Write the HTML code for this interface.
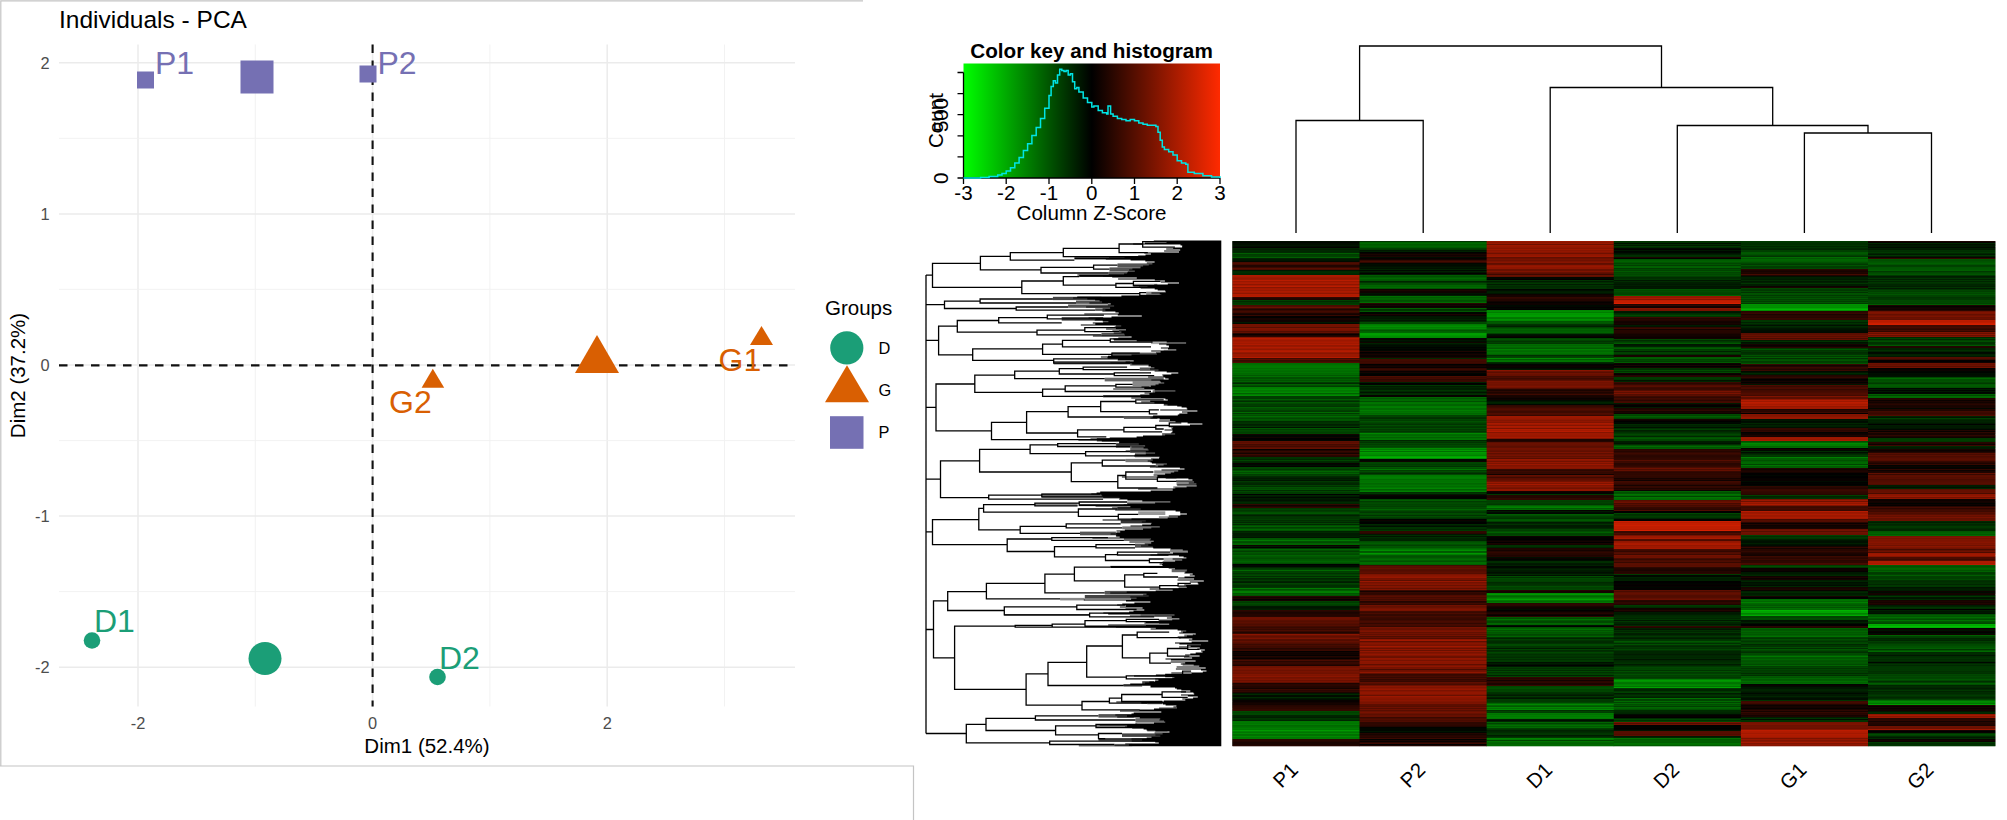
<!DOCTYPE html>
<html lang="en"><head><meta charset="utf-8"><title>PCA and heatmap</title>
<style>
html,body{margin:0;padding:0;background:#fff;}
body{width:2007px;height:820px;overflow:hidden;}
svg{display:block;font-family:"Liberation Sans", sans-serif;}
</style></head><body>
<svg width="2007" height="820" viewBox="0 0 2007 820">
<rect width="2007" height="820" fill="#fff"/>
<g id="pca">
<g stroke="#c4c4c4" stroke-width="1.2" fill="none"><path d="M0.8 766 V0.8 H863"/><path d="M0 766 H913.5 V820"/></g>
<text x="59" y="28" font-size="24.5" fill="#000">Individuals - PCA</text>
<path d="M138.0 44.5 V706.5" stroke="#ebebeb" stroke-width="1.5"/><path d="M372.6 44.5 V706.5" stroke="#ebebeb" stroke-width="1.5"/><path d="M607.2 44.5 V706.5" stroke="#ebebeb" stroke-width="1.5"/><path d="M255.3 44.5 V706.5" stroke="#f0f0f0" stroke-width="0.9"/><path d="M489.9 44.5 V706.5" stroke="#f0f0f0" stroke-width="0.9"/><path d="M724.5 44.5 V706.5" stroke="#f0f0f0" stroke-width="0.9"/><path d="M59 667.2 H795" stroke="#ebebeb" stroke-width="1.5"/><path d="M59 516.1 H795" stroke="#ebebeb" stroke-width="1.5"/><path d="M59 365.0 H795" stroke="#ebebeb" stroke-width="1.5"/><path d="M59 213.9 H795" stroke="#ebebeb" stroke-width="1.5"/><path d="M59 62.8 H795" stroke="#ebebeb" stroke-width="1.5"/><path d="M59 591.6 H795" stroke="#f0f0f0" stroke-width="0.9"/><path d="M59 440.6 H795" stroke="#f0f0f0" stroke-width="0.9"/><path d="M59 289.4 H795" stroke="#f0f0f0" stroke-width="0.9"/><path d="M59 138.4 H795" stroke="#f0f0f0" stroke-width="0.9"/>
<path d="M59 365.4 H795" stroke="#111" stroke-width="2.1" stroke-dasharray="8.5 7.5"/>
<path d="M372.6 706.5 V44.5" stroke="#111" stroke-width="2.1" stroke-dasharray="8.5 7.5" stroke-dashoffset="2.5"/>
<text x="49.5" y="673.1" font-size="16.4" fill="#4d4d4d" text-anchor="end">-2</text>
<text x="49.5" y="522.0" font-size="16.4" fill="#4d4d4d" text-anchor="end">-1</text>
<text x="49.5" y="370.9" font-size="16.4" fill="#4d4d4d" text-anchor="end">0</text>
<text x="49.5" y="219.8" font-size="16.4" fill="#4d4d4d" text-anchor="end">1</text>
<text x="49.5" y="68.7" font-size="16.4" fill="#4d4d4d" text-anchor="end">2</text>
<text x="138.0" y="728.6" font-size="16.4" fill="#4d4d4d" text-anchor="middle">-2</text>
<text x="372.6" y="728.6" font-size="16.4" fill="#4d4d4d" text-anchor="middle">0</text>
<text x="607.2" y="728.6" font-size="16.4" fill="#4d4d4d" text-anchor="middle">2</text>
<text x="427" y="752.8" font-size="20.5" fill="#000" text-anchor="middle">Dim1 (52.4%)</text>
<text transform="translate(24.7 375.5) rotate(-90)" font-size="20.5" fill="#000" text-anchor="middle">Dim2 (37.2%)</text>
<rect x="137" y="71.5" width="17" height="17" fill="#7570b3"/>
<rect x="240.5" y="60.5" width="33" height="33" fill="#7570b3"/>
<rect x="359.5" y="65.5" width="17" height="17" fill="#7570b3"/>
<text x="155" y="73.5" font-size="32" fill="#7570b3">P1</text>
<text x="377.5" y="73.5" font-size="32" fill="#7570b3">P2</text>
<circle cx="92" cy="640.5" r="8.3" fill="#1b9e77"/>
<circle cx="265" cy="658.5" r="16.5" fill="#1b9e77"/>
<circle cx="437.5" cy="677" r="8.3" fill="#1b9e77"/>
<text x="94" y="632" font-size="32" fill="#1b9e77">D1</text>
<text x="439" y="668.5" font-size="32" fill="#1b9e77">D2</text>
<path d="M597 335 L619 373 H575 Z" fill="#d95f02"/>
<path d="M432.8 368.8 L444.2 387.8 H421.6 Z" fill="#d95f02"/>
<path d="M761.5 326 L773 345 H750 Z" fill="#d95f02"/>
<text x="389" y="412.5" font-size="32" fill="#d95f02">G2</text>
<text x="718.5" y="370.8" font-size="32" fill="#d95f02">G1</text>
<text x="825" y="315" font-size="20.5" fill="#000">Groups</text>
<circle cx="846.8" cy="347.9" r="16.6" fill="#1b9e77"/>
<path d="M847 365.2 L869 402.3 H825 Z" fill="#d95f02"/>
<rect x="830" y="416.2" width="33.5" height="32.6" fill="#7570b3"/>
<text x="878.5" y="353.7" font-size="16.4" fill="#000">D</text>
<text x="878.5" y="395.8" font-size="16.4" fill="#000">G</text>
<text x="878.5" y="437.5" font-size="16.4" fill="#000">P</text>
</g>
<g id="key">
<defs><linearGradient id="kg" x1="0" x2="1" y1="0" y2="0"><stop offset="0" stop-color="#00ff00"/><stop offset="0.5" stop-color="#000"/><stop offset="1" stop-color="#ff2a00"/></linearGradient></defs>
<rect x="963.5" y="63.5" width="256.5" height="114.5" fill="url(#kg)"/>
<text x="1091.5" y="58" font-size="20.7" font-weight="bold" text-anchor="middle" fill="#000">Color key and histogram</text>
<text x="963.5" y="200" font-size="20.6" text-anchor="middle" fill="#000">-3</text>
<text x="1006.2" y="200" font-size="20.6" text-anchor="middle" fill="#000">-2</text>
<text x="1049.0" y="200" font-size="20.6" text-anchor="middle" fill="#000">-1</text>
<text x="1091.8" y="200" font-size="20.6" text-anchor="middle" fill="#000">0</text>
<text x="1134.5" y="200" font-size="20.6" text-anchor="middle" fill="#000">1</text>
<text x="1177.2" y="200" font-size="20.6" text-anchor="middle" fill="#000">2</text>
<text x="1220.0" y="200" font-size="20.6" text-anchor="middle" fill="#000">3</text>
<path d="M963.5 178 H1220 M963.5 178 V184 M1006.2 178 V184 M1049.0 178 V184 M1091.8 178 V184 M1134.5 178 V184 M1177.2 178 V184 M1220.0 178 V184 M963.5 178 V72.5 M963.5 72.5 H957.5 M963.5 93.6 H957.5 M963.5 114.7 H957.5 M963.5 135.8 H957.5 M963.5 156.9 H957.5 M963.5 178 H957.5" stroke="#000" stroke-width="1.3" fill="none"/>
<text x="1091.5" y="220" font-size="20.6" text-anchor="middle" fill="#000">Column Z-Score</text>
<text transform="translate(948.3 178.3) rotate(-90)" font-size="20.6" text-anchor="middle" fill="#000">0</text>
<text transform="translate(948.3 114.9) rotate(-90)" font-size="20.6" text-anchor="middle" fill="#000">500</text>
<text transform="translate(943.2 120.6) rotate(-90)" font-size="20.6" text-anchor="middle" fill="#000">Count</text>
<path d="M963.5 178.0 H980.6 V177.4 H989.1 V176.6 H997.7 V175.1 H1002.0 V173.4 H1006.2 V171.1 H1010.5 V167.7 H1014.8 V163.1 H1019.1 V157.4 H1023.4 V150.5 H1027.6 V143.7 H1031.9 V135.6 H1036.2 V127.6 H1040.5 V118.5 H1044.7 V108.2 H1049.0 V95.6 H1051.1 V86.4 H1053.3 V80.7 H1055.4 V83.0 H1057.5 V75.0 H1059.7 V69.2 H1061.8 V70.4 H1064.0 V71.5 H1066.1 V70.4 H1068.2 V75.0 H1070.4 V73.8 H1072.5 V81.8 H1074.7 V88.7 H1076.8 V87.5 H1078.9 V92.1 H1083.2 V97.9 H1087.5 V102.4 H1091.8 V107.0 H1093.9 V105.9 H1098.2 V110.4 H1102.4 V112.7 H1106.7 V113.9 H1108.0 V105.9 H1110.6 V113.9 H1113.1 V116.2 H1117.4 V118.5 H1121.7 V119.6 H1126.0 V120.8 H1130.2 V119.6 H1134.5 V120.8 H1138.8 V123.0 H1143.0 V124.2 H1147.3 V125.3 H1151.6 V125.3 H1155.9 V126.5 H1158.0 V132.2 H1160.2 V140.2 H1162.3 V147.1 H1164.4 V149.4 H1168.7 V151.7 H1173.0 V155.1 H1177.2 V160.8 H1181.5 V163.1 H1185.8 V164.3 H1187.9 V172.3 H1194.3 V173.4 H1202.9 V175.7 H1211.5 V176.9 H1220.0 V178.0" stroke="#00e5e5" stroke-width="1.5" fill="none"/>
</g>
<g id="coldend">
<path d="M1296.0 233 V120.5 H1423.2 V233 M1804.4 233 V133 H1931.5 V233 M1677.3 233 V125.5 H1868.0 V133 M1550.2 233 V87.5 H1772.7 V125.5 M1359.6 120.5 V46 H1661.5 V87.5" stroke="#000" stroke-width="1.3" fill="none"/>
</g>
<g id="rowdend">
<rect x="1074.4" y="257.3" width="73.3" height="2.1" fill="#000"/><rect x="1117.5" y="263.4" width="36.7" height="4.1" fill="#555"/><rect x="1109.5" y="267.4" width="31.9" height="4.1" fill="#555"/><rect x="1108.7" y="271.8" width="27.9" height="3.3" fill="#555"/><rect x="1079.2" y="274.8" width="59.0" height="2.1" fill="#000"/><rect x="1133.4" y="283.8" width="23.9" height="3.3" fill="#888"/><rect x="1146.2" y="291.7" width="23.9" height="3.3" fill="#888"/><rect x="1052.9" y="296.8" width="48.6" height="3.3" fill="#444"/><rect x="1076.0" y="300.5" width="31.9" height="3.3" fill="#555"/><rect x="1068.1" y="304.5" width="52.6" height="3.3" fill="#555"/><rect x="1095.2" y="308.4" width="19.1" height="2.5" fill="#555"/><rect x="1061.7" y="317.0" width="41.5" height="3.7" fill="#555"/><rect x="1103.1" y="321.7" width="12.8" height="3.3" fill="#333"/><rect x="1115.9" y="325.1" width="22.3" height="4.1" fill="#555"/><rect x="1119.1" y="330.1" width="19.1" height="2.5" fill="#666"/><rect x="1101.5" y="332.9" width="27.1" height="3.3" fill="#555"/><rect x="1151.0" y="340.8" width="47.8" height="3.3" fill="#aaa"/><rect x="1163.7" y="349.7" width="22.3" height="2.9" fill="#aaa"/><rect x="1111.9" y="352.6" width="50.2" height="3.3" fill="#555"/><rect x="1107.9" y="356.5" width="30.3" height="2.1" fill="#222"/><rect x="1130.2" y="361.5" width="30.3" height="4.1" fill="#555"/><rect x="1053.7" y="361.1" width="76.5" height="3.3" fill="#555"/><rect x="1139.8" y="367.5" width="22.3" height="3.3" fill="#555"/><rect x="1104.7" y="377.7" width="59.0" height="3.7" fill="#666"/><rect x="1132.6" y="381.0" width="35.9" height="5.0" fill="#888"/><rect x="1152.6" y="390.2" width="31.9" height="3.3" fill="#777"/><rect x="1103.1" y="395.2" width="41.5" height="2.1" fill="#000"/><rect x="1163.7" y="401.7" width="28.7" height="4.1" fill="#666"/><rect x="1123.9" y="416.0" width="33.5" height="2.9" fill="#555"/><rect x="1162.1" y="433.1" width="23.9" height="2.9" fill="#666"/><rect x="1096.8" y="438.1" width="44.6" height="3.3" fill="#333"/><rect x="1115.9" y="442.9" width="27.1" height="2.5" fill="#555"/><rect x="1115.9" y="445.3" width="38.3" height="2.5" fill="#666"/><rect x="1130.2" y="448.0" width="46.2" height="5.0" fill="#666"/><rect x="1135.0" y="453.2" width="28.7" height="4.1" fill="#666"/><rect x="1125.5" y="458.9" width="28.7" height="3.3" fill="#777"/><rect x="1155.8" y="462.4" width="27.1" height="5.0" fill="#777"/><rect x="1154.2" y="470.4" width="35.1" height="3.3" fill="#888"/><rect x="1176.5" y="481.1" width="23.9" height="4.1" fill="#888"/><rect x="1173.3" y="486.3" width="25.5" height="3.3" fill="#888"/><rect x="1178.1" y="488.9" width="20.7" height="2.1" fill="#777"/><rect x="1041.8" y="493.6" width="61.4" height="4.1" fill="#666"/><rect x="1103.1" y="495.1" width="27.1" height="3.3" fill="#222"/><rect x="1127.1" y="501.4" width="46.2" height="2.5" fill="#888"/><rect x="1034.9" y="503.2" width="42.7" height="2.5" fill="#888"/><rect x="1079.2" y="504.4" width="47.8" height="1.7" fill="#000"/><rect x="1117.5" y="507.0" width="27.1" height="2.9" fill="#444"/><rect x="1138.2" y="511.3" width="27.1" height="3.7" fill="#999"/><rect x="1158.9" y="516.2" width="22.3" height="4.1" fill="#999"/><rect x="1120.7" y="520.1" width="33.5" height="3.3" fill="#333"/><rect x="1122.3" y="526.4" width="47.8" height="2.9" fill="#777"/><rect x="1080.0" y="531.6" width="35.9" height="3.7" fill="#555"/><rect x="1115.9" y="532.7" width="15.9" height="3.7" fill="#222"/><rect x="1123.9" y="537.7" width="30.3" height="3.3" fill="#666"/><rect x="1135.0" y="543.6" width="19.1" height="4.1" fill="#555"/><rect x="1170.1" y="549.3" width="23.9" height="3.3" fill="#888"/><rect x="1163.7" y="557.8" width="25.5" height="3.3" fill="#aaa"/><rect x="1110.3" y="565.9" width="59.8" height="2.1" fill="#000"/><rect x="1171.7" y="568.9" width="20.7" height="3.3" fill="#666"/><rect x="1104.7" y="590.9" width="52.6" height="3.7" fill="#555"/><rect x="1084.8" y="595.0" width="69.4" height="3.7" fill="#444"/><rect x="1060.1" y="597.9" width="24.7" height="2.5" fill="#888"/><rect x="1154.2" y="607.2" width="31.9" height="2.9" fill="#888"/><rect x="1154.2" y="614.0" width="22.3" height="2.5" fill="#888"/><rect x="1004.2" y="614.0" width="85.8" height="1.8" fill="#666"/><rect x="1140.6" y="614.0" width="13.5" height="2.6" fill="#aaa"/><rect x="1159.1" y="619.4" width="28.6" height="4.4" fill="#666"/><rect x="1085.0" y="625.5" width="107.7" height="2.2" fill="#000"/><rect x="1181.0" y="629.1" width="13.5" height="3.5" fill="#777"/><rect x="1184.3" y="634.5" width="10.1" height="3.5" fill="#777"/><rect x="1182.6" y="663.2" width="16.8" height="2.6" fill="#888"/><rect x="1142.2" y="681.2" width="11.8" height="4.4" fill="#444"/><rect x="1123.7" y="684.4" width="18.5" height="2.2" fill="#555"/><rect x="1147.3" y="701.6" width="15.1" height="2.6" fill="#555"/><rect x="1159.1" y="707.4" width="21.9" height="3.5" fill="#666"/><rect x="1098.5" y="714.1" width="35.3" height="3.5" fill="#555"/><rect x="1135.5" y="718.2" width="37.0" height="4.4" fill="#666"/><rect x="1096.0" y="724.0" width="41.2" height="3.9" fill="#777"/><rect x="1147.3" y="728.8" width="20.2" height="2.6" fill="#555"/><rect x="1122.0" y="733.4" width="47.1" height="3.5" fill="#444"/><rect x="1098.5" y="738.1" width="52.2" height="2.6" fill="#333"/><rect x="1114.5" y="743.9" width="17.7" height="2.2" fill="#555"/>
<path d="M1221.3 240.5H1153.8V241.5H1166.5V242.5H1144.8V243.5H1133.1V244.5H1180.5V245.5H1182.2V246.5H1182.1V247.5H1173.2V248.5H1166.2V249.5H1180.2V250.5H1164.1V251.5H1179.0V252.5H1144.3V253.5H1150.9V254.5H1145.5V255.5H1138.2V256.5H1124.5V257.5H1109.0V258.5H1105.8V259.5H1130.6V260.5H1145.3V261.5H1154.6V262.5H1146.8V263.5H1152.4V264.5H1148.8V265.5H1143.1V266.5H1140.6V267.5H1140.4V268.5H1132.4V269.5H1129.1V270.5H1134.8V271.5H1127.8V272.5H1127.1V273.5H1124.1V274.5H1077.4V275.5H1103.0V276.5H1112.2V277.5H1136.8V278.5H1118.1V279.5H1154.8V280.5H1164.9V281.5H1160.8V282.5H1179.0V283.5H1167.8V284.5H1154.2V285.5H1138.9V286.5H1147.5V287.5H1140.6V288.5H1154.7V289.5H1157.7V290.5H1165.2V291.5H1165.8V292.5H1151.4V293.5H1159.7V294.5H1161.3V295.5H1121.4V296.5H1077.2V297.5H1073.1V298.5H1087.3V299.5H1095.1V300.5H1099.6V301.5H1102.1V302.5H1089.4V303.5H1110.7V304.5H1107.9V305.5H1114.1V306.5H1086.1V307.5H1110.1V308.5H1102.6V309.5H1105.4V310.5H1102.4V311.5H1115.4V312.5H1118.7V313.5H1084.3V314.5H1117.8V315.5H1141.8V316.5H1111.5V317.5H1088.6V318.5H1095.5V319.5H1094.7V320.5H1102.7V321.5H1108.4V322.5H1092.8V323.5H1095.3V324.5H1080.8V325.5H1121.2V326.5H1114.7V327.5H1115.9V328.5H1106.1V329.5H1126.0V330.5H1112.4V331.5H1121.4V332.5H1113.7V333.5H1124.2V334.5H1124.9V335.5H1092.9V336.5H1131.6V337.5H1118.3V338.5H1113.3V339.5H1113.9V340.5H1136.7V341.5H1166.7V342.5H1186.1V343.5H1159.0V344.5H1166.4V345.5H1168.9V346.5H1168.9V347.5H1160.9V348.5H1168.0V349.5H1176.3V350.5H1151.2V351.5H1160.6V352.5H1156.0V353.5H1157.0V354.5H1131.5V355.5H1111.4V356.5H1100.9V357.5H1107.5V358.5H1118.0V359.5H1117.7V360.5H1133.7V361.5H1125.6V362.5H1110.4V363.5H1132.2V364.5H1148.6V365.5H1148.5V366.5H1150.9V367.5H1154.4V368.5H1150.0V369.5H1158.5V370.5H1154.6V371.5H1166.7V372.5H1178.3V373.5H1171.3V374.5H1162.3V375.5H1163.3V376.5H1148.1V377.5H1165.2V378.5H1168.6V379.5H1151.3V380.5H1159.9V381.5H1160.9V382.5H1164.2V383.5H1158.6V384.5H1155.5V385.5H1150.8V386.5H1141.5V387.5H1144.3V388.5H1113.2V389.5H1154.6V390.5H1175.4V391.5H1155.1V392.5H1144.5V393.5H1149.4V394.5H1140.2V395.5H1140.2V396.5H1140.9V397.5H1131.3V398.5H1165.4V399.5H1167.8V400.5H1150.2V401.5H1141.2V402.5H1154.4V403.5H1164.0V404.5H1167.5V405.5H1177.2V406.5H1181.6V407.5H1186.6V408.5H1187.3V409.5H1160.2V410.5H1197.4V411.5H1182.0V412.5H1187.4V413.5H1179.3V414.5H1177.8V415.5H1153.1V416.5H1152.6V417.5H1150.4V418.5H1159.6V419.5H1170.0V420.5H1159.1V421.5H1175.5V422.5H1187.6V423.5H1202.4V424.5H1190.0V425.5H1169.6V426.5H1173.1V427.5H1171.3V428.5H1172.3V429.5H1164.5V430.5H1172.6V431.5H1172.2V432.5H1170.9V433.5H1175.1V434.5H1165.1V435.5H1143.0V436.5H1136.6V437.5H1109.7V438.5H1090.5V439.5H1078.4V440.5H1101.8V441.5H1119.2V442.5H1119.0V443.5H1138.8V444.5H1116.5V445.5H1145.1V446.5H1131.4V447.5H1143.6V448.5H1147.7V449.5H1148.6V450.5H1125.7V451.5H1145.8V452.5H1155.1V453.5H1145.8V454.5H1134.7V455.5H1134.3V456.5H1159.6V457.5H1159.0V458.5H1151.1V459.5H1152.7V460.5H1147.7V461.5H1150.5V462.5H1151.9V463.5H1166.9V464.5H1163.6V465.5H1158.1V466.5H1149.9V467.5H1179.9V468.5H1184.5V469.5H1161.5V470.5H1178.2V471.5H1174.2V472.5H1170.8V473.5H1165.1V474.5H1153.6V475.5H1157.4V476.5H1121.9V477.5H1165.7V478.5H1188.4V479.5H1192.5V480.5H1176.1V481.5H1194.1V482.5H1188.8V483.5H1196.4V484.5H1177.2V485.5H1196.7V486.5H1186.6V487.5H1175.3V488.5H1138.1V489.5H1172.7V490.5H1150.7V491.5H1100.2V492.5H1096.6V493.5H1091.3V494.5H1101.4V495.5H1102.2V496.5H1119.2V497.5H1120.2V498.5H1119.1V499.5H1127.4V500.5H1142.3V501.5H1170.4V502.5H1155.1V503.5H1127.2V504.5H1123.7V505.5H1095.6V506.5H1130.4V507.5H1112.1V508.5H1140.7V509.5H1115.2V510.5H1175.6V511.5H1180.2V512.5H1180.2V513.5H1186.9V514.5H1180.3V515.5H1168.8V516.5H1177.9V517.5H1167.7V518.5H1131.5V519.5H1102.6V520.5H1145.8V521.5H1141.9V522.5H1151.7V523.5H1150.9V524.5H1142.2V525.5H1130.5V526.5H1159.8V527.5H1151.3V528.5H1143.0V529.5H1124.8V530.5H1116.5V531.5H1120.2V532.5H1116.6V533.5H1110.6V534.5H1117.3V535.5H1116.3V536.5H1119.7V537.5H1092.4V538.5H1151.0V539.5H1149.8V540.5H1153.7V541.5H1129.4V542.5H1151.2V543.5H1144.7V544.5H1148.3V545.5H1141.0V546.5H1152.8V547.5H1153.3V548.5H1170.6V549.5H1182.8V550.5H1187.8V551.5H1188.0V552.5H1173.0V553.5H1157.3V554.5H1150.4V555.5H1179.0V556.5H1183.6V557.5H1186.4V558.5H1172.6V559.5H1182.2V560.5H1175.1V561.5H1162.6V562.5H1162.9V563.5H1159.6V564.5H1162.1V565.5H1162.9V566.5H1163.6V567.5H1168.7V568.5H1175.0V569.5H1187.1V570.5H1186.7V571.5H1185.3V572.5H1184.4V573.5H1192.7V574.5H1189.8V575.5H1194.7V576.5H1184.5V577.5H1178.2V578.5H1194.1V579.5H1177.5V580.5H1203.8V581.5H1189.8V582.5H1197.7V583.5H1198.4V584.5H1184.3V585.5H1186.1V586.5H1186.8V587.5H1178.6V588.5H1149.7V589.5H1172.7V590.5H1155.7V591.5H1126.7V592.5H1110.2V593.5H1146.5V594.5H1143.2V595.5H1148.7V596.5H1130.3V597.5H1136.6V598.5H1131.1V599.5H1083.8V600.5H1126.0V601.5H1150.4V602.5H1134.4V603.5H1122.3V604.5H1117.1V605.5H1126.0V606.5H1119.9V607.5H1142.6V608.5H1125.5V609.5H1144.3V610.5H1133.5V611.5H1129.1V612.5H1103.3V613.5H1108.2V614.5H1174.5V615.5H1129.9V616.5H1171.8V617.5H1166.9V618.5H1179.4V619.5H1172.2V620.5H1158.4V621.5H1145.7V622.5H1144.4V623.5H1169.2V624.5H1108.2V625.5H1145.9V626.5H1115.9V627.5H1155.8V628.5H1150.6V629.5H1177.6V630.5H1186.2V631.5H1182.9V632.5H1179.2V633.5H1195.7V634.5H1192.8V635.5H1187.0V636.5H1177.7V637.5H1178.8V638.5H1192.3V639.5H1188.9V640.5H1208.2V641.5H1191.6V642.5H1175.0V643.5H1179.4V644.5H1201.0V645.5H1190.6V646.5H1179.1V647.5H1199.8V648.5H1197.3V649.5H1204.8V650.5H1201.0V651.5H1202.5V652.5H1195.7V653.5H1190.3V654.5H1185.1V655.5H1199.6V656.5H1184.0V657.5H1192.1V658.5H1165.5V659.5H1170.9V660.5H1195.6V661.5H1170.7V662.5H1185.2V663.5H1180.8V664.5H1193.7V665.5H1199.2V666.5H1176.6V667.5H1205.7V668.5H1175.9V669.5H1201.0V670.5H1206.5V671.5H1202.8V672.5H1171.3V673.5H1191.6V674.5H1155.9V675.5H1134.0V676.5H1174.4V677.5H1172.3V678.5H1155.2V679.5H1158.4V680.5H1155.1V681.5H1149.3V682.5H1145.1V683.5H1130.2V684.5H1123.4V685.5H1150.5V686.5H1150.5V687.5H1175.0V688.5H1176.8V689.5H1181.3V690.5H1190.3V691.5H1180.9V692.5H1193.4V693.5H1194.2V694.5H1181.0V695.5H1187.9V696.5H1197.8V697.5H1193.1V698.5H1182.3V699.5H1185.3V700.5H1163.8V701.5H1116.3V702.5H1141.3V703.5H1162.9V704.5H1165.6V705.5H1176.4V706.5H1173.4V707.5H1177.0V708.5H1154.0V709.5H1139.3V710.5H1120.0V711.5H1161.3V712.5H1133.7V713.5H1131.5V714.5H1115.3V715.5H1127.0V716.5H1117.2V717.5H1139.8V718.5H1160.2V719.5H1159.4V720.5H1164.0V721.5H1165.2V722.5H1154.0V723.5H1135.3V724.5H1099.7V725.5H1127.1V726.5H1125.1V727.5H1132.2V728.5H1143.6V729.5H1146.6V730.5H1155.3V731.5H1169.5V732.5H1154.6V733.5H1162.6V734.5H1155.4V735.5H1160.3V736.5H1151.5V737.5H1146.7V738.5H1131.5V739.5H1142.1V740.5H1131.7V741.5H1155.2V742.5H1158.8V743.5H1125.2V744.5H1128.9V745.5H1078.8V746.2H1221.3Z" fill="#000"/>
<path d="M980.4 263.4H932.5V287.3H1021.8M1010.3 256.4H980.4V269.8H1041.0M1063.3 252.7H1010.3V260.2H1074.4M1119.1 248.4H1063.3V256.7H1147.8M1142.7 244.0H1119.1V252.7H1147.8M1166.9 241.6H1142.7V247.2H1174.9M1093.6 267.4H1041.0V273.0H1108.7M1117.5 265.2H1093.6V269.2H1109.5M1063.3 281.0H1021.8V293.7H1139.8M1079.2 276.7H1063.3V285.1H1115.9M1133.4 283.5H1115.9V287.3H1157.4M1160.5 281.4H1133.4V285.7H1157.4M1146.2 292.6H1139.8V295.3H1170.1M980.1 301.1H944.5V308.5H1016.2M1052.9 299.0H980.1V303.0H1076.0M1068.1 307.0H1016.2V310.1H1095.2M957.3 326.1H938.6V354.8H972.7M998.7 320.5H957.3V332.1H1037.0M1047.3 317.6H998.7V322.9H1061.7M1103.9 315.2H1047.3V318.9H1103.1M1084.8 330.1H1037.0V334.9H1101.5M1115.9 327.7H1084.8V331.7H1119.1M1042.6 348.9H972.7V360.4H1053.7M1062.5 344.1H1042.6V354.3H1111.9M1110.3 340.4H1062.5V346.8H1151.0M1151.0 338.8H1110.3V342.0H1152.6M1160.5 358.8H1053.7V363.1H1130.2M1139.8 353.2H1111.9V356.4H1107.9M974.8 384.0H936.0V430.9H991.5M1014.7 375.1H974.8V392.3H1042.6M1059.3 371.2H1014.7V378.7H1104.7M1083.2 368.7H1059.3V374.0H1114.3M1127.1 367.1H1083.2V369.7H1139.8M1151.0 372.8H1114.3V375.6H1154.2M1065.2 389.1H1042.6V396.3H1103.1M1115.9 385.9H1065.2V391.5H1151.0M1132.6 384.3H1115.9V387.2H1149.4M1026.6 422.3H991.5V439.6H1096.8M1068.1 411.7H1026.6V433.0H1077.6M1100.7 406.6H1068.1V417.0H1123.9M1135.8 401.5H1100.7V411.7H1149.4M1163.7 399.9H1135.8V403.1H1165.3M1158.9 409.8H1149.4V413.8H1157.4M1123.9 429.8H1077.6V436.9H1106.3M1155.8 427.4H1123.9V431.8H1162.1M1169.3 425.5H1155.8V429.0H1163.7M1181.3 422.9H1169.3V426.6H1184.5M1030.1 449.4H979.6V472.0H1071.3M1057.7 444.9H1030.1V453.7H1085.6M1115.9 443.6H1057.7V446.5H1130.2M1130.2 451.6H1085.6V455.8H1135.0M1102.3 462.8H1071.3V481.6H1117.8M1125.5 460.1H1102.3V466.0H1155.8M1125.8 475.5H1117.8V488.0H1157.4M1153.4 472.0H1125.8V479.2H1157.4M1176.5 477.6H1157.4V481.3H1176.5M1041.8 495.2H988.7V499.2H1103.1M1100.0 494.1H1041.8V496.8H1130.2M978.8 519.6H932.5V544.6H1007.2M983.6 508.4H978.8V529.8H1020.2M1034.9 504.7H983.6V512.2H1078.4M1079.2 503.1H1034.9V505.9H1077.6M1127.1 502.0H1079.2V505.2H1154.2M1117.5 509.0H1078.4V516.4H1118.3M1138.2 514.3H1118.3V519.1H1158.9M1066.2 526.3H1020.2V533.4H1080.0M1120.7 523.9H1066.2V527.9H1122.3M1051.8 539.0H1007.2V551.5H1054.5M1107.9 537.7H1051.8V540.3H1123.9M1096.0 546.7H1054.5V556.9H1105.5M1135.0 544.6H1096.0V547.8H1135.0M1117.5 554.6H1105.5V560.5H1149.4M1170.1 552.1H1117.5V555.0H1168.5M1163.7 559.0H1149.4V562.6H1166.9M986.4 591.6H947.7V610.5H1004.3M1044.9 583.3H986.4V598.8H1060.1M1074.4 574.1H1044.9V592.8H1104.7M1110.3 567.2H1074.4V580.8H1124.7M1143.8 574.9H1124.7V587.2H1159.7M1157.4 573.3H1143.8V577.0H1178.1M1178.1 585.6H1159.7V588.8H1194.0M1190.8 583.3H1178.1V586.1H1190.8M1076.8 606.8H1004.3V614.8H1089.6M1125.5 605.2H1076.8V609.5H1136.6M1176.5 613.2H1089.6V616.8H1154.2M1015.2 626.1H954.6V689.4H1026.1M1052.2 625.4H1015.2V627.1H1085.0M1085.0 624.1H1052.2V627.1H1085.0M1126.3 620.7H1085.0V626.6H1191.1M1159.1 619.4H1126.3V621.6H1159.1M1048.0 673.8H1026.1V705.2H1082.0M1086.7 662.3H1048.0V685.5H1123.7M1122.4 646.0H1086.7V677.1H1126.3M1137.2 635.0H1122.4V657.8H1149.8M1169.2 632.2H1137.2V637.6H1181.0M1167.5 653.1H1149.8V663.2H1170.9M1187.7 648.5H1167.5V656.1H1189.4M1201.2 645.1H1187.7V649.3H1199.5M1165.8 675.9H1126.3V678.8H1179.3M1182.6 674.3H1165.8V676.6H1179.3M1191.1 671.2H1182.6V674.6H1201.2M1109.4 701.5H1082.0V709.9H1139.7M1121.7 698.2H1109.4V703.2H1147.3M1162.1 694.5H1121.7V701.5H1162.4M1186.0 691.8H1162.1V697.3H1187.7M986.0 724.3H966.3V742.8H1049.7M1035.4 718.4H986.0V730.5H1055.6M1098.5 715.8H1035.4V720.0H1135.5M1096.0 725.9H1055.6V734.9H1098.5M1137.2 724.3H1096.0V727.6H1147.3M1122.0 733.5H1098.5V738.6H1105.2M1167.5 741.1H1049.7V744.5H1114.5M926.0 275.1 V733.5M926.0 275.1 H932.5M926.0 304.6 H944.5M926.0 340.4 H938.6M926.0 407.4 H936.0M926.0 479.2 H940.5M926.0 531.8 H932.5M926.0 629.5 H933.5M926.0 733.5 H966.3M979.6 460.9 H940.5 V497.6 H988.7M947.7 600.9 H933.5 V657.8 H954.6" stroke="#000" stroke-width="1.3" fill="none"/>
</g>
<g id="heat">
<rect x="1232.5" y="241" width="762.6" height="505" fill="#0a1a00"/>
<rect x="1232.5" y="241" width="127.4" height="1.3" fill="#000e00"/><rect x="1232.5" y="242" width="127.4" height="1.3" fill="#000500"/><rect x="1232.5" y="243" width="127.4" height="1.3" fill="#000d00"/><rect x="1232.5" y="244" width="127.4" height="1.3" fill="#000e00"/><rect x="1232.5" y="245" width="127.4" height="1.3" fill="#001500"/><rect x="1232.5" y="246" width="127.4" height="1.3" fill="#000d00"/><rect x="1232.5" y="247" width="127.4" height="1.3" fill="#020000"/><rect x="1232.5" y="248" width="127.4" height="1.3" fill="#002600"/><rect x="1232.5" y="249" width="127.4" height="1.3" fill="#001f00"/><rect x="1232.5" y="250" width="127.4" height="1.3" fill="#002800"/><rect x="1232.5" y="251" width="127.4" height="1.3" fill="#002600"/><rect x="1232.5" y="252" width="127.4" height="1.3" fill="#002900"/><rect x="1232.5" y="253" width="127.4" height="1.3" fill="#005e00"/><rect x="1232.5" y="254" width="127.4" height="1.3" fill="#003d00"/><rect x="1232.5" y="255" width="127.4" height="1.3" fill="#004100"/><rect x="1232.5" y="256" width="127.4" height="1.3" fill="#004200"/><rect x="1232.5" y="257" width="127.4" height="1.3" fill="#005e00"/><rect x="1232.5" y="258" width="127.4" height="1.3" fill="#002200"/><rect x="1232.5" y="259" width="127.4" height="1.3" fill="#001800"/><rect x="1232.5" y="260" width="127.4" height="1.3" fill="#001400"/><rect x="1232.5" y="261" width="127.4" height="1.3" fill="#000b00"/><rect x="1232.5" y="262" width="127.4" height="1.3" fill="#470b00"/><rect x="1232.5" y="263" width="127.4" height="1.3" fill="#4f0c00"/><rect x="1232.5" y="264" width="127.4" height="1.3" fill="#400a00"/><rect x="1232.5" y="265" width="127.4" height="1.3" fill="#200500"/><rect x="1232.5" y="266" width="127.4" height="1.3" fill="#210500"/><rect x="1232.5" y="267" width="127.4" height="1.3" fill="#380800"/><rect x="1232.5" y="268" width="127.4" height="1.3" fill="#570d00"/><rect x="1232.5" y="269" width="127.4" height="1.3" fill="#480b00"/><rect x="1232.5" y="270" width="127.4" height="1.3" fill="#001600"/><rect x="1232.5" y="271" width="127.4" height="1.3" fill="#002b00"/><rect x="1232.5" y="272" width="127.4" height="1.3" fill="#002d00"/><rect x="1232.5" y="273" width="127.4" height="1.3" fill="#002800"/><rect x="1232.5" y="274" width="127.4" height="1.3" fill="#002500"/><rect x="1232.5" y="275" width="127.4" height="1.3" fill="#b01a00"/><rect x="1232.5" y="276" width="127.4" height="1.3" fill="#aa1a00"/><rect x="1232.5" y="277" width="127.4" height="1.3" fill="#9f1800"/><rect x="1232.5" y="278" width="127.4" height="1.3" fill="#971700"/><rect x="1232.5" y="279" width="127.4" height="1.3" fill="#9d1800"/><rect x="1232.5" y="280" width="127.4" height="1.3" fill="#b91c00"/><rect x="1232.5" y="281" width="127.4" height="1.3" fill="#991700"/><rect x="1232.5" y="282" width="127.4" height="1.3" fill="#a91900"/><rect x="1232.5" y="283" width="127.4" height="1.3" fill="#ac1a00"/><rect x="1232.5" y="284" width="127.4" height="1.3" fill="#8e1500"/><rect x="1232.5" y="285" width="127.4" height="1.3" fill="#a61900"/><rect x="1232.5" y="286" width="127.4" height="1.3" fill="#ba1c00"/><rect x="1232.5" y="287" width="127.4" height="1.3" fill="#861400"/><rect x="1232.5" y="288" width="127.4" height="1.3" fill="#a11800"/><rect x="1232.5" y="289" width="127.4" height="1.3" fill="#a41900"/><rect x="1232.5" y="290" width="127.4" height="1.3" fill="#991700"/><rect x="1232.5" y="291" width="127.4" height="1.3" fill="#ad1a00"/><rect x="1232.5" y="292" width="127.4" height="1.3" fill="#a51900"/><rect x="1232.5" y="293" width="127.4" height="1.3" fill="#8f1500"/><rect x="1232.5" y="294" width="127.4" height="1.3" fill="#b31b00"/><rect x="1232.5" y="295" width="127.4" height="1.3" fill="#b01a00"/><rect x="1232.5" y="296" width="127.4" height="1.3" fill="#b51b00"/><rect x="1232.5" y="297" width="127.4" height="1.3" fill="#2e0700"/><rect x="1232.5" y="298" width="127.4" height="1.3" fill="#210500"/><rect x="1232.5" y="299" width="127.4" height="1.3" fill="#1e0400"/><rect x="1232.5" y="300" width="127.4" height="1.3" fill="#004200"/><rect x="1232.5" y="301" width="127.4" height="1.3" fill="#002b00"/><rect x="1232.5" y="302" width="127.4" height="1.3" fill="#003a00"/><rect x="1232.5" y="303" width="127.4" height="1.3" fill="#003800"/><rect x="1232.5" y="304" width="127.4" height="1.3" fill="#004200"/><rect x="1232.5" y="305" width="127.4" height="1.3" fill="#490b00"/><rect x="1232.5" y="306" width="127.4" height="1.3" fill="#4f0c00"/><rect x="1232.5" y="307" width="127.4" height="1.3" fill="#681000"/><rect x="1232.5" y="308" width="127.4" height="1.3" fill="#3b0900"/><rect x="1232.5" y="309" width="127.4" height="1.3" fill="#200500"/><rect x="1232.5" y="310" width="127.4" height="1.3" fill="#350800"/><rect x="1232.5" y="311" width="127.4" height="1.3" fill="#440a00"/><rect x="1232.5" y="312" width="127.4" height="1.3" fill="#3a0900"/><rect x="1232.5" y="313" width="127.4" height="1.3" fill="#1b0400"/><rect x="1232.5" y="314" width="127.4" height="1.3" fill="#130300"/><rect x="1232.5" y="315" width="127.4" height="1.3" fill="#370800"/><rect x="1232.5" y="316" width="127.4" height="1.3" fill="#030000"/><rect x="1232.5" y="317" width="127.4" height="1.3" fill="#000200"/><rect x="1232.5" y="318" width="127.4" height="1.3" fill="#160300"/><rect x="1232.5" y="319" width="127.4" height="1.3" fill="#170300"/><rect x="1232.5" y="320" width="127.4" height="1.3" fill="#0d0200"/><rect x="1232.5" y="321" width="127.4" height="1.3" fill="#0e0200"/><rect x="1232.5" y="322" width="127.4" height="1.3" fill="#001800"/><rect x="1232.5" y="323" width="127.4" height="1.3" fill="#000a00"/><rect x="1232.5" y="324" width="127.4" height="1.3" fill="#751200"/><rect x="1232.5" y="325" width="127.4" height="1.3" fill="#731100"/><rect x="1232.5" y="326" width="127.4" height="1.3" fill="#741100"/><rect x="1232.5" y="327" width="127.4" height="1.3" fill="#560d00"/><rect x="1232.5" y="328" width="127.4" height="1.3" fill="#7e1300"/><rect x="1232.5" y="329" width="127.4" height="1.3" fill="#791200"/><rect x="1232.5" y="330" width="127.4" height="1.3" fill="#731100"/><rect x="1232.5" y="331" width="127.4" height="1.3" fill="#500c00"/><rect x="1232.5" y="332" width="127.4" height="1.3" fill="#630f00"/><rect x="1232.5" y="333" width="127.4" height="1.3" fill="#270600"/><rect x="1232.5" y="334" width="127.4" height="1.3" fill="#080100"/><rect x="1232.5" y="335" width="127.4" height="1.3" fill="#1b0400"/><rect x="1232.5" y="336" width="127.4" height="1.3" fill="#290600"/><rect x="1232.5" y="337" width="127.4" height="1.3" fill="#8a1500"/><rect x="1232.5" y="338" width="127.4" height="1.3" fill="#b71b00"/><rect x="1232.5" y="339" width="127.4" height="1.3" fill="#a71900"/><rect x="1232.5" y="340" width="127.4" height="1.3" fill="#9c1700"/><rect x="1232.5" y="341" width="127.4" height="1.3" fill="#a31800"/><rect x="1232.5" y="342" width="127.4" height="1.3" fill="#a91900"/><rect x="1232.5" y="343" width="127.4" height="1.3" fill="#a01800"/><rect x="1232.5" y="344" width="127.4" height="1.3" fill="#b01a00"/><rect x="1232.5" y="345" width="127.4" height="1.3" fill="#941600"/><rect x="1232.5" y="346" width="127.4" height="1.3" fill="#981700"/><rect x="1232.5" y="347" width="127.4" height="1.3" fill="#af1a00"/><rect x="1232.5" y="348" width="127.4" height="1.3" fill="#9f1800"/><rect x="1232.5" y="349" width="127.4" height="1.3" fill="#911600"/><rect x="1232.5" y="350" width="127.4" height="1.3" fill="#ad1a00"/><rect x="1232.5" y="351" width="127.4" height="1.3" fill="#b51b00"/><rect x="1232.5" y="352" width="127.4" height="1.3" fill="#971700"/><rect x="1232.5" y="353" width="127.4" height="1.3" fill="#891500"/><rect x="1232.5" y="354" width="127.4" height="2.3" fill="#9c1700"/><rect x="1232.5" y="356" width="127.4" height="1.3" fill="#9a1700"/><rect x="1232.5" y="357" width="127.4" height="1.3" fill="#b41b00"/><rect x="1232.5" y="358" width="127.4" height="1.3" fill="#3b0900"/><rect x="1232.5" y="359" width="127.4" height="1.3" fill="#580d00"/><rect x="1232.5" y="360" width="127.4" height="1.3" fill="#380800"/><rect x="1232.5" y="361" width="127.4" height="1.3" fill="#3e0900"/><rect x="1232.5" y="362" width="127.4" height="1.3" fill="#500c00"/><rect x="1232.5" y="363" width="127.4" height="1.3" fill="#006a00"/><rect x="1232.5" y="364" width="127.4" height="1.3" fill="#006e00"/><rect x="1232.5" y="365" width="127.4" height="1.3" fill="#007500"/><rect x="1232.5" y="366" width="127.4" height="2.3" fill="#007800"/><rect x="1232.5" y="368" width="127.4" height="1.3" fill="#006b00"/><rect x="1232.5" y="369" width="127.4" height="1.3" fill="#007600"/><rect x="1232.5" y="370" width="127.4" height="1.3" fill="#006f00"/><rect x="1232.5" y="371" width="127.4" height="1.3" fill="#006b00"/><rect x="1232.5" y="372" width="127.4" height="1.3" fill="#007300"/><rect x="1232.5" y="373" width="127.4" height="1.3" fill="#006800"/><rect x="1232.5" y="374" width="127.4" height="1.3" fill="#006b00"/><rect x="1232.5" y="375" width="127.4" height="1.3" fill="#005700"/><rect x="1232.5" y="376" width="127.4" height="1.3" fill="#006f00"/><rect x="1232.5" y="377" width="127.4" height="1.3" fill="#004e00"/><rect x="1232.5" y="378" width="127.4" height="1.3" fill="#004d00"/><rect x="1232.5" y="379" width="127.4" height="1.3" fill="#005e00"/><rect x="1232.5" y="380" width="127.4" height="1.3" fill="#005100"/><rect x="1232.5" y="381" width="127.4" height="1.3" fill="#006200"/><rect x="1232.5" y="382" width="127.4" height="1.3" fill="#003c00"/><rect x="1232.5" y="383" width="127.4" height="1.3" fill="#002900"/><rect x="1232.5" y="384" width="127.4" height="1.3" fill="#006100"/><rect x="1232.5" y="385" width="127.4" height="1.3" fill="#004f00"/><rect x="1232.5" y="386" width="127.4" height="1.3" fill="#003e00"/><rect x="1232.5" y="387" width="127.4" height="1.3" fill="#007c00"/><rect x="1232.5" y="388" width="127.4" height="1.3" fill="#007e00"/><rect x="1232.5" y="389" width="127.4" height="1.3" fill="#008800"/><rect x="1232.5" y="390" width="127.4" height="1.3" fill="#007800"/><rect x="1232.5" y="391" width="127.4" height="1.3" fill="#007d00"/><rect x="1232.5" y="392" width="127.4" height="1.3" fill="#008900"/><rect x="1232.5" y="393" width="127.4" height="1.3" fill="#005e00"/><rect x="1232.5" y="394" width="127.4" height="1.3" fill="#007c00"/><rect x="1232.5" y="395" width="127.4" height="1.3" fill="#008a00"/><rect x="1232.5" y="396" width="127.4" height="1.3" fill="#003b00"/><rect x="1232.5" y="397" width="127.4" height="1.3" fill="#003c00"/><rect x="1232.5" y="398" width="127.4" height="1.3" fill="#003a00"/><rect x="1232.5" y="399" width="127.4" height="1.3" fill="#005c00"/><rect x="1232.5" y="400" width="127.4" height="1.3" fill="#004000"/><rect x="1232.5" y="401" width="127.4" height="1.3" fill="#002d00"/><rect x="1232.5" y="402" width="127.4" height="1.3" fill="#005700"/><rect x="1232.5" y="403" width="127.4" height="1.3" fill="#004900"/><rect x="1232.5" y="404" width="127.4" height="1.3" fill="#003c00"/><rect x="1232.5" y="405" width="127.4" height="1.3" fill="#003d00"/><rect x="1232.5" y="406" width="127.4" height="1.3" fill="#003500"/><rect x="1232.5" y="407" width="127.4" height="1.3" fill="#005e00"/><rect x="1232.5" y="408" width="127.4" height="1.3" fill="#004d00"/><rect x="1232.5" y="409" width="127.4" height="1.3" fill="#004c00"/><rect x="1232.5" y="410" width="127.4" height="1.3" fill="#004000"/><rect x="1232.5" y="411" width="127.4" height="1.3" fill="#003a00"/><rect x="1232.5" y="412" width="127.4" height="1.3" fill="#006b00"/><rect x="1232.5" y="413" width="127.4" height="1.3" fill="#003a00"/><rect x="1232.5" y="414" width="127.4" height="1.3" fill="#005b00"/><rect x="1232.5" y="415" width="127.4" height="1.3" fill="#004d00"/><rect x="1232.5" y="416" width="127.4" height="1.3" fill="#006a00"/><rect x="1232.5" y="417" width="127.4" height="1.3" fill="#005400"/><rect x="1232.5" y="418" width="127.4" height="1.3" fill="#004600"/><rect x="1232.5" y="419" width="127.4" height="1.3" fill="#005800"/><rect x="1232.5" y="420" width="127.4" height="1.3" fill="#005400"/><rect x="1232.5" y="421" width="127.4" height="1.3" fill="#002900"/><rect x="1232.5" y="422" width="127.4" height="1.3" fill="#003100"/><rect x="1232.5" y="423" width="127.4" height="1.3" fill="#003300"/><rect x="1232.5" y="424" width="127.4" height="1.3" fill="#002000"/><rect x="1232.5" y="425" width="127.4" height="1.3" fill="#002500"/><rect x="1232.5" y="426" width="127.4" height="1.3" fill="#003600"/><rect x="1232.5" y="427" width="127.4" height="1.3" fill="#001100"/><rect x="1232.5" y="428" width="127.4" height="1.3" fill="#005700"/><rect x="1232.5" y="429" width="127.4" height="1.3" fill="#003c00"/><rect x="1232.5" y="430" width="127.4" height="1.3" fill="#004b00"/><rect x="1232.5" y="431" width="127.4" height="1.3" fill="#004600"/><rect x="1232.5" y="432" width="127.4" height="1.3" fill="#003f00"/><rect x="1232.5" y="433" width="127.4" height="1.3" fill="#004500"/><rect x="1232.5" y="434" width="127.4" height="1.3" fill="#120300"/><rect x="1232.5" y="435" width="127.4" height="2.3" fill="#000600"/><rect x="1232.5" y="437" width="127.4" height="1.3" fill="#120300"/><rect x="1232.5" y="438" width="127.4" height="1.3" fill="#000000"/><rect x="1232.5" y="439" width="127.4" height="1.3" fill="#000100"/><rect x="1232.5" y="440" width="127.4" height="1.3" fill="#000600"/><rect x="1232.5" y="441" width="127.4" height="1.3" fill="#600e00"/><rect x="1232.5" y="442" width="127.4" height="1.3" fill="#590d00"/><rect x="1232.5" y="443" width="127.4" height="1.3" fill="#630f00"/><rect x="1232.5" y="444" width="127.4" height="1.3" fill="#430a00"/><rect x="1232.5" y="445" width="127.4" height="1.3" fill="#4f0c00"/><rect x="1232.5" y="446" width="127.4" height="1.3" fill="#400a00"/><rect x="1232.5" y="447" width="127.4" height="1.3" fill="#590d00"/><rect x="1232.5" y="448" width="127.4" height="1.3" fill="#640f00"/><rect x="1232.5" y="449" width="127.4" height="1.3" fill="#040100"/><rect x="1232.5" y="450" width="127.4" height="1.3" fill="#200500"/><rect x="1232.5" y="451" width="127.4" height="1.3" fill="#370800"/><rect x="1232.5" y="452" width="127.4" height="1.3" fill="#290600"/><rect x="1232.5" y="453" width="127.4" height="1.3" fill="#130300"/><rect x="1232.5" y="454" width="127.4" height="1.3" fill="#3c0900"/><rect x="1232.5" y="455" width="127.4" height="1.3" fill="#2a0600"/><rect x="1232.5" y="456" width="127.4" height="1.3" fill="#240500"/><rect x="1232.5" y="457" width="127.4" height="1.3" fill="#003500"/><rect x="1232.5" y="458" width="127.4" height="1.3" fill="#003400"/><rect x="1232.5" y="459" width="127.4" height="1.3" fill="#002700"/><rect x="1232.5" y="460" width="127.4" height="1.3" fill="#004600"/><rect x="1232.5" y="461" width="127.4" height="1.3" fill="#002b00"/><rect x="1232.5" y="462" width="127.4" height="1.3" fill="#002700"/><rect x="1232.5" y="463" width="127.4" height="1.3" fill="#090100"/><rect x="1232.5" y="464" width="127.4" height="1.3" fill="#000900"/><rect x="1232.5" y="465" width="127.4" height="1.3" fill="#000f00"/><rect x="1232.5" y="466" width="127.4" height="1.3" fill="#040100"/><rect x="1232.5" y="467" width="127.4" height="1.3" fill="#004700"/><rect x="1232.5" y="468" width="127.4" height="1.3" fill="#004600"/><rect x="1232.5" y="469" width="127.4" height="1.3" fill="#003600"/><rect x="1232.5" y="470" width="127.4" height="1.3" fill="#004b00"/><rect x="1232.5" y="471" width="127.4" height="1.3" fill="#006600"/><rect x="1232.5" y="472" width="127.4" height="1.3" fill="#004d00"/><rect x="1232.5" y="473" width="127.4" height="1.3" fill="#006000"/><rect x="1232.5" y="474" width="127.4" height="1.3" fill="#003d00"/><rect x="1232.5" y="475" width="127.4" height="1.3" fill="#004400"/><rect x="1232.5" y="476" width="127.4" height="1.3" fill="#002b00"/><rect x="1232.5" y="477" width="127.4" height="1.3" fill="#002400"/><rect x="1232.5" y="478" width="127.4" height="1.3" fill="#001a00"/><rect x="1232.5" y="479" width="127.4" height="1.3" fill="#002300"/><rect x="1232.5" y="480" width="127.4" height="1.3" fill="#001400"/><rect x="1232.5" y="481" width="127.4" height="1.3" fill="#003a00"/><rect x="1232.5" y="482" width="127.4" height="1.3" fill="#002d00"/><rect x="1232.5" y="483" width="127.4" height="1.3" fill="#002700"/><rect x="1232.5" y="484" width="127.4" height="1.3" fill="#002500"/><rect x="1232.5" y="485" width="127.4" height="1.3" fill="#004200"/><rect x="1232.5" y="486" width="127.4" height="1.3" fill="#002f00"/><rect x="1232.5" y="487" width="127.4" height="1.3" fill="#005100"/><rect x="1232.5" y="488" width="127.4" height="1.3" fill="#004700"/><rect x="1232.5" y="489" width="127.4" height="1.3" fill="#005200"/><rect x="1232.5" y="490" width="127.4" height="1.3" fill="#002c00"/><rect x="1232.5" y="491" width="127.4" height="1.3" fill="#004900"/><rect x="1232.5" y="492" width="127.4" height="1.3" fill="#003a00"/><rect x="1232.5" y="493" width="127.4" height="1.3" fill="#003c00"/><rect x="1232.5" y="494" width="127.4" height="1.3" fill="#000000"/><rect x="1232.5" y="495" width="127.4" height="1.3" fill="#002400"/><rect x="1232.5" y="496" width="127.4" height="1.3" fill="#001a00"/><rect x="1232.5" y="497" width="127.4" height="1.3" fill="#000800"/><rect x="1232.5" y="498" width="127.4" height="1.3" fill="#001c00"/><rect x="1232.5" y="499" width="127.4" height="1.3" fill="#001700"/><rect x="1232.5" y="500" width="127.4" height="1.3" fill="#001100"/><rect x="1232.5" y="501" width="127.4" height="1.3" fill="#001f00"/><rect x="1232.5" y="502" width="127.4" height="1.3" fill="#002b00"/><rect x="1232.5" y="503" width="127.4" height="1.3" fill="#002300"/><rect x="1232.5" y="504" width="127.4" height="1.3" fill="#310700"/><rect x="1232.5" y="505" width="127.4" height="1.3" fill="#100200"/><rect x="1232.5" y="506" width="127.4" height="1.3" fill="#1d0400"/><rect x="1232.5" y="507" width="127.4" height="1.3" fill="#300700"/><rect x="1232.5" y="508" width="127.4" height="1.3" fill="#003700"/><rect x="1232.5" y="509" width="127.4" height="1.3" fill="#004100"/><rect x="1232.5" y="510" width="127.4" height="1.3" fill="#003700"/><rect x="1232.5" y="511" width="127.4" height="1.3" fill="#003f00"/><rect x="1232.5" y="512" width="127.4" height="1.3" fill="#005000"/><rect x="1232.5" y="513" width="127.4" height="1.3" fill="#005500"/><rect x="1232.5" y="514" width="127.4" height="1.3" fill="#003300"/><rect x="1232.5" y="515" width="127.4" height="1.3" fill="#002000"/><rect x="1232.5" y="516" width="127.4" height="1.3" fill="#003200"/><rect x="1232.5" y="517" width="127.4" height="1.3" fill="#003600"/><rect x="1232.5" y="518" width="127.4" height="1.3" fill="#003500"/><rect x="1232.5" y="519" width="127.4" height="1.3" fill="#003e00"/><rect x="1232.5" y="520" width="127.4" height="1.3" fill="#002d00"/><rect x="1232.5" y="521" width="127.4" height="1.3" fill="#003900"/><rect x="1232.5" y="522" width="127.4" height="1.3" fill="#002700"/><rect x="1232.5" y="523" width="127.4" height="1.3" fill="#004800"/><rect x="1232.5" y="524" width="127.4" height="1.3" fill="#002700"/><rect x="1232.5" y="525" width="127.4" height="1.3" fill="#005000"/><rect x="1232.5" y="526" width="127.4" height="1.3" fill="#006100"/><rect x="1232.5" y="527" width="127.4" height="1.3" fill="#003f00"/><rect x="1232.5" y="528" width="127.4" height="1.3" fill="#004c00"/><rect x="1232.5" y="529" width="127.4" height="1.3" fill="#006500"/><rect x="1232.5" y="530" width="127.4" height="1.3" fill="#005300"/><rect x="1232.5" y="531" width="127.4" height="1.3" fill="#002100"/><rect x="1232.5" y="532" width="127.4" height="1.3" fill="#002900"/><rect x="1232.5" y="533" width="127.4" height="2.3" fill="#001b00"/><rect x="1232.5" y="535" width="127.4" height="1.3" fill="#001c00"/><rect x="1232.5" y="536" width="127.4" height="1.3" fill="#002000"/><rect x="1232.5" y="537" width="127.4" height="1.3" fill="#001400"/><rect x="1232.5" y="538" width="127.4" height="1.3" fill="#005500"/><rect x="1232.5" y="539" width="127.4" height="1.3" fill="#005700"/><rect x="1232.5" y="540" width="127.4" height="1.3" fill="#007a00"/><rect x="1232.5" y="541" width="127.4" height="1.3" fill="#005100"/><rect x="1232.5" y="542" width="127.4" height="1.3" fill="#004c00"/><rect x="1232.5" y="543" width="127.4" height="1.3" fill="#006200"/><rect x="1232.5" y="544" width="127.4" height="1.3" fill="#006400"/><rect x="1232.5" y="545" width="127.4" height="1.3" fill="#0e0200"/><rect x="1232.5" y="546" width="127.4" height="1.3" fill="#001b00"/><rect x="1232.5" y="547" width="127.4" height="1.3" fill="#000200"/><rect x="1232.5" y="548" width="127.4" height="1.3" fill="#003600"/><rect x="1232.5" y="549" width="127.4" height="1.3" fill="#006300"/><rect x="1232.5" y="550" width="127.4" height="1.3" fill="#004d00"/><rect x="1232.5" y="551" width="127.4" height="1.3" fill="#003d00"/><rect x="1232.5" y="552" width="127.4" height="1.3" fill="#005800"/><rect x="1232.5" y="553" width="127.4" height="1.3" fill="#004f00"/><rect x="1232.5" y="554" width="127.4" height="1.3" fill="#004a00"/><rect x="1232.5" y="555" width="127.4" height="1.3" fill="#006300"/><rect x="1232.5" y="556" width="127.4" height="1.3" fill="#005800"/><rect x="1232.5" y="557" width="127.4" height="1.3" fill="#005200"/><rect x="1232.5" y="558" width="127.4" height="1.3" fill="#004b00"/><rect x="1232.5" y="559" width="127.4" height="1.3" fill="#005700"/><rect x="1232.5" y="560" width="127.4" height="1.3" fill="#005900"/><rect x="1232.5" y="561" width="127.4" height="1.3" fill="#006400"/><rect x="1232.5" y="562" width="127.4" height="1.3" fill="#005b00"/><rect x="1232.5" y="563" width="127.4" height="1.3" fill="#004a00"/><rect x="1232.5" y="564" width="127.4" height="1.3" fill="#010000"/><rect x="1232.5" y="565" width="127.4" height="2.3" fill="#000900"/><rect x="1232.5" y="567" width="127.4" height="1.3" fill="#002500"/><rect x="1232.5" y="568" width="127.4" height="1.3" fill="#003900"/><rect x="1232.5" y="569" width="127.4" height="1.3" fill="#004000"/><rect x="1232.5" y="570" width="127.4" height="1.3" fill="#006a00"/><rect x="1232.5" y="571" width="127.4" height="1.3" fill="#004000"/><rect x="1232.5" y="572" width="127.4" height="1.3" fill="#004200"/><rect x="1232.5" y="573" width="127.4" height="1.3" fill="#003200"/><rect x="1232.5" y="574" width="127.4" height="1.3" fill="#004200"/><rect x="1232.5" y="575" width="127.4" height="1.3" fill="#004900"/><rect x="1232.5" y="576" width="127.4" height="1.3" fill="#002c00"/><rect x="1232.5" y="577" width="127.4" height="1.3" fill="#004a00"/><rect x="1232.5" y="578" width="127.4" height="1.3" fill="#002600"/><rect x="1232.5" y="579" width="127.4" height="1.3" fill="#002e00"/><rect x="1232.5" y="580" width="127.4" height="1.3" fill="#003b00"/><rect x="1232.5" y="581" width="127.4" height="1.3" fill="#002200"/><rect x="1232.5" y="582" width="127.4" height="1.3" fill="#001c00"/><rect x="1232.5" y="583" width="127.4" height="1.3" fill="#004400"/><rect x="1232.5" y="584" width="127.4" height="1.3" fill="#003b00"/><rect x="1232.5" y="585" width="127.4" height="1.3" fill="#002f00"/><rect x="1232.5" y="586" width="127.4" height="1.3" fill="#003000"/><rect x="1232.5" y="587" width="127.4" height="1.3" fill="#003700"/><rect x="1232.5" y="588" width="127.4" height="1.3" fill="#007a00"/><rect x="1232.5" y="589" width="127.4" height="1.3" fill="#004e00"/><rect x="1232.5" y="590" width="127.4" height="1.3" fill="#005d00"/><rect x="1232.5" y="591" width="127.4" height="1.3" fill="#007d00"/><rect x="1232.5" y="592" width="127.4" height="1.3" fill="#007f00"/><rect x="1232.5" y="593" width="127.4" height="1.3" fill="#005400"/><rect x="1232.5" y="594" width="127.4" height="1.3" fill="#005e00"/><rect x="1232.5" y="595" width="127.4" height="1.3" fill="#005200"/><rect x="1232.5" y="596" width="127.4" height="1.3" fill="#260600"/><rect x="1232.5" y="597" width="127.4" height="1.3" fill="#130300"/><rect x="1232.5" y="598" width="127.4" height="1.3" fill="#200500"/><rect x="1232.5" y="599" width="127.4" height="1.3" fill="#040100"/><rect x="1232.5" y="600" width="127.4" height="1.3" fill="#140300"/><rect x="1232.5" y="601" width="127.4" height="1.3" fill="#004200"/><rect x="1232.5" y="602" width="127.4" height="1.3" fill="#003a00"/><rect x="1232.5" y="603" width="127.4" height="1.3" fill="#004a00"/><rect x="1232.5" y="604" width="127.4" height="1.3" fill="#004200"/><rect x="1232.5" y="605" width="127.4" height="1.3" fill="#003b00"/><rect x="1232.5" y="606" width="127.4" height="1.3" fill="#001800"/><rect x="1232.5" y="607" width="127.4" height="1.3" fill="#001500"/><rect x="1232.5" y="608" width="127.4" height="1.3" fill="#001a00"/><rect x="1232.5" y="609" width="127.4" height="1.3" fill="#002100"/><rect x="1232.5" y="610" width="127.4" height="1.3" fill="#2d0700"/><rect x="1232.5" y="611" width="127.4" height="1.3" fill="#250600"/><rect x="1232.5" y="612" width="127.4" height="1.3" fill="#1a0400"/><rect x="1232.5" y="613" width="127.4" height="1.3" fill="#1d0400"/><rect x="1232.5" y="614" width="127.4" height="1.3" fill="#240500"/><rect x="1232.5" y="615" width="127.4" height="1.3" fill="#230500"/><rect x="1232.5" y="616" width="127.4" height="1.3" fill="#260600"/><rect x="1232.5" y="617" width="127.4" height="1.3" fill="#6c1000"/><rect x="1232.5" y="618" width="127.4" height="1.3" fill="#6e1000"/><rect x="1232.5" y="619" width="127.4" height="1.3" fill="#6a1000"/><rect x="1232.5" y="620" width="127.4" height="1.3" fill="#5a0e00"/><rect x="1232.5" y="621" width="127.4" height="1.3" fill="#550d00"/><rect x="1232.5" y="622" width="127.4" height="1.3" fill="#5d0e00"/><rect x="1232.5" y="623" width="127.4" height="1.3" fill="#550d00"/><rect x="1232.5" y="624" width="127.4" height="1.3" fill="#4d0c00"/><rect x="1232.5" y="625" width="127.4" height="1.3" fill="#550d00"/><rect x="1232.5" y="626" width="127.4" height="1.3" fill="#420a00"/><rect x="1232.5" y="627" width="127.4" height="1.3" fill="#360800"/><rect x="1232.5" y="628" width="127.4" height="1.3" fill="#420a00"/><rect x="1232.5" y="629" width="127.4" height="1.3" fill="#350800"/><rect x="1232.5" y="630" width="127.4" height="1.3" fill="#4a0b00"/><rect x="1232.5" y="631" width="127.4" height="1.3" fill="#330800"/><rect x="1232.5" y="632" width="127.4" height="1.3" fill="#1f0500"/><rect x="1232.5" y="633" width="127.4" height="1.3" fill="#340800"/><rect x="1232.5" y="634" width="127.4" height="1.3" fill="#8a1500"/><rect x="1232.5" y="635" width="127.4" height="1.3" fill="#6e1000"/><rect x="1232.5" y="636" width="127.4" height="1.3" fill="#600e00"/><rect x="1232.5" y="637" width="127.4" height="1.3" fill="#681000"/><rect x="1232.5" y="638" width="127.4" height="1.3" fill="#7b1200"/><rect x="1232.5" y="639" width="127.4" height="1.3" fill="#560d00"/><rect x="1232.5" y="640" width="127.4" height="1.3" fill="#520c00"/><rect x="1232.5" y="641" width="127.4" height="1.3" fill="#630f00"/><rect x="1232.5" y="642" width="127.4" height="1.3" fill="#590d00"/><rect x="1232.5" y="643" width="127.4" height="1.3" fill="#4f0c00"/><rect x="1232.5" y="644" width="127.4" height="1.3" fill="#3a0900"/><rect x="1232.5" y="645" width="127.4" height="1.3" fill="#470b00"/><rect x="1232.5" y="646" width="127.4" height="1.3" fill="#3e0900"/><rect x="1232.5" y="647" width="127.4" height="1.3" fill="#3f0900"/><rect x="1232.5" y="648" width="127.4" height="1.3" fill="#250600"/><rect x="1232.5" y="649" width="127.4" height="1.3" fill="#310700"/><rect x="1232.5" y="650" width="127.4" height="1.3" fill="#3b0900"/><rect x="1232.5" y="651" width="127.4" height="1.3" fill="#040100"/><rect x="1232.5" y="652" width="127.4" height="1.3" fill="#130300"/><rect x="1232.5" y="653" width="127.4" height="1.3" fill="#0e0200"/><rect x="1232.5" y="654" width="127.4" height="1.3" fill="#110300"/><rect x="1232.5" y="655" width="127.4" height="1.3" fill="#050100"/><rect x="1232.5" y="656" width="127.4" height="1.3" fill="#230500"/><rect x="1232.5" y="657" width="127.4" height="1.3" fill="#150300"/><rect x="1232.5" y="658" width="127.4" height="1.3" fill="#050100"/><rect x="1232.5" y="659" width="127.4" height="1.3" fill="#2c0700"/><rect x="1232.5" y="660" width="127.4" height="1.3" fill="#4b0b00"/><rect x="1232.5" y="661" width="127.4" height="1.3" fill="#270600"/><rect x="1232.5" y="662" width="127.4" height="1.3" fill="#360800"/><rect x="1232.5" y="663" width="127.4" height="1.3" fill="#370800"/><rect x="1232.5" y="664" width="127.4" height="1.3" fill="#2b0600"/><rect x="1232.5" y="665" width="127.4" height="1.3" fill="#1d0400"/><rect x="1232.5" y="666" width="127.4" height="1.3" fill="#6f1100"/><rect x="1232.5" y="667" width="127.4" height="1.3" fill="#711100"/><rect x="1232.5" y="668" width="127.4" height="1.3" fill="#7c1300"/><rect x="1232.5" y="669" width="127.4" height="1.3" fill="#771200"/><rect x="1232.5" y="670" width="127.4" height="1.3" fill="#6c1000"/><rect x="1232.5" y="671" width="127.4" height="1.3" fill="#781200"/><rect x="1232.5" y="672" width="127.4" height="1.3" fill="#741100"/><rect x="1232.5" y="673" width="127.4" height="1.3" fill="#6f1100"/><rect x="1232.5" y="674" width="127.4" height="1.3" fill="#821400"/><rect x="1232.5" y="675" width="127.4" height="1.3" fill="#7e1300"/><rect x="1232.5" y="676" width="127.4" height="1.3" fill="#8c1500"/><rect x="1232.5" y="677" width="127.4" height="1.3" fill="#721100"/><rect x="1232.5" y="678" width="127.4" height="1.3" fill="#781200"/><rect x="1232.5" y="679" width="127.4" height="1.3" fill="#821400"/><rect x="1232.5" y="680" width="127.4" height="1.3" fill="#6c1000"/><rect x="1232.5" y="681" width="127.4" height="1.3" fill="#7b1200"/><rect x="1232.5" y="682" width="127.4" height="1.3" fill="#640f00"/><rect x="1232.5" y="683" width="127.4" height="1.3" fill="#1c0400"/><rect x="1232.5" y="684" width="127.4" height="2.3" fill="#2b0600"/><rect x="1232.5" y="686" width="127.4" height="1.3" fill="#230500"/><rect x="1232.5" y="687" width="127.4" height="1.3" fill="#210500"/><rect x="1232.5" y="688" width="127.4" height="1.3" fill="#130300"/><rect x="1232.5" y="689" width="127.4" height="1.3" fill="#3a0900"/><rect x="1232.5" y="690" width="127.4" height="1.3" fill="#2a0600"/><rect x="1232.5" y="691" width="127.4" height="1.3" fill="#310700"/><rect x="1232.5" y="692" width="127.4" height="1.3" fill="#1a0400"/><rect x="1232.5" y="693" width="127.4" height="1.3" fill="#001800"/><rect x="1232.5" y="694" width="127.4" height="1.3" fill="#002a00"/><rect x="1232.5" y="695" width="127.4" height="1.3" fill="#000d00"/><rect x="1232.5" y="696" width="127.4" height="1.3" fill="#000b00"/><rect x="1232.5" y="697" width="127.4" height="1.3" fill="#002b00"/><rect x="1232.5" y="698" width="127.4" height="1.3" fill="#001600"/><rect x="1232.5" y="699" width="127.4" height="1.3" fill="#000e00"/><rect x="1232.5" y="700" width="127.4" height="2.3" fill="#080100"/><rect x="1232.5" y="702" width="127.4" height="1.3" fill="#100200"/><rect x="1232.5" y="703" width="127.4" height="1.3" fill="#150300"/><rect x="1232.5" y="704" width="127.4" height="1.3" fill="#130300"/><rect x="1232.5" y="705" width="127.4" height="1.3" fill="#240500"/><rect x="1232.5" y="706" width="127.4" height="1.3" fill="#270600"/><rect x="1232.5" y="707" width="127.4" height="2.3" fill="#2c0700"/><rect x="1232.5" y="709" width="127.4" height="1.3" fill="#360800"/><rect x="1232.5" y="710" width="127.4" height="1.3" fill="#320800"/><rect x="1232.5" y="711" width="127.4" height="1.3" fill="#004a00"/><rect x="1232.5" y="712" width="127.4" height="1.3" fill="#004000"/><rect x="1232.5" y="713" width="127.4" height="2.3" fill="#004700"/><rect x="1232.5" y="715" width="127.4" height="1.3" fill="#002500"/><rect x="1232.5" y="716" width="127.4" height="1.3" fill="#002400"/><rect x="1232.5" y="717" width="127.4" height="1.3" fill="#001e00"/><rect x="1232.5" y="718" width="127.4" height="1.3" fill="#003700"/><rect x="1232.5" y="719" width="127.4" height="1.3" fill="#003300"/><rect x="1232.5" y="720" width="127.4" height="1.3" fill="#002400"/><rect x="1232.5" y="721" width="127.4" height="1.3" fill="#007600"/><rect x="1232.5" y="722" width="127.4" height="1.3" fill="#007800"/><rect x="1232.5" y="723" width="127.4" height="1.3" fill="#007400"/><rect x="1232.5" y="724" width="127.4" height="1.3" fill="#007e00"/><rect x="1232.5" y="725" width="127.4" height="1.3" fill="#006900"/><rect x="1232.5" y="726" width="127.4" height="1.3" fill="#006e00"/><rect x="1232.5" y="727" width="127.4" height="1.3" fill="#007400"/><rect x="1232.5" y="728" width="127.4" height="1.3" fill="#007d00"/><rect x="1232.5" y="729" width="127.4" height="1.3" fill="#007600"/><rect x="1232.5" y="730" width="127.4" height="1.3" fill="#009a00"/><rect x="1232.5" y="731" width="127.4" height="1.3" fill="#008100"/><rect x="1232.5" y="732" width="127.4" height="1.3" fill="#007300"/><rect x="1232.5" y="733" width="127.4" height="1.3" fill="#008900"/><rect x="1232.5" y="734" width="127.4" height="1.3" fill="#007000"/><rect x="1232.5" y="735" width="127.4" height="1.3" fill="#007100"/><rect x="1232.5" y="736" width="127.4" height="1.3" fill="#008700"/><rect x="1232.5" y="737" width="127.4" height="1.3" fill="#007700"/><rect x="1232.5" y="738" width="127.4" height="1.3" fill="#007800"/><rect x="1232.5" y="739" width="127.4" height="1.3" fill="#290600"/><rect x="1232.5" y="740" width="127.4" height="1.3" fill="#2b0600"/><rect x="1232.5" y="741" width="127.4" height="1.3" fill="#240500"/><rect x="1232.5" y="742" width="127.4" height="1.3" fill="#1a0400"/><rect x="1232.5" y="743" width="127.4" height="1.3" fill="#1b0400"/><rect x="1232.5" y="744" width="127.4" height="1.3" fill="#1c0400"/><rect x="1232.5" y="745" width="127.4" height="1.3" fill="#250600"/>
<rect x="1359.6" y="241" width="127.4" height="1.3" fill="#003600"/><rect x="1359.6" y="242" width="127.4" height="1.3" fill="#006000"/><rect x="1359.6" y="243" width="127.4" height="1.3" fill="#006900"/><rect x="1359.6" y="244" width="127.4" height="1.3" fill="#005b00"/><rect x="1359.6" y="245" width="127.4" height="1.3" fill="#006000"/><rect x="1359.6" y="246" width="127.4" height="1.3" fill="#006500"/><rect x="1359.6" y="247" width="127.4" height="1.3" fill="#005800"/><rect x="1359.6" y="248" width="127.4" height="1.3" fill="#004000"/><rect x="1359.6" y="249" width="127.4" height="1.3" fill="#003800"/><rect x="1359.6" y="250" width="127.4" height="1.3" fill="#001700"/><rect x="1359.6" y="251" width="127.4" height="1.3" fill="#002200"/><rect x="1359.6" y="252" width="127.4" height="1.3" fill="#000200"/><rect x="1359.6" y="253" width="127.4" height="1.3" fill="#0b0200"/><rect x="1359.6" y="254" width="127.4" height="1.3" fill="#1b0400"/><rect x="1359.6" y="255" width="127.4" height="1.3" fill="#100200"/><rect x="1359.6" y="256" width="127.4" height="1.3" fill="#1b0400"/><rect x="1359.6" y="257" width="127.4" height="1.3" fill="#000c00"/><rect x="1359.6" y="258" width="127.4" height="1.3" fill="#060100"/><rect x="1359.6" y="259" width="127.4" height="1.3" fill="#110300"/><rect x="1359.6" y="260" width="127.4" height="1.3" fill="#320800"/><rect x="1359.6" y="261" width="127.4" height="1.3" fill="#470b00"/><rect x="1359.6" y="262" width="127.4" height="1.3" fill="#2f0700"/><rect x="1359.6" y="263" width="127.4" height="1.3" fill="#000700"/><rect x="1359.6" y="264" width="127.4" height="1.3" fill="#000d00"/><rect x="1359.6" y="265" width="127.4" height="1.3" fill="#000b00"/><rect x="1359.6" y="266" width="127.4" height="1.3" fill="#001000"/><rect x="1359.6" y="267" width="127.4" height="1.3" fill="#001700"/><rect x="1359.6" y="268" width="127.4" height="1.3" fill="#001000"/><rect x="1359.6" y="269" width="127.4" height="1.3" fill="#002200"/><rect x="1359.6" y="270" width="127.4" height="1.3" fill="#000800"/><rect x="1359.6" y="271" width="127.4" height="1.3" fill="#002100"/><rect x="1359.6" y="272" width="127.4" height="1.3" fill="#001300"/><rect x="1359.6" y="273" width="127.4" height="1.3" fill="#030000"/><rect x="1359.6" y="274" width="127.4" height="1.3" fill="#001800"/><rect x="1359.6" y="275" width="127.4" height="1.3" fill="#005d00"/><rect x="1359.6" y="276" width="127.4" height="1.3" fill="#004e00"/><rect x="1359.6" y="277" width="127.4" height="1.3" fill="#005d00"/><rect x="1359.6" y="278" width="127.4" height="1.3" fill="#006900"/><rect x="1359.6" y="279" width="127.4" height="1.3" fill="#005a00"/><rect x="1359.6" y="280" width="127.4" height="1.3" fill="#005600"/><rect x="1359.6" y="281" width="127.4" height="1.3" fill="#002300"/><rect x="1359.6" y="282" width="127.4" height="1.3" fill="#003500"/><rect x="1359.6" y="283" width="127.4" height="1.3" fill="#004d00"/><rect x="1359.6" y="284" width="127.4" height="1.3" fill="#004e00"/><rect x="1359.6" y="285" width="127.4" height="1.3" fill="#006500"/><rect x="1359.6" y="286" width="127.4" height="1.3" fill="#006100"/><rect x="1359.6" y="287" width="127.4" height="1.3" fill="#006b00"/><rect x="1359.6" y="288" width="127.4" height="1.3" fill="#005100"/><rect x="1359.6" y="289" width="127.4" height="1.3" fill="#0e0200"/><rect x="1359.6" y="290" width="127.4" height="1.3" fill="#1d0400"/><rect x="1359.6" y="291" width="127.4" height="1.3" fill="#100200"/><rect x="1359.6" y="292" width="127.4" height="1.3" fill="#0e0200"/><rect x="1359.6" y="293" width="127.4" height="1.3" fill="#001400"/><rect x="1359.6" y="294" width="127.4" height="1.3" fill="#000d00"/><rect x="1359.6" y="295" width="127.4" height="1.3" fill="#001d00"/><rect x="1359.6" y="296" width="127.4" height="1.3" fill="#006e00"/><rect x="1359.6" y="297" width="127.4" height="1.3" fill="#005a00"/><rect x="1359.6" y="298" width="127.4" height="1.3" fill="#006500"/><rect x="1359.6" y="299" width="127.4" height="1.3" fill="#006100"/><rect x="1359.6" y="300" width="127.4" height="1.3" fill="#005000"/><rect x="1359.6" y="301" width="127.4" height="1.3" fill="#005500"/><rect x="1359.6" y="302" width="127.4" height="1.3" fill="#006c00"/><rect x="1359.6" y="303" width="127.4" height="1.3" fill="#280600"/><rect x="1359.6" y="304" width="127.4" height="1.3" fill="#0e0200"/><rect x="1359.6" y="305" width="127.4" height="1.3" fill="#170300"/><rect x="1359.6" y="306" width="127.4" height="1.3" fill="#070100"/><rect x="1359.6" y="307" width="127.4" height="1.3" fill="#0e0200"/><rect x="1359.6" y="308" width="127.4" height="1.3" fill="#005f00"/><rect x="1359.6" y="309" width="127.4" height="1.3" fill="#003100"/><rect x="1359.6" y="310" width="127.4" height="1.3" fill="#003600"/><rect x="1359.6" y="311" width="127.4" height="1.3" fill="#005800"/><rect x="1359.6" y="312" width="127.4" height="1.3" fill="#000300"/><rect x="1359.6" y="313" width="127.4" height="1.3" fill="#000400"/><rect x="1359.6" y="314" width="127.4" height="1.3" fill="#1c0400"/><rect x="1359.6" y="315" width="127.4" height="1.3" fill="#090100"/><rect x="1359.6" y="316" width="127.4" height="1.3" fill="#001600"/><rect x="1359.6" y="317" width="127.4" height="1.3" fill="#001900"/><rect x="1359.6" y="318" width="127.4" height="1.3" fill="#001700"/><rect x="1359.6" y="319" width="127.4" height="1.3" fill="#002200"/><rect x="1359.6" y="320" width="127.4" height="1.3" fill="#001500"/><rect x="1359.6" y="321" width="127.4" height="1.3" fill="#002600"/><rect x="1359.6" y="322" width="127.4" height="1.3" fill="#004900"/><rect x="1359.6" y="323" width="127.4" height="1.3" fill="#004400"/><rect x="1359.6" y="324" width="127.4" height="1.3" fill="#007b00"/><rect x="1359.6" y="325" width="127.4" height="1.3" fill="#008500"/><rect x="1359.6" y="326" width="127.4" height="1.3" fill="#008f00"/><rect x="1359.6" y="327" width="127.4" height="1.3" fill="#007f00"/><rect x="1359.6" y="328" width="127.4" height="1.3" fill="#008900"/><rect x="1359.6" y="329" width="127.4" height="1.3" fill="#006b00"/><rect x="1359.6" y="330" width="127.4" height="1.3" fill="#005300"/><rect x="1359.6" y="331" width="127.4" height="1.3" fill="#005f00"/><rect x="1359.6" y="332" width="127.4" height="1.3" fill="#006400"/><rect x="1359.6" y="333" width="127.4" height="1.3" fill="#009b00"/><rect x="1359.6" y="334" width="127.4" height="1.3" fill="#009e00"/><rect x="1359.6" y="335" width="127.4" height="1.3" fill="#009500"/><rect x="1359.6" y="336" width="127.4" height="1.3" fill="#008c00"/><rect x="1359.6" y="337" width="127.4" height="1.3" fill="#008800"/><rect x="1359.6" y="338" width="127.4" height="1.3" fill="#000800"/><rect x="1359.6" y="339" width="127.4" height="1.3" fill="#090100"/><rect x="1359.6" y="340" width="127.4" height="1.3" fill="#001600"/><rect x="1359.6" y="341" width="127.4" height="1.3" fill="#000e00"/><rect x="1359.6" y="342" width="127.4" height="1.3" fill="#110300"/><rect x="1359.6" y="343" width="127.4" height="1.3" fill="#002300"/><rect x="1359.6" y="344" width="127.4" height="1.3" fill="#001400"/><rect x="1359.6" y="345" width="127.4" height="1.3" fill="#000c00"/><rect x="1359.6" y="346" width="127.4" height="1.3" fill="#000d00"/><rect x="1359.6" y="347" width="127.4" height="1.3" fill="#000300"/><rect x="1359.6" y="348" width="127.4" height="1.3" fill="#000a00"/><rect x="1359.6" y="349" width="127.4" height="1.3" fill="#000300"/><rect x="1359.6" y="350" width="127.4" height="1.3" fill="#000700"/><rect x="1359.6" y="351" width="127.4" height="1.3" fill="#1e0400"/><rect x="1359.6" y="352" width="127.4" height="1.3" fill="#000000"/><rect x="1359.6" y="353" width="127.4" height="1.3" fill="#0b0200"/><rect x="1359.6" y="354" width="127.4" height="1.3" fill="#160300"/><rect x="1359.6" y="355" width="127.4" height="2.3" fill="#0a0200"/><rect x="1359.6" y="357" width="127.4" height="1.3" fill="#1d0400"/><rect x="1359.6" y="358" width="127.4" height="1.3" fill="#002c00"/><rect x="1359.6" y="359" width="127.4" height="1.3" fill="#420a00"/><rect x="1359.6" y="360" width="127.4" height="1.3" fill="#430a00"/><rect x="1359.6" y="361" width="127.4" height="1.3" fill="#3d0900"/><rect x="1359.6" y="362" width="127.4" height="1.3" fill="#400a00"/><rect x="1359.6" y="363" width="127.4" height="1.3" fill="#380800"/><rect x="1359.6" y="364" width="127.4" height="1.3" fill="#000100"/><rect x="1359.6" y="365" width="127.4" height="1.3" fill="#0e0200"/><rect x="1359.6" y="366" width="127.4" height="1.3" fill="#140300"/><rect x="1359.6" y="367" width="127.4" height="1.3" fill="#080100"/><rect x="1359.6" y="368" width="127.4" height="1.3" fill="#310700"/><rect x="1359.6" y="369" width="127.4" height="1.3" fill="#3c0900"/><rect x="1359.6" y="370" width="127.4" height="1.3" fill="#280600"/><rect x="1359.6" y="371" width="127.4" height="1.3" fill="#070100"/><rect x="1359.6" y="372" width="127.4" height="1.3" fill="#140300"/><rect x="1359.6" y="373" width="127.4" height="1.3" fill="#000600"/><rect x="1359.6" y="374" width="127.4" height="1.3" fill="#020000"/><rect x="1359.6" y="375" width="127.4" height="1.3" fill="#000200"/><rect x="1359.6" y="376" width="127.4" height="1.3" fill="#4d0c00"/><rect x="1359.6" y="377" width="127.4" height="1.3" fill="#3e0900"/><rect x="1359.6" y="378" width="127.4" height="1.3" fill="#450a00"/><rect x="1359.6" y="379" width="127.4" height="1.3" fill="#310700"/><rect x="1359.6" y="380" width="127.4" height="2.3" fill="#390900"/><rect x="1359.6" y="382" width="127.4" height="1.3" fill="#002200"/><rect x="1359.6" y="383" width="127.4" height="1.3" fill="#020000"/><rect x="1359.6" y="384" width="127.4" height="1.3" fill="#000400"/><rect x="1359.6" y="385" width="127.4" height="1.3" fill="#003900"/><rect x="1359.6" y="386" width="127.4" height="1.3" fill="#001b00"/><rect x="1359.6" y="387" width="127.4" height="1.3" fill="#002600"/><rect x="1359.6" y="388" width="127.4" height="1.3" fill="#001f00"/><rect x="1359.6" y="389" width="127.4" height="1.3" fill="#002000"/><rect x="1359.6" y="390" width="127.4" height="1.3" fill="#003600"/><rect x="1359.6" y="391" width="127.4" height="1.3" fill="#002700"/><rect x="1359.6" y="392" width="127.4" height="1.3" fill="#001200"/><rect x="1359.6" y="393" width="127.4" height="1.3" fill="#002b00"/><rect x="1359.6" y="394" width="127.4" height="1.3" fill="#003000"/><rect x="1359.6" y="395" width="127.4" height="1.3" fill="#060100"/><rect x="1359.6" y="396" width="127.4" height="1.3" fill="#080100"/><rect x="1359.6" y="397" width="127.4" height="1.3" fill="#006700"/><rect x="1359.6" y="398" width="127.4" height="1.3" fill="#005400"/><rect x="1359.6" y="399" width="127.4" height="1.3" fill="#006600"/><rect x="1359.6" y="400" width="127.4" height="1.3" fill="#006900"/><rect x="1359.6" y="401" width="127.4" height="1.3" fill="#004d00"/><rect x="1359.6" y="402" width="127.4" height="1.3" fill="#007300"/><rect x="1359.6" y="403" width="127.4" height="1.3" fill="#007500"/><rect x="1359.6" y="404" width="127.4" height="1.3" fill="#006500"/><rect x="1359.6" y="405" width="127.4" height="1.3" fill="#006400"/><rect x="1359.6" y="406" width="127.4" height="1.3" fill="#007a00"/><rect x="1359.6" y="407" width="127.4" height="1.3" fill="#007c00"/><rect x="1359.6" y="408" width="127.4" height="1.3" fill="#006800"/><rect x="1359.6" y="409" width="127.4" height="1.3" fill="#006900"/><rect x="1359.6" y="410" width="127.4" height="1.3" fill="#007e00"/><rect x="1359.6" y="411" width="127.4" height="1.3" fill="#006f00"/><rect x="1359.6" y="412" width="127.4" height="1.3" fill="#007400"/><rect x="1359.6" y="413" width="127.4" height="1.3" fill="#006600"/><rect x="1359.6" y="414" width="127.4" height="1.3" fill="#006e00"/><rect x="1359.6" y="415" width="127.4" height="1.3" fill="#004200"/><rect x="1359.6" y="416" width="127.4" height="1.3" fill="#004500"/><rect x="1359.6" y="417" width="127.4" height="1.3" fill="#003300"/><rect x="1359.6" y="418" width="127.4" height="1.3" fill="#002f00"/><rect x="1359.6" y="419" width="127.4" height="1.3" fill="#004500"/><rect x="1359.6" y="420" width="127.4" height="1.3" fill="#003d00"/><rect x="1359.6" y="421" width="127.4" height="1.3" fill="#005200"/><rect x="1359.6" y="422" width="127.4" height="1.3" fill="#004700"/><rect x="1359.6" y="423" width="127.4" height="1.3" fill="#003e00"/><rect x="1359.6" y="424" width="127.4" height="1.3" fill="#003400"/><rect x="1359.6" y="425" width="127.4" height="1.3" fill="#004d00"/><rect x="1359.6" y="426" width="127.4" height="1.3" fill="#003b00"/><rect x="1359.6" y="427" width="127.4" height="1.3" fill="#003700"/><rect x="1359.6" y="428" width="127.4" height="1.3" fill="#004c00"/><rect x="1359.6" y="429" width="127.4" height="1.3" fill="#003900"/><rect x="1359.6" y="430" width="127.4" height="1.3" fill="#004200"/><rect x="1359.6" y="431" width="127.4" height="1.3" fill="#003500"/><rect x="1359.6" y="432" width="127.4" height="1.3" fill="#004800"/><rect x="1359.6" y="433" width="127.4" height="1.3" fill="#008800"/><rect x="1359.6" y="434" width="127.4" height="1.3" fill="#006b00"/><rect x="1359.6" y="435" width="127.4" height="1.3" fill="#006800"/><rect x="1359.6" y="436" width="127.4" height="1.3" fill="#007400"/><rect x="1359.6" y="437" width="127.4" height="1.3" fill="#006000"/><rect x="1359.6" y="438" width="127.4" height="1.3" fill="#007000"/><rect x="1359.6" y="439" width="127.4" height="1.3" fill="#007500"/><rect x="1359.6" y="440" width="127.4" height="1.3" fill="#002500"/><rect x="1359.6" y="441" width="127.4" height="1.3" fill="#003e00"/><rect x="1359.6" y="442" width="127.4" height="1.3" fill="#003300"/><rect x="1359.6" y="443" width="127.4" height="1.3" fill="#004800"/><rect x="1359.6" y="444" width="127.4" height="1.3" fill="#003d00"/><rect x="1359.6" y="445" width="127.4" height="1.3" fill="#004a00"/><rect x="1359.6" y="446" width="127.4" height="1.3" fill="#004400"/><rect x="1359.6" y="447" width="127.4" height="1.3" fill="#005000"/><rect x="1359.6" y="448" width="127.4" height="1.3" fill="#008b00"/><rect x="1359.6" y="449" width="127.4" height="1.3" fill="#007700"/><rect x="1359.6" y="450" width="127.4" height="1.3" fill="#009a00"/><rect x="1359.6" y="451" width="127.4" height="1.3" fill="#006c00"/><rect x="1359.6" y="452" width="127.4" height="1.3" fill="#009a00"/><rect x="1359.6" y="453" width="127.4" height="1.3" fill="#009000"/><rect x="1359.6" y="454" width="127.4" height="1.3" fill="#008d00"/><rect x="1359.6" y="455" width="127.4" height="1.3" fill="#008100"/><rect x="1359.6" y="456" width="127.4" height="1.3" fill="#00a300"/><rect x="1359.6" y="457" width="127.4" height="1.3" fill="#00b000"/><rect x="1359.6" y="458" width="127.4" height="1.3" fill="#008700"/><rect x="1359.6" y="459" width="127.4" height="1.3" fill="#000500"/><rect x="1359.6" y="460" width="127.4" height="1.3" fill="#000700"/><rect x="1359.6" y="461" width="127.4" height="1.3" fill="#0f0200"/><rect x="1359.6" y="462" width="127.4" height="2.3" fill="#004500"/><rect x="1359.6" y="464" width="127.4" height="1.3" fill="#003c00"/><rect x="1359.6" y="465" width="127.4" height="1.3" fill="#004300"/><rect x="1359.6" y="466" width="127.4" height="1.3" fill="#003200"/><rect x="1359.6" y="467" width="127.4" height="1.3" fill="#005800"/><rect x="1359.6" y="468" width="127.4" height="1.3" fill="#004d00"/><rect x="1359.6" y="469" width="127.4" height="1.3" fill="#007500"/><rect x="1359.6" y="470" width="127.4" height="1.3" fill="#003d00"/><rect x="1359.6" y="471" width="127.4" height="1.3" fill="#004d00"/><rect x="1359.6" y="472" width="127.4" height="1.3" fill="#003c00"/><rect x="1359.6" y="473" width="127.4" height="1.3" fill="#002c00"/><rect x="1359.6" y="474" width="127.4" height="1.3" fill="#004800"/><rect x="1359.6" y="475" width="127.4" height="1.3" fill="#007700"/><rect x="1359.6" y="476" width="127.4" height="1.3" fill="#007a00"/><rect x="1359.6" y="477" width="127.4" height="1.3" fill="#007f00"/><rect x="1359.6" y="478" width="127.4" height="1.3" fill="#007c00"/><rect x="1359.6" y="479" width="127.4" height="1.3" fill="#006a00"/><rect x="1359.6" y="480" width="127.4" height="1.3" fill="#007300"/><rect x="1359.6" y="481" width="127.4" height="1.3" fill="#007200"/><rect x="1359.6" y="482" width="127.4" height="1.3" fill="#007600"/><rect x="1359.6" y="483" width="127.4" height="1.3" fill="#006600"/><rect x="1359.6" y="484" width="127.4" height="1.3" fill="#006c00"/><rect x="1359.6" y="485" width="127.4" height="1.3" fill="#007500"/><rect x="1359.6" y="486" width="127.4" height="1.3" fill="#006a00"/><rect x="1359.6" y="487" width="127.4" height="1.3" fill="#007500"/><rect x="1359.6" y="488" width="127.4" height="1.3" fill="#008400"/><rect x="1359.6" y="489" width="127.4" height="1.3" fill="#005e00"/><rect x="1359.6" y="490" width="127.4" height="1.3" fill="#006d00"/><rect x="1359.6" y="491" width="127.4" height="1.3" fill="#008100"/><rect x="1359.6" y="492" width="127.4" height="1.3" fill="#002c00"/><rect x="1359.6" y="493" width="127.4" height="1.3" fill="#003500"/><rect x="1359.6" y="494" width="127.4" height="1.3" fill="#001800"/><rect x="1359.6" y="495" width="127.4" height="1.3" fill="#0b0200"/><rect x="1359.6" y="496" width="127.4" height="1.3" fill="#000400"/><rect x="1359.6" y="497" width="127.4" height="1.3" fill="#030000"/><rect x="1359.6" y="498" width="127.4" height="1.3" fill="#000500"/><rect x="1359.6" y="499" width="127.4" height="1.3" fill="#004a00"/><rect x="1359.6" y="500" width="127.4" height="1.3" fill="#005c00"/><rect x="1359.6" y="501" width="127.4" height="1.3" fill="#003b00"/><rect x="1359.6" y="502" width="127.4" height="1.3" fill="#004800"/><rect x="1359.6" y="503" width="127.4" height="1.3" fill="#004c00"/><rect x="1359.6" y="504" width="127.4" height="1.3" fill="#004300"/><rect x="1359.6" y="505" width="127.4" height="1.3" fill="#004700"/><rect x="1359.6" y="506" width="127.4" height="1.3" fill="#003f00"/><rect x="1359.6" y="507" width="127.4" height="1.3" fill="#004d00"/><rect x="1359.6" y="508" width="127.4" height="1.3" fill="#004800"/><rect x="1359.6" y="509" width="127.4" height="1.3" fill="#006400"/><rect x="1359.6" y="510" width="127.4" height="1.3" fill="#004d00"/><rect x="1359.6" y="511" width="127.4" height="1.3" fill="#003f00"/><rect x="1359.6" y="512" width="127.4" height="1.3" fill="#003700"/><rect x="1359.6" y="513" width="127.4" height="1.3" fill="#004d00"/><rect x="1359.6" y="514" width="127.4" height="1.3" fill="#004a00"/><rect x="1359.6" y="515" width="127.4" height="1.3" fill="#003300"/><rect x="1359.6" y="516" width="127.4" height="1.3" fill="#004c00"/><rect x="1359.6" y="517" width="127.4" height="1.3" fill="#003e00"/><rect x="1359.6" y="518" width="127.4" height="1.3" fill="#003200"/><rect x="1359.6" y="519" width="127.4" height="1.3" fill="#000000"/><rect x="1359.6" y="520" width="127.4" height="1.3" fill="#0d0200"/><rect x="1359.6" y="521" width="127.4" height="1.3" fill="#000800"/><rect x="1359.6" y="522" width="127.4" height="1.3" fill="#020000"/><rect x="1359.6" y="523" width="127.4" height="1.3" fill="#000100"/><rect x="1359.6" y="524" width="127.4" height="1.3" fill="#002a00"/><rect x="1359.6" y="525" width="127.4" height="1.3" fill="#001e00"/><rect x="1359.6" y="526" width="127.4" height="1.3" fill="#000e00"/><rect x="1359.6" y="527" width="127.4" height="1.3" fill="#003300"/><rect x="1359.6" y="528" width="127.4" height="1.3" fill="#003200"/><rect x="1359.6" y="529" width="127.4" height="1.3" fill="#002500"/><rect x="1359.6" y="530" width="127.4" height="1.3" fill="#003800"/><rect x="1359.6" y="531" width="127.4" height="1.3" fill="#310700"/><rect x="1359.6" y="532" width="127.4" height="1.3" fill="#320800"/><rect x="1359.6" y="533" width="127.4" height="1.3" fill="#280600"/><rect x="1359.6" y="534" width="127.4" height="1.3" fill="#001700"/><rect x="1359.6" y="535" width="127.4" height="1.3" fill="#002f00"/><rect x="1359.6" y="536" width="127.4" height="1.3" fill="#001400"/><rect x="1359.6" y="537" width="127.4" height="1.3" fill="#002f00"/><rect x="1359.6" y="538" width="127.4" height="1.3" fill="#002500"/><rect x="1359.6" y="539" width="127.4" height="1.3" fill="#002300"/><rect x="1359.6" y="540" width="127.4" height="1.3" fill="#002100"/><rect x="1359.6" y="541" width="127.4" height="1.3" fill="#004b00"/><rect x="1359.6" y="542" width="127.4" height="1.3" fill="#005500"/><rect x="1359.6" y="543" width="127.4" height="1.3" fill="#005c00"/><rect x="1359.6" y="544" width="127.4" height="1.3" fill="#004f00"/><rect x="1359.6" y="545" width="127.4" height="1.3" fill="#004100"/><rect x="1359.6" y="546" width="127.4" height="1.3" fill="#005600"/><rect x="1359.6" y="547" width="127.4" height="1.3" fill="#005200"/><rect x="1359.6" y="548" width="127.4" height="1.3" fill="#006800"/><rect x="1359.6" y="549" width="127.4" height="1.3" fill="#007700"/><rect x="1359.6" y="550" width="127.4" height="1.3" fill="#008d00"/><rect x="1359.6" y="551" width="127.4" height="1.3" fill="#005600"/><rect x="1359.6" y="552" width="127.4" height="1.3" fill="#005a00"/><rect x="1359.6" y="553" width="127.4" height="1.3" fill="#009700"/><rect x="1359.6" y="554" width="127.4" height="1.3" fill="#007b00"/><rect x="1359.6" y="555" width="127.4" height="1.3" fill="#005800"/><rect x="1359.6" y="556" width="127.4" height="1.3" fill="#005000"/><rect x="1359.6" y="557" width="127.4" height="1.3" fill="#005400"/><rect x="1359.6" y="558" width="127.4" height="1.3" fill="#006100"/><rect x="1359.6" y="559" width="127.4" height="1.3" fill="#006c00"/><rect x="1359.6" y="560" width="127.4" height="1.3" fill="#005c00"/><rect x="1359.6" y="561" width="127.4" height="1.3" fill="#005000"/><rect x="1359.6" y="562" width="127.4" height="2.3" fill="#006c00"/><rect x="1359.6" y="564" width="127.4" height="1.3" fill="#005e00"/><rect x="1359.6" y="565" width="127.4" height="1.3" fill="#430a00"/><rect x="1359.6" y="566" width="127.4" height="1.3" fill="#5a0e00"/><rect x="1359.6" y="567" width="127.4" height="1.3" fill="#580d00"/><rect x="1359.6" y="568" width="127.4" height="1.3" fill="#640f00"/><rect x="1359.6" y="569" width="127.4" height="1.3" fill="#540d00"/><rect x="1359.6" y="570" width="127.4" height="1.3" fill="#520c00"/><rect x="1359.6" y="571" width="127.4" height="1.3" fill="#580d00"/><rect x="1359.6" y="572" width="127.4" height="1.3" fill="#5d0e00"/><rect x="1359.6" y="573" width="127.4" height="1.3" fill="#550d00"/><rect x="1359.6" y="574" width="127.4" height="1.3" fill="#7e1300"/><rect x="1359.6" y="575" width="127.4" height="1.3" fill="#891500"/><rect x="1359.6" y="576" width="127.4" height="1.3" fill="#8f1500"/><rect x="1359.6" y="577" width="127.4" height="1.3" fill="#971700"/><rect x="1359.6" y="578" width="127.4" height="1.3" fill="#731100"/><rect x="1359.6" y="579" width="127.4" height="1.3" fill="#781200"/><rect x="1359.6" y="580" width="127.4" height="1.3" fill="#5a0e00"/><rect x="1359.6" y="581" width="127.4" height="1.3" fill="#9a1700"/><rect x="1359.6" y="582" width="127.4" height="1.3" fill="#731100"/><rect x="1359.6" y="583" width="127.4" height="1.3" fill="#7e1300"/><rect x="1359.6" y="584" width="127.4" height="1.3" fill="#861400"/><rect x="1359.6" y="585" width="127.4" height="1.3" fill="#6a1000"/><rect x="1359.6" y="586" width="127.4" height="1.3" fill="#851400"/><rect x="1359.6" y="587" width="127.4" height="1.3" fill="#7e1300"/><rect x="1359.6" y="588" width="127.4" height="1.3" fill="#630f00"/><rect x="1359.6" y="589" width="127.4" height="1.3" fill="#821400"/><rect x="1359.6" y="590" width="127.4" height="1.3" fill="#3a0900"/><rect x="1359.6" y="591" width="127.4" height="1.3" fill="#150300"/><rect x="1359.6" y="592" width="127.4" height="1.3" fill="#350800"/><rect x="1359.6" y="593" width="127.4" height="1.3" fill="#2e0700"/><rect x="1359.6" y="594" width="127.4" height="1.3" fill="#310700"/><rect x="1359.6" y="595" width="127.4" height="1.3" fill="#4e0c00"/><rect x="1359.6" y="596" width="127.4" height="1.3" fill="#590d00"/><rect x="1359.6" y="597" width="127.4" height="1.3" fill="#450a00"/><rect x="1359.6" y="598" width="127.4" height="1.3" fill="#530c00"/><rect x="1359.6" y="599" width="127.4" height="1.3" fill="#430a00"/><rect x="1359.6" y="600" width="127.4" height="1.3" fill="#510c00"/><rect x="1359.6" y="601" width="127.4" height="1.3" fill="#210500"/><rect x="1359.6" y="602" width="127.4" height="1.3" fill="#2a0600"/><rect x="1359.6" y="603" width="127.4" height="1.3" fill="#400a00"/><rect x="1359.6" y="604" width="127.4" height="1.3" fill="#310700"/><rect x="1359.6" y="605" width="127.4" height="1.3" fill="#711100"/><rect x="1359.6" y="606" width="127.4" height="1.3" fill="#630f00"/><rect x="1359.6" y="607" width="127.4" height="1.3" fill="#681000"/><rect x="1359.6" y="608" width="127.4" height="1.3" fill="#761200"/><rect x="1359.6" y="609" width="127.4" height="1.3" fill="#811300"/><rect x="1359.6" y="610" width="127.4" height="1.3" fill="#791200"/><rect x="1359.6" y="611" width="127.4" height="1.3" fill="#400a00"/><rect x="1359.6" y="612" width="127.4" height="1.3" fill="#390900"/><rect x="1359.6" y="613" width="127.4" height="1.3" fill="#4b0b00"/><rect x="1359.6" y="614" width="127.4" height="1.3" fill="#350800"/><rect x="1359.6" y="615" width="127.4" height="1.3" fill="#330800"/><rect x="1359.6" y="616" width="127.4" height="1.3" fill="#450a00"/><rect x="1359.6" y="617" width="127.4" height="1.3" fill="#3a0900"/><rect x="1359.6" y="618" width="127.4" height="1.3" fill="#360800"/><rect x="1359.6" y="619" width="127.4" height="1.3" fill="#320800"/><rect x="1359.6" y="620" width="127.4" height="1.3" fill="#3e0900"/><rect x="1359.6" y="621" width="127.4" height="1.3" fill="#490b00"/><rect x="1359.6" y="622" width="127.4" height="1.3" fill="#450a00"/><rect x="1359.6" y="623" width="127.4" height="1.3" fill="#310700"/><rect x="1359.6" y="624" width="127.4" height="1.3" fill="#460a00"/><rect x="1359.6" y="625" width="127.4" height="1.3" fill="#430a00"/><rect x="1359.6" y="626" width="127.4" height="1.3" fill="#340800"/><rect x="1359.6" y="627" width="127.4" height="1.3" fill="#771200"/><rect x="1359.6" y="628" width="127.4" height="1.3" fill="#681000"/><rect x="1359.6" y="629" width="127.4" height="1.3" fill="#670f00"/><rect x="1359.6" y="630" width="127.4" height="1.3" fill="#771200"/><rect x="1359.6" y="631" width="127.4" height="1.3" fill="#7f1300"/><rect x="1359.6" y="632" width="127.4" height="1.3" fill="#620f00"/><rect x="1359.6" y="633" width="127.4" height="1.3" fill="#721100"/><rect x="1359.6" y="634" width="127.4" height="1.3" fill="#600e00"/><rect x="1359.6" y="635" width="127.4" height="1.3" fill="#751200"/><rect x="1359.6" y="636" width="127.4" height="1.3" fill="#500c00"/><rect x="1359.6" y="637" width="127.4" height="1.3" fill="#660f00"/><rect x="1359.6" y="638" width="127.4" height="1.3" fill="#4e0c00"/><rect x="1359.6" y="639" width="127.4" height="1.3" fill="#8e1500"/><rect x="1359.6" y="640" width="127.4" height="1.3" fill="#a21800"/><rect x="1359.6" y="641" width="127.4" height="1.3" fill="#5c0e00"/><rect x="1359.6" y="642" width="127.4" height="1.3" fill="#7b1200"/><rect x="1359.6" y="643" width="127.4" height="1.3" fill="#891500"/><rect x="1359.6" y="644" width="127.4" height="1.3" fill="#801300"/><rect x="1359.6" y="645" width="127.4" height="1.3" fill="#781200"/><rect x="1359.6" y="646" width="127.4" height="1.3" fill="#a11800"/><rect x="1359.6" y="647" width="127.4" height="1.3" fill="#831400"/><rect x="1359.6" y="648" width="127.4" height="1.3" fill="#691000"/><rect x="1359.6" y="649" width="127.4" height="1.3" fill="#8e1500"/><rect x="1359.6" y="650" width="127.4" height="1.3" fill="#681000"/><rect x="1359.6" y="651" width="127.4" height="1.3" fill="#931600"/><rect x="1359.6" y="652" width="127.4" height="1.3" fill="#791200"/><rect x="1359.6" y="653" width="127.4" height="1.3" fill="#841400"/><rect x="1359.6" y="654" width="127.4" height="1.3" fill="#941600"/><rect x="1359.6" y="655" width="127.4" height="1.3" fill="#831400"/><rect x="1359.6" y="656" width="127.4" height="1.3" fill="#6d1000"/><rect x="1359.6" y="657" width="127.4" height="1.3" fill="#691000"/><rect x="1359.6" y="658" width="127.4" height="1.3" fill="#931600"/><rect x="1359.6" y="659" width="127.4" height="1.3" fill="#8c1500"/><rect x="1359.6" y="660" width="127.4" height="1.3" fill="#761200"/><rect x="1359.6" y="661" width="127.4" height="1.3" fill="#8e1500"/><rect x="1359.6" y="662" width="127.4" height="1.3" fill="#891500"/><rect x="1359.6" y="663" width="127.4" height="1.3" fill="#8b1500"/><rect x="1359.6" y="664" width="127.4" height="1.3" fill="#600e00"/><rect x="1359.6" y="665" width="127.4" height="1.3" fill="#7d1300"/><rect x="1359.6" y="666" width="127.4" height="1.3" fill="#8f1500"/><rect x="1359.6" y="667" width="127.4" height="1.3" fill="#761200"/><rect x="1359.6" y="668" width="127.4" height="1.3" fill="#781200"/><rect x="1359.6" y="669" width="127.4" height="1.3" fill="#4a0b00"/><rect x="1359.6" y="670" width="127.4" height="1.3" fill="#6e1000"/><rect x="1359.6" y="671" width="127.4" height="1.3" fill="#731100"/><rect x="1359.6" y="672" width="127.4" height="1.3" fill="#901600"/><rect x="1359.6" y="673" width="127.4" height="1.3" fill="#5f0e00"/><rect x="1359.6" y="674" width="127.4" height="1.3" fill="#350800"/><rect x="1359.6" y="675" width="127.4" height="1.3" fill="#3a0900"/><rect x="1359.6" y="676" width="127.4" height="1.3" fill="#450a00"/><rect x="1359.6" y="677" width="127.4" height="1.3" fill="#340800"/><rect x="1359.6" y="678" width="127.4" height="1.3" fill="#480b00"/><rect x="1359.6" y="679" width="127.4" height="1.3" fill="#300700"/><rect x="1359.6" y="680" width="127.4" height="1.3" fill="#3d0900"/><rect x="1359.6" y="681" width="127.4" height="1.3" fill="#330800"/><rect x="1359.6" y="682" width="127.4" height="1.3" fill="#600e00"/><rect x="1359.6" y="683" width="127.4" height="1.3" fill="#540d00"/><rect x="1359.6" y="684" width="127.4" height="1.3" fill="#480b00"/><rect x="1359.6" y="685" width="127.4" height="1.3" fill="#6c1000"/><rect x="1359.6" y="686" width="127.4" height="1.3" fill="#8d1500"/><rect x="1359.6" y="687" width="127.4" height="1.3" fill="#801300"/><rect x="1359.6" y="688" width="127.4" height="1.3" fill="#8c1500"/><rect x="1359.6" y="689" width="127.4" height="1.3" fill="#981700"/><rect x="1359.6" y="690" width="127.4" height="1.3" fill="#7a1200"/><rect x="1359.6" y="691" width="127.4" height="1.3" fill="#871400"/><rect x="1359.6" y="692" width="127.4" height="2.3" fill="#911600"/><rect x="1359.6" y="694" width="127.4" height="1.3" fill="#841400"/><rect x="1359.6" y="695" width="127.4" height="1.3" fill="#691000"/><rect x="1359.6" y="696" width="127.4" height="1.3" fill="#9b1700"/><rect x="1359.6" y="697" width="127.4" height="1.3" fill="#8e1500"/><rect x="1359.6" y="698" width="127.4" height="1.3" fill="#891500"/><rect x="1359.6" y="699" width="127.4" height="1.3" fill="#851400"/><rect x="1359.6" y="700" width="127.4" height="1.3" fill="#8d1500"/><rect x="1359.6" y="701" width="127.4" height="1.3" fill="#821400"/><rect x="1359.6" y="702" width="127.4" height="1.3" fill="#7a1200"/><rect x="1359.6" y="703" width="127.4" height="1.3" fill="#7e1300"/><rect x="1359.6" y="704" width="127.4" height="1.3" fill="#5d0e00"/><rect x="1359.6" y="705" width="127.4" height="1.3" fill="#5c0e00"/><rect x="1359.6" y="706" width="127.4" height="1.3" fill="#550d00"/><rect x="1359.6" y="707" width="127.4" height="1.3" fill="#6e1000"/><rect x="1359.6" y="708" width="127.4" height="1.3" fill="#530c00"/><rect x="1359.6" y="709" width="127.4" height="1.3" fill="#6e1000"/><rect x="1359.6" y="710" width="127.4" height="1.3" fill="#570d00"/><rect x="1359.6" y="711" width="127.4" height="1.3" fill="#6a1000"/><rect x="1359.6" y="712" width="127.4" height="1.3" fill="#781200"/><rect x="1359.6" y="713" width="127.4" height="1.3" fill="#681000"/><rect x="1359.6" y="714" width="127.4" height="1.3" fill="#5b0e00"/><rect x="1359.6" y="715" width="127.4" height="1.3" fill="#650f00"/><rect x="1359.6" y="716" width="127.4" height="1.3" fill="#670f00"/><rect x="1359.6" y="717" width="127.4" height="1.3" fill="#380800"/><rect x="1359.6" y="718" width="127.4" height="1.3" fill="#470b00"/><rect x="1359.6" y="719" width="127.4" height="1.3" fill="#510c00"/><rect x="1359.6" y="720" width="127.4" height="1.3" fill="#490b00"/><rect x="1359.6" y="721" width="127.4" height="1.3" fill="#500c00"/><rect x="1359.6" y="722" width="127.4" height="2.3" fill="#2d0700"/><rect x="1359.6" y="724" width="127.4" height="1.3" fill="#2f0700"/><rect x="1359.6" y="725" width="127.4" height="1.3" fill="#2b0600"/><rect x="1359.6" y="726" width="127.4" height="1.3" fill="#210500"/><rect x="1359.6" y="727" width="127.4" height="1.3" fill="#000400"/><rect x="1359.6" y="728" width="127.4" height="2.3" fill="#000700"/><rect x="1359.6" y="730" width="127.4" height="1.3" fill="#000600"/><rect x="1359.6" y="731" width="127.4" height="1.3" fill="#001600"/><rect x="1359.6" y="732" width="127.4" height="1.3" fill="#000700"/><rect x="1359.6" y="733" width="127.4" height="1.3" fill="#240500"/><rect x="1359.6" y="734" width="127.4" height="1.3" fill="#180400"/><rect x="1359.6" y="735" width="127.4" height="1.3" fill="#240500"/><rect x="1359.6" y="736" width="127.4" height="1.3" fill="#2a0600"/><rect x="1359.6" y="737" width="127.4" height="1.3" fill="#220500"/><rect x="1359.6" y="738" width="127.4" height="1.3" fill="#3d0900"/><rect x="1359.6" y="739" width="127.4" height="1.3" fill="#000200"/><rect x="1359.6" y="740" width="127.4" height="1.3" fill="#1a0400"/><rect x="1359.6" y="741" width="127.4" height="1.3" fill="#080100"/><rect x="1359.6" y="742" width="127.4" height="1.3" fill="#280600"/><rect x="1359.6" y="743" width="127.4" height="1.3" fill="#3c0900"/><rect x="1359.6" y="744" width="127.4" height="1.3" fill="#000000"/><rect x="1359.6" y="745" width="127.4" height="1.3" fill="#1e0400"/>
<rect x="1486.7" y="241" width="127.4" height="1.3" fill="#981700"/><rect x="1486.7" y="242" width="127.4" height="1.3" fill="#8b1500"/><rect x="1486.7" y="243" width="127.4" height="1.3" fill="#981700"/><rect x="1486.7" y="244" width="127.4" height="1.3" fill="#6e1000"/><rect x="1486.7" y="245" width="127.4" height="1.3" fill="#9d1800"/><rect x="1486.7" y="246" width="127.4" height="1.3" fill="#961600"/><rect x="1486.7" y="247" width="127.4" height="1.3" fill="#901600"/><rect x="1486.7" y="248" width="127.4" height="1.3" fill="#871400"/><rect x="1486.7" y="249" width="127.4" height="1.3" fill="#9a1700"/><rect x="1486.7" y="250" width="127.4" height="1.3" fill="#891500"/><rect x="1486.7" y="251" width="127.4" height="1.3" fill="#931600"/><rect x="1486.7" y="252" width="127.4" height="1.3" fill="#881400"/><rect x="1486.7" y="253" width="127.4" height="1.3" fill="#6e1000"/><rect x="1486.7" y="254" width="127.4" height="1.3" fill="#901600"/><rect x="1486.7" y="255" width="127.4" height="1.3" fill="#931600"/><rect x="1486.7" y="256" width="127.4" height="1.3" fill="#9b1700"/><rect x="1486.7" y="257" width="127.4" height="1.3" fill="#600e00"/><rect x="1486.7" y="258" width="127.4" height="1.3" fill="#6c1000"/><rect x="1486.7" y="259" width="127.4" height="1.3" fill="#751200"/><rect x="1486.7" y="260" width="127.4" height="1.3" fill="#6e1000"/><rect x="1486.7" y="261" width="127.4" height="1.3" fill="#7d1300"/><rect x="1486.7" y="262" width="127.4" height="1.3" fill="#881400"/><rect x="1486.7" y="263" width="127.4" height="1.3" fill="#5f0e00"/><rect x="1486.7" y="264" width="127.4" height="1.3" fill="#650f00"/><rect x="1486.7" y="265" width="127.4" height="1.3" fill="#8e1500"/><rect x="1486.7" y="266" width="127.4" height="1.3" fill="#981700"/><rect x="1486.7" y="267" width="127.4" height="1.3" fill="#8f1500"/><rect x="1486.7" y="268" width="127.4" height="1.3" fill="#8e1500"/><rect x="1486.7" y="269" width="127.4" height="1.3" fill="#6a1000"/><rect x="1486.7" y="270" width="127.4" height="1.3" fill="#691000"/><rect x="1486.7" y="271" width="127.4" height="1.3" fill="#801300"/><rect x="1486.7" y="272" width="127.4" height="1.3" fill="#660f00"/><rect x="1486.7" y="273" width="127.4" height="1.3" fill="#590d00"/><rect x="1486.7" y="274" width="127.4" height="1.3" fill="#3b0900"/><rect x="1486.7" y="275" width="127.4" height="1.3" fill="#681000"/><rect x="1486.7" y="276" width="127.4" height="1.3" fill="#610f00"/><rect x="1486.7" y="277" width="127.4" height="1.3" fill="#000700"/><rect x="1486.7" y="278" width="127.4" height="1.3" fill="#000800"/><rect x="1486.7" y="279" width="127.4" height="1.3" fill="#020000"/><rect x="1486.7" y="280" width="127.4" height="1.3" fill="#003400"/><rect x="1486.7" y="281" width="127.4" height="1.3" fill="#001b00"/><rect x="1486.7" y="282" width="127.4" height="1.3" fill="#002c00"/><rect x="1486.7" y="283" width="127.4" height="1.3" fill="#003800"/><rect x="1486.7" y="284" width="127.4" height="1.3" fill="#001b00"/><rect x="1486.7" y="285" width="127.4" height="1.3" fill="#003200"/><rect x="1486.7" y="286" width="127.4" height="1.3" fill="#002900"/><rect x="1486.7" y="287" width="127.4" height="1.3" fill="#002b00"/><rect x="1486.7" y="288" width="127.4" height="1.3" fill="#002f00"/><rect x="1486.7" y="289" width="127.4" height="1.3" fill="#000400"/><rect x="1486.7" y="290" width="127.4" height="1.3" fill="#000f00"/><rect x="1486.7" y="291" width="127.4" height="1.3" fill="#001c00"/><rect x="1486.7" y="292" width="127.4" height="1.3" fill="#002000"/><rect x="1486.7" y="293" width="127.4" height="1.3" fill="#001500"/><rect x="1486.7" y="294" width="127.4" height="1.3" fill="#0d0200"/><rect x="1486.7" y="295" width="127.4" height="1.3" fill="#150300"/><rect x="1486.7" y="296" width="127.4" height="1.3" fill="#160300"/><rect x="1486.7" y="297" width="127.4" height="1.3" fill="#320800"/><rect x="1486.7" y="298" width="127.4" height="1.3" fill="#2d0700"/><rect x="1486.7" y="299" width="127.4" height="1.3" fill="#220500"/><rect x="1486.7" y="300" width="127.4" height="1.3" fill="#230500"/><rect x="1486.7" y="301" width="127.4" height="1.3" fill="#120300"/><rect x="1486.7" y="302" width="127.4" height="1.3" fill="#050100"/><rect x="1486.7" y="303" width="127.4" height="2.3" fill="#0d0200"/><rect x="1486.7" y="305" width="127.4" height="2.3" fill="#000900"/><rect x="1486.7" y="307" width="127.4" height="1.3" fill="#030000"/><rect x="1486.7" y="308" width="127.4" height="1.3" fill="#000700"/><rect x="1486.7" y="309" width="127.4" height="1.3" fill="#010000"/><rect x="1486.7" y="310" width="127.4" height="1.3" fill="#008700"/><rect x="1486.7" y="311" width="127.4" height="1.3" fill="#008d00"/><rect x="1486.7" y="312" width="127.4" height="1.3" fill="#007c00"/><rect x="1486.7" y="313" width="127.4" height="1.3" fill="#009900"/><rect x="1486.7" y="314" width="127.4" height="1.3" fill="#009500"/><rect x="1486.7" y="315" width="127.4" height="2.3" fill="#009c00"/><rect x="1486.7" y="317" width="127.4" height="1.3" fill="#007800"/><rect x="1486.7" y="318" width="127.4" height="1.3" fill="#007500"/><rect x="1486.7" y="319" width="127.4" height="1.3" fill="#009000"/><rect x="1486.7" y="320" width="127.4" height="1.3" fill="#008700"/><rect x="1486.7" y="321" width="127.4" height="1.3" fill="#005500"/><rect x="1486.7" y="322" width="127.4" height="1.3" fill="#005a00"/><rect x="1486.7" y="323" width="127.4" height="1.3" fill="#005400"/><rect x="1486.7" y="324" width="127.4" height="1.3" fill="#003300"/><rect x="1486.7" y="325" width="127.4" height="1.3" fill="#002c00"/><rect x="1486.7" y="326" width="127.4" height="1.3" fill="#001f00"/><rect x="1486.7" y="327" width="127.4" height="1.3" fill="#004300"/><rect x="1486.7" y="328" width="127.4" height="1.3" fill="#005500"/><rect x="1486.7" y="329" width="127.4" height="1.3" fill="#006200"/><rect x="1486.7" y="330" width="127.4" height="1.3" fill="#005b00"/><rect x="1486.7" y="331" width="127.4" height="1.3" fill="#005f00"/><rect x="1486.7" y="332" width="127.4" height="1.3" fill="#006200"/><rect x="1486.7" y="333" width="127.4" height="1.3" fill="#004200"/><rect x="1486.7" y="334" width="127.4" height="1.3" fill="#001500"/><rect x="1486.7" y="335" width="127.4" height="1.3" fill="#000e00"/><rect x="1486.7" y="336" width="127.4" height="1.3" fill="#0a0200"/><rect x="1486.7" y="337" width="127.4" height="1.3" fill="#000100"/><rect x="1486.7" y="338" width="127.4" height="1.3" fill="#004400"/><rect x="1486.7" y="339" width="127.4" height="1.3" fill="#005000"/><rect x="1486.7" y="340" width="127.4" height="1.3" fill="#004300"/><rect x="1486.7" y="341" width="127.4" height="1.3" fill="#003300"/><rect x="1486.7" y="342" width="127.4" height="1.3" fill="#004000"/><rect x="1486.7" y="343" width="127.4" height="1.3" fill="#003800"/><rect x="1486.7" y="344" width="127.4" height="1.3" fill="#006b00"/><rect x="1486.7" y="345" width="127.4" height="1.3" fill="#006500"/><rect x="1486.7" y="346" width="127.4" height="1.3" fill="#006f00"/><rect x="1486.7" y="347" width="127.4" height="1.3" fill="#006600"/><rect x="1486.7" y="348" width="127.4" height="1.3" fill="#005a00"/><rect x="1486.7" y="349" width="127.4" height="1.3" fill="#008000"/><rect x="1486.7" y="350" width="127.4" height="1.3" fill="#006d00"/><rect x="1486.7" y="351" width="127.4" height="1.3" fill="#006900"/><rect x="1486.7" y="352" width="127.4" height="1.3" fill="#007400"/><rect x="1486.7" y="353" width="127.4" height="1.3" fill="#007000"/><rect x="1486.7" y="354" width="127.4" height="1.3" fill="#006100"/><rect x="1486.7" y="355" width="127.4" height="1.3" fill="#002e00"/><rect x="1486.7" y="356" width="127.4" height="1.3" fill="#004000"/><rect x="1486.7" y="357" width="127.4" height="1.3" fill="#004400"/><rect x="1486.7" y="358" width="127.4" height="1.3" fill="#008900"/><rect x="1486.7" y="359" width="127.4" height="1.3" fill="#005800"/><rect x="1486.7" y="360" width="127.4" height="1.3" fill="#007200"/><rect x="1486.7" y="361" width="127.4" height="1.3" fill="#007400"/><rect x="1486.7" y="362" width="127.4" height="1.3" fill="#002a00"/><rect x="1486.7" y="363" width="127.4" height="1.3" fill="#001d00"/><rect x="1486.7" y="364" width="127.4" height="1.3" fill="#000500"/><rect x="1486.7" y="365" width="127.4" height="1.3" fill="#080100"/><rect x="1486.7" y="366" width="127.4" height="1.3" fill="#0c0200"/><rect x="1486.7" y="367" width="127.4" height="1.3" fill="#080100"/><rect x="1486.7" y="368" width="127.4" height="1.3" fill="#000b00"/><rect x="1486.7" y="369" width="127.4" height="1.3" fill="#001800"/><rect x="1486.7" y="370" width="127.4" height="1.3" fill="#881400"/><rect x="1486.7" y="371" width="127.4" height="1.3" fill="#6a1000"/><rect x="1486.7" y="372" width="127.4" height="1.3" fill="#590d00"/><rect x="1486.7" y="373" width="127.4" height="1.3" fill="#711100"/><rect x="1486.7" y="374" width="127.4" height="1.3" fill="#681000"/><rect x="1486.7" y="375" width="127.4" height="1.3" fill="#650f00"/><rect x="1486.7" y="376" width="127.4" height="1.3" fill="#430a00"/><rect x="1486.7" y="377" width="127.4" height="1.3" fill="#4c0b00"/><rect x="1486.7" y="378" width="127.4" height="1.3" fill="#390900"/><rect x="1486.7" y="379" width="127.4" height="1.3" fill="#460a00"/><rect x="1486.7" y="380" width="127.4" height="1.3" fill="#5a0e00"/><rect x="1486.7" y="381" width="127.4" height="1.3" fill="#7d1300"/><rect x="1486.7" y="382" width="127.4" height="1.3" fill="#711100"/><rect x="1486.7" y="383" width="127.4" height="1.3" fill="#751200"/><rect x="1486.7" y="384" width="127.4" height="1.3" fill="#711100"/><rect x="1486.7" y="385" width="127.4" height="1.3" fill="#731100"/><rect x="1486.7" y="386" width="127.4" height="1.3" fill="#7e1300"/><rect x="1486.7" y="387" width="127.4" height="1.3" fill="#721100"/><rect x="1486.7" y="388" width="127.4" height="1.3" fill="#510c00"/><rect x="1486.7" y="389" width="127.4" height="1.3" fill="#240500"/><rect x="1486.7" y="390" width="127.4" height="1.3" fill="#190400"/><rect x="1486.7" y="391" width="127.4" height="1.3" fill="#2c0700"/><rect x="1486.7" y="392" width="127.4" height="1.3" fill="#1d0400"/><rect x="1486.7" y="393" width="127.4" height="1.3" fill="#260600"/><rect x="1486.7" y="394" width="127.4" height="1.3" fill="#3e0900"/><rect x="1486.7" y="395" width="127.4" height="1.3" fill="#180400"/><rect x="1486.7" y="396" width="127.4" height="1.3" fill="#170300"/><rect x="1486.7" y="397" width="127.4" height="1.3" fill="#130300"/><rect x="1486.7" y="398" width="127.4" height="1.3" fill="#080100"/><rect x="1486.7" y="399" width="127.4" height="1.3" fill="#0e0200"/><rect x="1486.7" y="400" width="127.4" height="1.3" fill="#000a00"/><rect x="1486.7" y="401" width="127.4" height="1.3" fill="#001600"/><rect x="1486.7" y="402" width="127.4" height="1.3" fill="#002300"/><rect x="1486.7" y="403" width="127.4" height="1.3" fill="#001f00"/><rect x="1486.7" y="404" width="127.4" height="1.3" fill="#000700"/><rect x="1486.7" y="405" width="127.4" height="1.3" fill="#300700"/><rect x="1486.7" y="406" width="127.4" height="1.3" fill="#350800"/><rect x="1486.7" y="407" width="127.4" height="1.3" fill="#3e0900"/><rect x="1486.7" y="408" width="127.4" height="1.3" fill="#4b0b00"/><rect x="1486.7" y="409" width="127.4" height="1.3" fill="#520c00"/><rect x="1486.7" y="410" width="127.4" height="1.3" fill="#470b00"/><rect x="1486.7" y="411" width="127.4" height="1.3" fill="#3b0900"/><rect x="1486.7" y="412" width="127.4" height="1.3" fill="#3c0900"/><rect x="1486.7" y="413" width="127.4" height="1.3" fill="#500c00"/><rect x="1486.7" y="414" width="127.4" height="1.3" fill="#4b0b00"/><rect x="1486.7" y="415" width="127.4" height="1.3" fill="#360800"/><rect x="1486.7" y="416" width="127.4" height="1.3" fill="#9e1800"/><rect x="1486.7" y="417" width="127.4" height="1.3" fill="#9c1700"/><rect x="1486.7" y="418" width="127.4" height="1.3" fill="#981700"/><rect x="1486.7" y="419" width="127.4" height="1.3" fill="#901600"/><rect x="1486.7" y="420" width="127.4" height="1.3" fill="#831400"/><rect x="1486.7" y="421" width="127.4" height="1.3" fill="#8f1500"/><rect x="1486.7" y="422" width="127.4" height="1.3" fill="#801300"/><rect x="1486.7" y="423" width="127.4" height="1.3" fill="#aa1a00"/><rect x="1486.7" y="424" width="127.4" height="1.3" fill="#9f1800"/><rect x="1486.7" y="425" width="127.4" height="1.3" fill="#851400"/><rect x="1486.7" y="426" width="127.4" height="1.3" fill="#ad1a00"/><rect x="1486.7" y="427" width="127.4" height="1.3" fill="#a51900"/><rect x="1486.7" y="428" width="127.4" height="1.3" fill="#7a1200"/><rect x="1486.7" y="429" width="127.4" height="1.3" fill="#b31b00"/><rect x="1486.7" y="430" width="127.4" height="1.3" fill="#a41900"/><rect x="1486.7" y="431" width="127.4" height="1.3" fill="#b71b00"/><rect x="1486.7" y="432" width="127.4" height="1.3" fill="#841400"/><rect x="1486.7" y="433" width="127.4" height="1.3" fill="#9f1800"/><rect x="1486.7" y="434" width="127.4" height="1.3" fill="#9e1800"/><rect x="1486.7" y="435" width="127.4" height="2.3" fill="#9a1700"/><rect x="1486.7" y="437" width="127.4" height="1.3" fill="#a71900"/><rect x="1486.7" y="438" width="127.4" height="1.3" fill="#801300"/><rect x="1486.7" y="439" width="127.4" height="1.3" fill="#1c0400"/><rect x="1486.7" y="440" width="127.4" height="1.3" fill="#1a0400"/><rect x="1486.7" y="441" width="127.4" height="1.3" fill="#240500"/><rect x="1486.7" y="442" width="127.4" height="1.3" fill="#5c0e00"/><rect x="1486.7" y="443" width="127.4" height="1.3" fill="#6a1000"/><rect x="1486.7" y="444" width="127.4" height="1.3" fill="#681000"/><rect x="1486.7" y="445" width="127.4" height="1.3" fill="#650f00"/><rect x="1486.7" y="446" width="127.4" height="1.3" fill="#5b0e00"/><rect x="1486.7" y="447" width="127.4" height="1.3" fill="#5f0e00"/><rect x="1486.7" y="448" width="127.4" height="1.3" fill="#721100"/><rect x="1486.7" y="449" width="127.4" height="1.3" fill="#6f1100"/><rect x="1486.7" y="450" width="127.4" height="1.3" fill="#660f00"/><rect x="1486.7" y="451" width="127.4" height="1.3" fill="#600e00"/><rect x="1486.7" y="452" width="127.4" height="1.3" fill="#7a1200"/><rect x="1486.7" y="453" width="127.4" height="1.3" fill="#5d0e00"/><rect x="1486.7" y="454" width="127.4" height="1.3" fill="#6e1000"/><rect x="1486.7" y="455" width="127.4" height="1.3" fill="#751200"/><rect x="1486.7" y="456" width="127.4" height="1.3" fill="#610f00"/><rect x="1486.7" y="457" width="127.4" height="1.3" fill="#701100"/><rect x="1486.7" y="458" width="127.4" height="1.3" fill="#550d00"/><rect x="1486.7" y="459" width="127.4" height="1.3" fill="#981700"/><rect x="1486.7" y="460" width="127.4" height="1.3" fill="#8c1500"/><rect x="1486.7" y="461" width="127.4" height="1.3" fill="#711100"/><rect x="1486.7" y="462" width="127.4" height="1.3" fill="#931600"/><rect x="1486.7" y="463" width="127.4" height="1.3" fill="#7c1300"/><rect x="1486.7" y="464" width="127.4" height="1.3" fill="#9c1700"/><rect x="1486.7" y="465" width="127.4" height="1.3" fill="#7f1300"/><rect x="1486.7" y="466" width="127.4" height="1.3" fill="#861400"/><rect x="1486.7" y="467" width="127.4" height="1.3" fill="#8d1500"/><rect x="1486.7" y="468" width="127.4" height="1.3" fill="#841400"/><rect x="1486.7" y="469" width="127.4" height="1.3" fill="#360800"/><rect x="1486.7" y="470" width="127.4" height="1.3" fill="#2c0700"/><rect x="1486.7" y="471" width="127.4" height="1.3" fill="#3b0900"/><rect x="1486.7" y="472" width="127.4" height="1.3" fill="#320800"/><rect x="1486.7" y="473" width="127.4" height="1.3" fill="#350800"/><rect x="1486.7" y="474" width="127.4" height="1.3" fill="#110300"/><rect x="1486.7" y="475" width="127.4" height="1.3" fill="#660f00"/><rect x="1486.7" y="476" width="127.4" height="1.3" fill="#570d00"/><rect x="1486.7" y="477" width="127.4" height="1.3" fill="#3f0900"/><rect x="1486.7" y="478" width="127.4" height="1.3" fill="#580d00"/><rect x="1486.7" y="479" width="127.4" height="1.3" fill="#5d0e00"/><rect x="1486.7" y="480" width="127.4" height="1.3" fill="#650f00"/><rect x="1486.7" y="481" width="127.4" height="1.3" fill="#721100"/><rect x="1486.7" y="482" width="127.4" height="1.3" fill="#981700"/><rect x="1486.7" y="483" width="127.4" height="1.3" fill="#7f1300"/><rect x="1486.7" y="484" width="127.4" height="1.3" fill="#a51900"/><rect x="1486.7" y="485" width="127.4" height="1.3" fill="#7f1300"/><rect x="1486.7" y="486" width="127.4" height="1.3" fill="#8c1500"/><rect x="1486.7" y="487" width="127.4" height="1.3" fill="#7c1300"/><rect x="1486.7" y="488" width="127.4" height="1.3" fill="#711100"/><rect x="1486.7" y="489" width="127.4" height="1.3" fill="#921600"/><rect x="1486.7" y="490" width="127.4" height="1.3" fill="#8f1500"/><rect x="1486.7" y="491" width="127.4" height="1.3" fill="#110300"/><rect x="1486.7" y="492" width="127.4" height="1.3" fill="#090100"/><rect x="1486.7" y="493" width="127.4" height="1.3" fill="#000600"/><rect x="1486.7" y="494" width="127.4" height="1.3" fill="#003800"/><rect x="1486.7" y="495" width="127.4" height="2.3" fill="#230500"/><rect x="1486.7" y="497" width="127.4" height="1.3" fill="#210500"/><rect x="1486.7" y="498" width="127.4" height="1.3" fill="#320800"/><rect x="1486.7" y="499" width="127.4" height="1.3" fill="#2f0700"/><rect x="1486.7" y="500" width="127.4" height="1.3" fill="#004400"/><rect x="1486.7" y="501" width="127.4" height="1.3" fill="#003f00"/><rect x="1486.7" y="502" width="127.4" height="1.3" fill="#004300"/><rect x="1486.7" y="503" width="127.4" height="1.3" fill="#003e00"/><rect x="1486.7" y="504" width="127.4" height="1.3" fill="#003700"/><rect x="1486.7" y="505" width="127.4" height="1.3" fill="#005f00"/><rect x="1486.7" y="506" width="127.4" height="1.3" fill="#007600"/><rect x="1486.7" y="507" width="127.4" height="1.3" fill="#008100"/><rect x="1486.7" y="508" width="127.4" height="1.3" fill="#005800"/><rect x="1486.7" y="509" width="127.4" height="1.3" fill="#006a00"/><rect x="1486.7" y="510" width="127.4" height="1.3" fill="#050100"/><rect x="1486.7" y="511" width="127.4" height="1.3" fill="#001900"/><rect x="1486.7" y="512" width="127.4" height="1.3" fill="#000b00"/><rect x="1486.7" y="513" width="127.4" height="1.3" fill="#000700"/><rect x="1486.7" y="514" width="127.4" height="1.3" fill="#005b00"/><rect x="1486.7" y="515" width="127.4" height="1.3" fill="#004f00"/><rect x="1486.7" y="516" width="127.4" height="1.3" fill="#003f00"/><rect x="1486.7" y="517" width="127.4" height="1.3" fill="#003a00"/><rect x="1486.7" y="518" width="127.4" height="1.3" fill="#003300"/><rect x="1486.7" y="519" width="127.4" height="1.3" fill="#005300"/><rect x="1486.7" y="520" width="127.4" height="1.3" fill="#005a00"/><rect x="1486.7" y="521" width="127.4" height="1.3" fill="#004100"/><rect x="1486.7" y="522" width="127.4" height="1.3" fill="#001900"/><rect x="1486.7" y="523" width="127.4" height="1.3" fill="#002200"/><rect x="1486.7" y="524" width="127.4" height="1.3" fill="#003300"/><rect x="1486.7" y="525" width="127.4" height="2.3" fill="#001b00"/><rect x="1486.7" y="527" width="127.4" height="1.3" fill="#001d00"/><rect x="1486.7" y="528" width="127.4" height="1.3" fill="#002a00"/><rect x="1486.7" y="529" width="127.4" height="1.3" fill="#004400"/><rect x="1486.7" y="530" width="127.4" height="1.3" fill="#003e00"/><rect x="1486.7" y="531" width="127.4" height="1.3" fill="#004f00"/><rect x="1486.7" y="532" width="127.4" height="1.3" fill="#006000"/><rect x="1486.7" y="533" width="127.4" height="1.3" fill="#004400"/><rect x="1486.7" y="534" width="127.4" height="1.3" fill="#004200"/><rect x="1486.7" y="535" width="127.4" height="1.3" fill="#004800"/><rect x="1486.7" y="536" width="127.4" height="1.3" fill="#0d0200"/><rect x="1486.7" y="537" width="127.4" height="1.3" fill="#000300"/><rect x="1486.7" y="538" width="127.4" height="1.3" fill="#030000"/><rect x="1486.7" y="539" width="127.4" height="1.3" fill="#000000"/><rect x="1486.7" y="540" width="127.4" height="1.3" fill="#0a0200"/><rect x="1486.7" y="541" width="127.4" height="1.3" fill="#150300"/><rect x="1486.7" y="542" width="127.4" height="1.3" fill="#010000"/><rect x="1486.7" y="543" width="127.4" height="1.3" fill="#1a0400"/><rect x="1486.7" y="544" width="127.4" height="1.3" fill="#140300"/><rect x="1486.7" y="545" width="127.4" height="1.3" fill="#003000"/><rect x="1486.7" y="546" width="127.4" height="1.3" fill="#003200"/><rect x="1486.7" y="547" width="127.4" height="1.3" fill="#002300"/><rect x="1486.7" y="548" width="127.4" height="1.3" fill="#1e0400"/><rect x="1486.7" y="549" width="127.4" height="1.3" fill="#1f0500"/><rect x="1486.7" y="550" width="127.4" height="1.3" fill="#140300"/><rect x="1486.7" y="551" width="127.4" height="1.3" fill="#260600"/><rect x="1486.7" y="552" width="127.4" height="1.3" fill="#300700"/><rect x="1486.7" y="553" width="127.4" height="1.3" fill="#270600"/><rect x="1486.7" y="554" width="127.4" height="1.3" fill="#250600"/><rect x="1486.7" y="555" width="127.4" height="1.3" fill="#1e0400"/><rect x="1486.7" y="556" width="127.4" height="1.3" fill="#220500"/><rect x="1486.7" y="557" width="127.4" height="1.3" fill="#000f00"/><rect x="1486.7" y="558" width="127.4" height="1.3" fill="#0b0200"/><rect x="1486.7" y="559" width="127.4" height="1.3" fill="#000400"/><rect x="1486.7" y="560" width="127.4" height="1.3" fill="#000c00"/><rect x="1486.7" y="561" width="127.4" height="1.3" fill="#002d00"/><rect x="1486.7" y="562" width="127.4" height="1.3" fill="#002e00"/><rect x="1486.7" y="563" width="127.4" height="1.3" fill="#001a00"/><rect x="1486.7" y="564" width="127.4" height="1.3" fill="#001700"/><rect x="1486.7" y="565" width="127.4" height="1.3" fill="#002100"/><rect x="1486.7" y="566" width="127.4" height="1.3" fill="#000700"/><rect x="1486.7" y="567" width="127.4" height="1.3" fill="#000800"/><rect x="1486.7" y="568" width="127.4" height="1.3" fill="#001900"/><rect x="1486.7" y="569" width="127.4" height="1.3" fill="#002300"/><rect x="1486.7" y="570" width="127.4" height="1.3" fill="#001a00"/><rect x="1486.7" y="571" width="127.4" height="1.3" fill="#001900"/><rect x="1486.7" y="572" width="127.4" height="1.3" fill="#000e00"/><rect x="1486.7" y="573" width="127.4" height="1.3" fill="#001600"/><rect x="1486.7" y="574" width="127.4" height="1.3" fill="#002900"/><rect x="1486.7" y="575" width="127.4" height="1.3" fill="#000f00"/><rect x="1486.7" y="576" width="127.4" height="1.3" fill="#004d00"/><rect x="1486.7" y="577" width="127.4" height="1.3" fill="#002e00"/><rect x="1486.7" y="578" width="127.4" height="1.3" fill="#004900"/><rect x="1486.7" y="579" width="127.4" height="1.3" fill="#004200"/><rect x="1486.7" y="580" width="127.4" height="1.3" fill="#004400"/><rect x="1486.7" y="581" width="127.4" height="1.3" fill="#004000"/><rect x="1486.7" y="582" width="127.4" height="1.3" fill="#002900"/><rect x="1486.7" y="583" width="127.4" height="1.3" fill="#002f00"/><rect x="1486.7" y="584" width="127.4" height="1.3" fill="#003200"/><rect x="1486.7" y="585" width="127.4" height="1.3" fill="#003600"/><rect x="1486.7" y="586" width="127.4" height="1.3" fill="#004d00"/><rect x="1486.7" y="587" width="127.4" height="1.3" fill="#004000"/><rect x="1486.7" y="588" width="127.4" height="1.3" fill="#004100"/><rect x="1486.7" y="589" width="127.4" height="1.3" fill="#004600"/><rect x="1486.7" y="590" width="127.4" height="1.3" fill="#230500"/><rect x="1486.7" y="591" width="127.4" height="1.3" fill="#140300"/><rect x="1486.7" y="592" width="127.4" height="1.3" fill="#150300"/><rect x="1486.7" y="593" width="127.4" height="1.3" fill="#008a00"/><rect x="1486.7" y="594" width="127.4" height="1.3" fill="#009800"/><rect x="1486.7" y="595" width="127.4" height="1.3" fill="#007200"/><rect x="1486.7" y="596" width="127.4" height="1.3" fill="#006700"/><rect x="1486.7" y="597" width="127.4" height="1.3" fill="#007800"/><rect x="1486.7" y="598" width="127.4" height="1.3" fill="#008900"/><rect x="1486.7" y="599" width="127.4" height="1.3" fill="#00a200"/><rect x="1486.7" y="600" width="127.4" height="1.3" fill="#007800"/><rect x="1486.7" y="601" width="127.4" height="1.3" fill="#006900"/><rect x="1486.7" y="602" width="127.4" height="1.3" fill="#007600"/><rect x="1486.7" y="603" width="127.4" height="1.3" fill="#280600"/><rect x="1486.7" y="604" width="127.4" height="1.3" fill="#2e0700"/><rect x="1486.7" y="605" width="127.4" height="1.3" fill="#2a0600"/><rect x="1486.7" y="606" width="127.4" height="1.3" fill="#180400"/><rect x="1486.7" y="607" width="127.4" height="1.3" fill="#0f0200"/><rect x="1486.7" y="608" width="127.4" height="1.3" fill="#0c0200"/><rect x="1486.7" y="609" width="127.4" height="1.3" fill="#000d00"/><rect x="1486.7" y="610" width="127.4" height="1.3" fill="#000100"/><rect x="1486.7" y="611" width="127.4" height="1.3" fill="#0c0200"/><rect x="1486.7" y="612" width="127.4" height="1.3" fill="#1c0400"/><rect x="1486.7" y="613" width="127.4" height="1.3" fill="#240500"/><rect x="1486.7" y="614" width="127.4" height="1.3" fill="#100200"/><rect x="1486.7" y="615" width="127.4" height="1.3" fill="#050100"/><rect x="1486.7" y="616" width="127.4" height="1.3" fill="#2c0700"/><rect x="1486.7" y="617" width="127.4" height="1.3" fill="#005800"/><rect x="1486.7" y="618" width="127.4" height="1.3" fill="#004a00"/><rect x="1486.7" y="619" width="127.4" height="1.3" fill="#007000"/><rect x="1486.7" y="620" width="127.4" height="1.3" fill="#005600"/><rect x="1486.7" y="621" width="127.4" height="1.3" fill="#004800"/><rect x="1486.7" y="622" width="127.4" height="1.3" fill="#004900"/><rect x="1486.7" y="623" width="127.4" height="1.3" fill="#006800"/><rect x="1486.7" y="624" width="127.4" height="1.3" fill="#006100"/><rect x="1486.7" y="625" width="127.4" height="1.3" fill="#001000"/><rect x="1486.7" y="626" width="127.4" height="1.3" fill="#000300"/><rect x="1486.7" y="627" width="127.4" height="1.3" fill="#004f00"/><rect x="1486.7" y="628" width="127.4" height="1.3" fill="#005c00"/><rect x="1486.7" y="629" width="127.4" height="1.3" fill="#007000"/><rect x="1486.7" y="630" width="127.4" height="1.3" fill="#005400"/><rect x="1486.7" y="631" width="127.4" height="1.3" fill="#006400"/><rect x="1486.7" y="632" width="127.4" height="1.3" fill="#005500"/><rect x="1486.7" y="633" width="127.4" height="1.3" fill="#005a00"/><rect x="1486.7" y="634" width="127.4" height="1.3" fill="#004800"/><rect x="1486.7" y="635" width="127.4" height="1.3" fill="#004e00"/><rect x="1486.7" y="636" width="127.4" height="1.3" fill="#006400"/><rect x="1486.7" y="637" width="127.4" height="1.3" fill="#003500"/><rect x="1486.7" y="638" width="127.4" height="1.3" fill="#002300"/><rect x="1486.7" y="639" width="127.4" height="1.3" fill="#004000"/><rect x="1486.7" y="640" width="127.4" height="1.3" fill="#003400"/><rect x="1486.7" y="641" width="127.4" height="1.3" fill="#002b00"/><rect x="1486.7" y="642" width="127.4" height="1.3" fill="#002a00"/><rect x="1486.7" y="643" width="127.4" height="1.3" fill="#003300"/><rect x="1486.7" y="644" width="127.4" height="1.3" fill="#004a00"/><rect x="1486.7" y="645" width="127.4" height="1.3" fill="#004900"/><rect x="1486.7" y="646" width="127.4" height="1.3" fill="#003600"/><rect x="1486.7" y="647" width="127.4" height="1.3" fill="#003500"/><rect x="1486.7" y="648" width="127.4" height="1.3" fill="#001a00"/><rect x="1486.7" y="649" width="127.4" height="1.3" fill="#004400"/><rect x="1486.7" y="650" width="127.4" height="1.3" fill="#002b00"/><rect x="1486.7" y="651" width="127.4" height="1.3" fill="#003000"/><rect x="1486.7" y="652" width="127.4" height="1.3" fill="#004700"/><rect x="1486.7" y="653" width="127.4" height="1.3" fill="#003c00"/><rect x="1486.7" y="654" width="127.4" height="1.3" fill="#003000"/><rect x="1486.7" y="655" width="127.4" height="1.3" fill="#003800"/><rect x="1486.7" y="656" width="127.4" height="1.3" fill="#003400"/><rect x="1486.7" y="657" width="127.4" height="1.3" fill="#002d00"/><rect x="1486.7" y="658" width="127.4" height="1.3" fill="#003c00"/><rect x="1486.7" y="659" width="127.4" height="1.3" fill="#002d00"/><rect x="1486.7" y="660" width="127.4" height="1.3" fill="#003a00"/><rect x="1486.7" y="661" width="127.4" height="1.3" fill="#003900"/><rect x="1486.7" y="662" width="127.4" height="1.3" fill="#000f00"/><rect x="1486.7" y="663" width="127.4" height="1.3" fill="#001c00"/><rect x="1486.7" y="664" width="127.4" height="1.3" fill="#001200"/><rect x="1486.7" y="665" width="127.4" height="1.3" fill="#000300"/><rect x="1486.7" y="666" width="127.4" height="1.3" fill="#001500"/><rect x="1486.7" y="667" width="127.4" height="1.3" fill="#003b00"/><rect x="1486.7" y="668" width="127.4" height="1.3" fill="#003000"/><rect x="1486.7" y="669" width="127.4" height="1.3" fill="#003e00"/><rect x="1486.7" y="670" width="127.4" height="1.3" fill="#002c00"/><rect x="1486.7" y="671" width="127.4" height="1.3" fill="#004a00"/><rect x="1486.7" y="672" width="127.4" height="1.3" fill="#003200"/><rect x="1486.7" y="673" width="127.4" height="1.3" fill="#004000"/><rect x="1486.7" y="674" width="127.4" height="1.3" fill="#004400"/><rect x="1486.7" y="675" width="127.4" height="1.3" fill="#002300"/><rect x="1486.7" y="676" width="127.4" height="1.3" fill="#004400"/><rect x="1486.7" y="677" width="127.4" height="1.3" fill="#310700"/><rect x="1486.7" y="678" width="127.4" height="1.3" fill="#240500"/><rect x="1486.7" y="679" width="127.4" height="1.3" fill="#2e0700"/><rect x="1486.7" y="680" width="127.4" height="1.3" fill="#110300"/><rect x="1486.7" y="681" width="127.4" height="1.3" fill="#2b0600"/><rect x="1486.7" y="682" width="127.4" height="1.3" fill="#2e0700"/><rect x="1486.7" y="683" width="127.4" height="2.3" fill="#1b0400"/><rect x="1486.7" y="685" width="127.4" height="1.3" fill="#390900"/><rect x="1486.7" y="686" width="127.4" height="1.3" fill="#004600"/><rect x="1486.7" y="687" width="127.4" height="1.3" fill="#004d00"/><rect x="1486.7" y="688" width="127.4" height="1.3" fill="#005000"/><rect x="1486.7" y="689" width="127.4" height="1.3" fill="#004200"/><rect x="1486.7" y="690" width="127.4" height="1.3" fill="#004400"/><rect x="1486.7" y="691" width="127.4" height="1.3" fill="#004600"/><rect x="1486.7" y="692" width="127.4" height="1.3" fill="#003200"/><rect x="1486.7" y="693" width="127.4" height="1.3" fill="#002f00"/><rect x="1486.7" y="694" width="127.4" height="1.3" fill="#002500"/><rect x="1486.7" y="695" width="127.4" height="1.3" fill="#001a00"/><rect x="1486.7" y="696" width="127.4" height="1.3" fill="#003700"/><rect x="1486.7" y="697" width="127.4" height="1.3" fill="#001f00"/><rect x="1486.7" y="698" width="127.4" height="1.3" fill="#001500"/><rect x="1486.7" y="699" width="127.4" height="1.3" fill="#003c00"/><rect x="1486.7" y="700" width="127.4" height="2.3" fill="#003800"/><rect x="1486.7" y="702" width="127.4" height="1.3" fill="#004200"/><rect x="1486.7" y="703" width="127.4" height="1.3" fill="#006600"/><rect x="1486.7" y="704" width="127.4" height="1.3" fill="#008600"/><rect x="1486.7" y="705" width="127.4" height="1.3" fill="#006500"/><rect x="1486.7" y="706" width="127.4" height="1.3" fill="#005800"/><rect x="1486.7" y="707" width="127.4" height="1.3" fill="#008300"/><rect x="1486.7" y="708" width="127.4" height="1.3" fill="#007000"/><rect x="1486.7" y="709" width="127.4" height="1.3" fill="#008700"/><rect x="1486.7" y="710" width="127.4" height="1.3" fill="#003000"/><rect x="1486.7" y="711" width="127.4" height="1.3" fill="#004300"/><rect x="1486.7" y="712" width="127.4" height="1.3" fill="#003d00"/><rect x="1486.7" y="713" width="127.4" height="1.3" fill="#007a00"/><rect x="1486.7" y="714" width="127.4" height="1.3" fill="#007300"/><rect x="1486.7" y="715" width="127.4" height="1.3" fill="#007f00"/><rect x="1486.7" y="716" width="127.4" height="1.3" fill="#007a00"/><rect x="1486.7" y="717" width="127.4" height="1.3" fill="#008200"/><rect x="1486.7" y="718" width="127.4" height="1.3" fill="#007900"/><rect x="1486.7" y="719" width="127.4" height="1.3" fill="#001c00"/><rect x="1486.7" y="720" width="127.4" height="1.3" fill="#000e00"/><rect x="1486.7" y="721" width="127.4" height="1.3" fill="#002400"/><rect x="1486.7" y="722" width="127.4" height="1.3" fill="#006400"/><rect x="1486.7" y="723" width="127.4" height="1.3" fill="#004400"/><rect x="1486.7" y="724" width="127.4" height="1.3" fill="#005d00"/><rect x="1486.7" y="725" width="127.4" height="1.3" fill="#006f00"/><rect x="1486.7" y="726" width="127.4" height="1.3" fill="#005a00"/><rect x="1486.7" y="727" width="127.4" height="1.3" fill="#006b00"/><rect x="1486.7" y="728" width="127.4" height="1.3" fill="#003f00"/><rect x="1486.7" y="729" width="127.4" height="1.3" fill="#003400"/><rect x="1486.7" y="730" width="127.4" height="1.3" fill="#002200"/><rect x="1486.7" y="731" width="127.4" height="1.3" fill="#002700"/><rect x="1486.7" y="732" width="127.4" height="1.3" fill="#002c00"/><rect x="1486.7" y="733" width="127.4" height="1.3" fill="#003600"/><rect x="1486.7" y="734" width="127.4" height="1.3" fill="#003800"/><rect x="1486.7" y="735" width="127.4" height="1.3" fill="#001b00"/><rect x="1486.7" y="736" width="127.4" height="1.3" fill="#002800"/><rect x="1486.7" y="737" width="127.4" height="1.3" fill="#003700"/><rect x="1486.7" y="738" width="127.4" height="1.3" fill="#008200"/><rect x="1486.7" y="739" width="127.4" height="1.3" fill="#007800"/><rect x="1486.7" y="740" width="127.4" height="1.3" fill="#004300"/><rect x="1486.7" y="741" width="127.4" height="1.3" fill="#007500"/><rect x="1486.7" y="742" width="127.4" height="1.3" fill="#006600"/><rect x="1486.7" y="743" width="127.4" height="1.3" fill="#006200"/><rect x="1486.7" y="744" width="127.4" height="1.3" fill="#006700"/><rect x="1486.7" y="745" width="127.4" height="1.3" fill="#006900"/>
<rect x="1613.8" y="241" width="127.4" height="1.3" fill="#003400"/><rect x="1613.8" y="242" width="127.4" height="1.3" fill="#003000"/><rect x="1613.8" y="243" width="127.4" height="1.3" fill="#001000"/><rect x="1613.8" y="244" width="127.4" height="1.3" fill="#002d00"/><rect x="1613.8" y="245" width="127.4" height="1.3" fill="#001a00"/><rect x="1613.8" y="246" width="127.4" height="1.3" fill="#003800"/><rect x="1613.8" y="247" width="127.4" height="1.3" fill="#002700"/><rect x="1613.8" y="248" width="127.4" height="1.3" fill="#000800"/><rect x="1613.8" y="249" width="127.4" height="1.3" fill="#010000"/><rect x="1613.8" y="250" width="127.4" height="1.3" fill="#001700"/><rect x="1613.8" y="251" width="127.4" height="1.3" fill="#000400"/><rect x="1613.8" y="252" width="127.4" height="1.3" fill="#000700"/><rect x="1613.8" y="253" width="127.4" height="1.3" fill="#001300"/><rect x="1613.8" y="254" width="127.4" height="1.3" fill="#001e00"/><rect x="1613.8" y="255" width="127.4" height="1.3" fill="#002f00"/><rect x="1613.8" y="256" width="127.4" height="1.3" fill="#002d00"/><rect x="1613.8" y="257" width="127.4" height="1.3" fill="#1d0400"/><rect x="1613.8" y="258" width="127.4" height="1.3" fill="#000300"/><rect x="1613.8" y="259" width="127.4" height="1.3" fill="#005100"/><rect x="1613.8" y="260" width="127.4" height="1.3" fill="#005c00"/><rect x="1613.8" y="261" width="127.4" height="1.3" fill="#006200"/><rect x="1613.8" y="262" width="127.4" height="1.3" fill="#005500"/><rect x="1613.8" y="263" width="127.4" height="1.3" fill="#004500"/><rect x="1613.8" y="264" width="127.4" height="1.3" fill="#005500"/><rect x="1613.8" y="265" width="127.4" height="1.3" fill="#003f00"/><rect x="1613.8" y="266" width="127.4" height="1.3" fill="#005e00"/><rect x="1613.8" y="267" width="127.4" height="1.3" fill="#006000"/><rect x="1613.8" y="268" width="127.4" height="1.3" fill="#003b00"/><rect x="1613.8" y="269" width="127.4" height="1.3" fill="#004a00"/><rect x="1613.8" y="270" width="127.4" height="1.3" fill="#004300"/><rect x="1613.8" y="271" width="127.4" height="1.3" fill="#005a00"/><rect x="1613.8" y="272" width="127.4" height="1.3" fill="#004500"/><rect x="1613.8" y="273" width="127.4" height="1.3" fill="#004c00"/><rect x="1613.8" y="274" width="127.4" height="1.3" fill="#004700"/><rect x="1613.8" y="275" width="127.4" height="1.3" fill="#004f00"/><rect x="1613.8" y="276" width="127.4" height="1.3" fill="#003f00"/><rect x="1613.8" y="277" width="127.4" height="1.3" fill="#002c00"/><rect x="1613.8" y="278" width="127.4" height="1.3" fill="#002f00"/><rect x="1613.8" y="279" width="127.4" height="1.3" fill="#003600"/><rect x="1613.8" y="280" width="127.4" height="1.3" fill="#001600"/><rect x="1613.8" y="281" width="127.4" height="1.3" fill="#002d00"/><rect x="1613.8" y="282" width="127.4" height="1.3" fill="#001e00"/><rect x="1613.8" y="283" width="127.4" height="1.3" fill="#001d00"/><rect x="1613.8" y="284" width="127.4" height="1.3" fill="#001700"/><rect x="1613.8" y="285" width="127.4" height="1.3" fill="#002000"/><rect x="1613.8" y="286" width="127.4" height="1.3" fill="#001500"/><rect x="1613.8" y="287" width="127.4" height="1.3" fill="#001900"/><rect x="1613.8" y="288" width="127.4" height="1.3" fill="#001800"/><rect x="1613.8" y="289" width="127.4" height="1.3" fill="#005400"/><rect x="1613.8" y="290" width="127.4" height="1.3" fill="#004800"/><rect x="1613.8" y="291" width="127.4" height="1.3" fill="#004e00"/><rect x="1613.8" y="292" width="127.4" height="1.3" fill="#004700"/><rect x="1613.8" y="293" width="127.4" height="1.3" fill="#004500"/><rect x="1613.8" y="294" width="127.4" height="1.3" fill="#004400"/><rect x="1613.8" y="295" width="127.4" height="1.3" fill="#006400"/><rect x="1613.8" y="296" width="127.4" height="1.3" fill="#961600"/><rect x="1613.8" y="297" width="127.4" height="1.3" fill="#921600"/><rect x="1613.8" y="298" width="127.4" height="1.3" fill="#aa1a00"/><rect x="1613.8" y="299" width="127.4" height="1.3" fill="#861400"/><rect x="1613.8" y="300" width="127.4" height="1.3" fill="#be1c00"/><rect x="1613.8" y="301" width="127.4" height="1.3" fill="#c51e00"/><rect x="1613.8" y="302" width="127.4" height="1.3" fill="#c41d00"/><rect x="1613.8" y="303" width="127.4" height="1.3" fill="#d82000"/><rect x="1613.8" y="304" width="127.4" height="1.3" fill="#1f0500"/><rect x="1613.8" y="305" width="127.4" height="1.3" fill="#2f0700"/><rect x="1613.8" y="306" width="127.4" height="1.3" fill="#130300"/><rect x="1613.8" y="307" width="127.4" height="1.3" fill="#0e0200"/><rect x="1613.8" y="308" width="127.4" height="1.3" fill="#851400"/><rect x="1613.8" y="309" width="127.4" height="1.3" fill="#791200"/><rect x="1613.8" y="310" width="127.4" height="1.3" fill="#7a1200"/><rect x="1613.8" y="311" width="127.4" height="1.3" fill="#001b00"/><rect x="1613.8" y="312" width="127.4" height="1.3" fill="#001700"/><rect x="1613.8" y="313" width="127.4" height="1.3" fill="#002b00"/><rect x="1613.8" y="314" width="127.4" height="1.3" fill="#003500"/><rect x="1613.8" y="315" width="127.4" height="1.3" fill="#004800"/><rect x="1613.8" y="316" width="127.4" height="1.3" fill="#003400"/><rect x="1613.8" y="317" width="127.4" height="1.3" fill="#3b0900"/><rect x="1613.8" y="318" width="127.4" height="1.3" fill="#210500"/><rect x="1613.8" y="319" width="127.4" height="1.3" fill="#290600"/><rect x="1613.8" y="320" width="127.4" height="1.3" fill="#230500"/><rect x="1613.8" y="321" width="127.4" height="1.3" fill="#140300"/><rect x="1613.8" y="322" width="127.4" height="1.3" fill="#110300"/><rect x="1613.8" y="323" width="127.4" height="1.3" fill="#180400"/><rect x="1613.8" y="324" width="127.4" height="1.3" fill="#110300"/><rect x="1613.8" y="325" width="127.4" height="1.3" fill="#001c00"/><rect x="1613.8" y="326" width="127.4" height="1.3" fill="#001400"/><rect x="1613.8" y="327" width="127.4" height="1.3" fill="#2d0700"/><rect x="1613.8" y="328" width="127.4" height="1.3" fill="#3e0900"/><rect x="1613.8" y="329" width="127.4" height="1.3" fill="#130300"/><rect x="1613.8" y="330" width="127.4" height="1.3" fill="#270600"/><rect x="1613.8" y="331" width="127.4" height="1.3" fill="#260600"/><rect x="1613.8" y="332" width="127.4" height="1.3" fill="#250600"/><rect x="1613.8" y="333" width="127.4" height="1.3" fill="#1e0400"/><rect x="1613.8" y="334" width="127.4" height="1.3" fill="#130300"/><rect x="1613.8" y="335" width="127.4" height="1.3" fill="#140300"/><rect x="1613.8" y="336" width="127.4" height="1.3" fill="#100200"/><rect x="1613.8" y="337" width="127.4" height="1.3" fill="#0a0200"/><rect x="1613.8" y="338" width="127.4" height="1.3" fill="#110300"/><rect x="1613.8" y="339" width="127.4" height="1.3" fill="#004900"/><rect x="1613.8" y="340" width="127.4" height="1.3" fill="#002c00"/><rect x="1613.8" y="341" width="127.4" height="1.3" fill="#003a00"/><rect x="1613.8" y="342" width="127.4" height="1.3" fill="#004600"/><rect x="1613.8" y="343" width="127.4" height="1.3" fill="#005900"/><rect x="1613.8" y="344" width="127.4" height="1.3" fill="#001600"/><rect x="1613.8" y="345" width="127.4" height="1.3" fill="#001a00"/><rect x="1613.8" y="346" width="127.4" height="1.3" fill="#002200"/><rect x="1613.8" y="347" width="127.4" height="1.3" fill="#004f00"/><rect x="1613.8" y="348" width="127.4" height="1.3" fill="#005d00"/><rect x="1613.8" y="349" width="127.4" height="1.3" fill="#003a00"/><rect x="1613.8" y="350" width="127.4" height="1.3" fill="#004200"/><rect x="1613.8" y="351" width="127.4" height="1.3" fill="#002000"/><rect x="1613.8" y="352" width="127.4" height="1.3" fill="#004100"/><rect x="1613.8" y="353" width="127.4" height="1.3" fill="#004300"/><rect x="1613.8" y="354" width="127.4" height="1.3" fill="#002e00"/><rect x="1613.8" y="355" width="127.4" height="1.3" fill="#170300"/><rect x="1613.8" y="356" width="127.4" height="1.3" fill="#180400"/><rect x="1613.8" y="357" width="127.4" height="1.3" fill="#005b00"/><rect x="1613.8" y="358" width="127.4" height="1.3" fill="#005f00"/><rect x="1613.8" y="359" width="127.4" height="1.3" fill="#004200"/><rect x="1613.8" y="360" width="127.4" height="1.3" fill="#004900"/><rect x="1613.8" y="361" width="127.4" height="1.3" fill="#003f00"/><rect x="1613.8" y="362" width="127.4" height="1.3" fill="#005b00"/><rect x="1613.8" y="363" width="127.4" height="1.3" fill="#0f0200"/><rect x="1613.8" y="364" width="127.4" height="1.3" fill="#050100"/><rect x="1613.8" y="365" width="127.4" height="1.3" fill="#190400"/><rect x="1613.8" y="366" width="127.4" height="1.3" fill="#000100"/><rect x="1613.8" y="367" width="127.4" height="1.3" fill="#150300"/><rect x="1613.8" y="368" width="127.4" height="1.3" fill="#003300"/><rect x="1613.8" y="369" width="127.4" height="1.3" fill="#002f00"/><rect x="1613.8" y="370" width="127.4" height="1.3" fill="#004d00"/><rect x="1613.8" y="371" width="127.4" height="1.3" fill="#003300"/><rect x="1613.8" y="372" width="127.4" height="1.3" fill="#004a00"/><rect x="1613.8" y="373" width="127.4" height="1.3" fill="#0d0200"/><rect x="1613.8" y="374" width="127.4" height="1.3" fill="#060100"/><rect x="1613.8" y="375" width="127.4" height="1.3" fill="#230500"/><rect x="1613.8" y="376" width="127.4" height="1.3" fill="#280600"/><rect x="1613.8" y="377" width="127.4" height="1.3" fill="#003a00"/><rect x="1613.8" y="378" width="127.4" height="1.3" fill="#003c00"/><rect x="1613.8" y="379" width="127.4" height="1.3" fill="#003700"/><rect x="1613.8" y="380" width="127.4" height="1.3" fill="#001400"/><rect x="1613.8" y="381" width="127.4" height="1.3" fill="#002600"/><rect x="1613.8" y="382" width="127.4" height="1.3" fill="#3a0900"/><rect x="1613.8" y="383" width="127.4" height="1.3" fill="#2a0600"/><rect x="1613.8" y="384" width="127.4" height="1.3" fill="#380800"/><rect x="1613.8" y="385" width="127.4" height="1.3" fill="#500c00"/><rect x="1613.8" y="386" width="127.4" height="1.3" fill="#590d00"/><rect x="1613.8" y="387" width="127.4" height="1.3" fill="#3d0900"/><rect x="1613.8" y="388" width="127.4" height="1.3" fill="#380800"/><rect x="1613.8" y="389" width="127.4" height="1.3" fill="#3a0900"/><rect x="1613.8" y="390" width="127.4" height="1.3" fill="#520c00"/><rect x="1613.8" y="391" width="127.4" height="1.3" fill="#791200"/><rect x="1613.8" y="392" width="127.4" height="1.3" fill="#5d0e00"/><rect x="1613.8" y="393" width="127.4" height="1.3" fill="#7b1200"/><rect x="1613.8" y="394" width="127.4" height="1.3" fill="#540d00"/><rect x="1613.8" y="395" width="127.4" height="1.3" fill="#5a0e00"/><rect x="1613.8" y="396" width="127.4" height="1.3" fill="#3d0900"/><rect x="1613.8" y="397" width="127.4" height="1.3" fill="#300700"/><rect x="1613.8" y="398" width="127.4" height="1.3" fill="#430a00"/><rect x="1613.8" y="399" width="127.4" height="1.3" fill="#3a0900"/><rect x="1613.8" y="400" width="127.4" height="1.3" fill="#2b0600"/><rect x="1613.8" y="401" width="127.4" height="1.3" fill="#410a00"/><rect x="1613.8" y="402" width="127.4" height="1.3" fill="#440a00"/><rect x="1613.8" y="403" width="127.4" height="1.3" fill="#001c00"/><rect x="1613.8" y="404" width="127.4" height="1.3" fill="#0d0200"/><rect x="1613.8" y="405" width="127.4" height="1.3" fill="#000200"/><rect x="1613.8" y="406" width="127.4" height="1.3" fill="#010000"/><rect x="1613.8" y="407" width="127.4" height="1.3" fill="#001c00"/><rect x="1613.8" y="408" width="127.4" height="1.3" fill="#1b0400"/><rect x="1613.8" y="409" width="127.4" height="1.3" fill="#200500"/><rect x="1613.8" y="410" width="127.4" height="1.3" fill="#310700"/><rect x="1613.8" y="411" width="127.4" height="1.3" fill="#130300"/><rect x="1613.8" y="412" width="127.4" height="1.3" fill="#1a0400"/><rect x="1613.8" y="413" width="127.4" height="1.3" fill="#0c0200"/><rect x="1613.8" y="414" width="127.4" height="1.3" fill="#004b00"/><rect x="1613.8" y="415" width="127.4" height="1.3" fill="#004400"/><rect x="1613.8" y="416" width="127.4" height="1.3" fill="#005e00"/><rect x="1613.8" y="417" width="127.4" height="1.3" fill="#005000"/><rect x="1613.8" y="418" width="127.4" height="1.3" fill="#004100"/><rect x="1613.8" y="419" width="127.4" height="1.3" fill="#150300"/><rect x="1613.8" y="420" width="127.4" height="1.3" fill="#0b0200"/><rect x="1613.8" y="421" width="127.4" height="1.3" fill="#000000"/><rect x="1613.8" y="422" width="127.4" height="1.3" fill="#000900"/><rect x="1613.8" y="423" width="127.4" height="1.3" fill="#000700"/><rect x="1613.8" y="424" width="127.4" height="1.3" fill="#002c00"/><rect x="1613.8" y="425" width="127.4" height="1.3" fill="#002200"/><rect x="1613.8" y="426" width="127.4" height="1.3" fill="#002500"/><rect x="1613.8" y="427" width="127.4" height="1.3" fill="#001000"/><rect x="1613.8" y="428" width="127.4" height="1.3" fill="#002f00"/><rect x="1613.8" y="429" width="127.4" height="1.3" fill="#004000"/><rect x="1613.8" y="430" width="127.4" height="1.3" fill="#001f00"/><rect x="1613.8" y="431" width="127.4" height="1.3" fill="#002700"/><rect x="1613.8" y="432" width="127.4" height="1.3" fill="#003100"/><rect x="1613.8" y="433" width="127.4" height="1.3" fill="#003b00"/><rect x="1613.8" y="434" width="127.4" height="1.3" fill="#004900"/><rect x="1613.8" y="435" width="127.4" height="1.3" fill="#003f00"/><rect x="1613.8" y="436" width="127.4" height="1.3" fill="#002700"/><rect x="1613.8" y="437" width="127.4" height="1.3" fill="#005200"/><rect x="1613.8" y="438" width="127.4" height="1.3" fill="#005900"/><rect x="1613.8" y="439" width="127.4" height="2.3" fill="#004500"/><rect x="1613.8" y="441" width="127.4" height="1.3" fill="#001d00"/><rect x="1613.8" y="442" width="127.4" height="1.3" fill="#001c00"/><rect x="1613.8" y="443" width="127.4" height="1.3" fill="#001300"/><rect x="1613.8" y="444" width="127.4" height="1.3" fill="#002e00"/><rect x="1613.8" y="445" width="127.4" height="1.3" fill="#005000"/><rect x="1613.8" y="446" width="127.4" height="1.3" fill="#006b00"/><rect x="1613.8" y="447" width="127.4" height="1.3" fill="#005400"/><rect x="1613.8" y="448" width="127.4" height="1.3" fill="#005b00"/><rect x="1613.8" y="449" width="127.4" height="1.3" fill="#270600"/><rect x="1613.8" y="450" width="127.4" height="1.3" fill="#2f0700"/><rect x="1613.8" y="451" width="127.4" height="1.3" fill="#240500"/><rect x="1613.8" y="452" width="127.4" height="1.3" fill="#310700"/><rect x="1613.8" y="453" width="127.4" height="1.3" fill="#3d0900"/><rect x="1613.8" y="454" width="127.4" height="1.3" fill="#340800"/><rect x="1613.8" y="455" width="127.4" height="1.3" fill="#2b0600"/><rect x="1613.8" y="456" width="127.4" height="1.3" fill="#290600"/><rect x="1613.8" y="457" width="127.4" height="1.3" fill="#2c0700"/><rect x="1613.8" y="458" width="127.4" height="1.3" fill="#300700"/><rect x="1613.8" y="459" width="127.4" height="1.3" fill="#320800"/><rect x="1613.8" y="460" width="127.4" height="1.3" fill="#570d00"/><rect x="1613.8" y="461" width="127.4" height="1.3" fill="#3a0900"/><rect x="1613.8" y="462" width="127.4" height="1.3" fill="#3c0900"/><rect x="1613.8" y="463" width="127.4" height="1.3" fill="#280600"/><rect x="1613.8" y="464" width="127.4" height="1.3" fill="#2a0600"/><rect x="1613.8" y="465" width="127.4" height="1.3" fill="#2e0700"/><rect x="1613.8" y="466" width="127.4" height="1.3" fill="#350800"/><rect x="1613.8" y="467" width="127.4" height="1.3" fill="#490b00"/><rect x="1613.8" y="468" width="127.4" height="1.3" fill="#6c1000"/><rect x="1613.8" y="469" width="127.4" height="1.3" fill="#4f0c00"/><rect x="1613.8" y="470" width="127.4" height="1.3" fill="#650f00"/><rect x="1613.8" y="471" width="127.4" height="1.3" fill="#370800"/><rect x="1613.8" y="472" width="127.4" height="1.3" fill="#2b0600"/><rect x="1613.8" y="473" width="127.4" height="1.3" fill="#2f0700"/><rect x="1613.8" y="474" width="127.4" height="1.3" fill="#2e0700"/><rect x="1613.8" y="475" width="127.4" height="1.3" fill="#320800"/><rect x="1613.8" y="476" width="127.4" height="1.3" fill="#2f0700"/><rect x="1613.8" y="477" width="127.4" height="1.3" fill="#2d0700"/><rect x="1613.8" y="478" width="127.4" height="1.3" fill="#140300"/><rect x="1613.8" y="479" width="127.4" height="1.3" fill="#230500"/><rect x="1613.8" y="480" width="127.4" height="1.3" fill="#0f0200"/><rect x="1613.8" y="481" width="127.4" height="1.3" fill="#410a00"/><rect x="1613.8" y="482" width="127.4" height="1.3" fill="#3d0900"/><rect x="1613.8" y="483" width="127.4" height="1.3" fill="#370800"/><rect x="1613.8" y="484" width="127.4" height="1.3" fill="#2f0700"/><rect x="1613.8" y="485" width="127.4" height="1.3" fill="#160300"/><rect x="1613.8" y="486" width="127.4" height="1.3" fill="#320800"/><rect x="1613.8" y="487" width="127.4" height="1.3" fill="#310700"/><rect x="1613.8" y="488" width="127.4" height="1.3" fill="#1c0400"/><rect x="1613.8" y="489" width="127.4" height="1.3" fill="#2c0700"/><rect x="1613.8" y="490" width="127.4" height="1.3" fill="#0a0200"/><rect x="1613.8" y="491" width="127.4" height="1.3" fill="#006100"/><rect x="1613.8" y="492" width="127.4" height="1.3" fill="#004e00"/><rect x="1613.8" y="493" width="127.4" height="1.3" fill="#005300"/><rect x="1613.8" y="494" width="127.4" height="1.3" fill="#007400"/><rect x="1613.8" y="495" width="127.4" height="1.3" fill="#006900"/><rect x="1613.8" y="496" width="127.4" height="1.3" fill="#004200"/><rect x="1613.8" y="497" width="127.4" height="1.3" fill="#007500"/><rect x="1613.8" y="498" width="127.4" height="1.3" fill="#006b00"/><rect x="1613.8" y="499" width="127.4" height="1.3" fill="#006800"/><rect x="1613.8" y="500" width="127.4" height="1.3" fill="#560d00"/><rect x="1613.8" y="501" width="127.4" height="1.3" fill="#630f00"/><rect x="1613.8" y="502" width="127.4" height="1.3" fill="#6e1000"/><rect x="1613.8" y="503" width="127.4" height="1.3" fill="#460a00"/><rect x="1613.8" y="504" width="127.4" height="1.3" fill="#590d00"/><rect x="1613.8" y="505" width="127.4" height="1.3" fill="#450a00"/><rect x="1613.8" y="506" width="127.4" height="1.3" fill="#4d0c00"/><rect x="1613.8" y="507" width="127.4" height="1.3" fill="#340800"/><rect x="1613.8" y="508" width="127.4" height="1.3" fill="#310700"/><rect x="1613.8" y="509" width="127.4" height="1.3" fill="#2a0600"/><rect x="1613.8" y="510" width="127.4" height="1.3" fill="#4f0c00"/><rect x="1613.8" y="511" width="127.4" height="1.3" fill="#020000"/><rect x="1613.8" y="512" width="127.4" height="1.3" fill="#010000"/><rect x="1613.8" y="513" width="127.4" height="1.3" fill="#004800"/><rect x="1613.8" y="514" width="127.4" height="1.3" fill="#003000"/><rect x="1613.8" y="515" width="127.4" height="1.3" fill="#003400"/><rect x="1613.8" y="516" width="127.4" height="1.3" fill="#003c00"/><rect x="1613.8" y="517" width="127.4" height="1.3" fill="#003600"/><rect x="1613.8" y="518" width="127.4" height="1.3" fill="#002300"/><rect x="1613.8" y="519" width="127.4" height="1.3" fill="#060100"/><rect x="1613.8" y="520" width="127.4" height="1.3" fill="#000000"/><rect x="1613.8" y="521" width="127.4" height="1.3" fill="#cb1e00"/><rect x="1613.8" y="522" width="127.4" height="1.3" fill="#b81c00"/><rect x="1613.8" y="523" width="127.4" height="1.3" fill="#c41d00"/><rect x="1613.8" y="524" width="127.4" height="1.3" fill="#c31d00"/><rect x="1613.8" y="525" width="127.4" height="1.3" fill="#cc1f00"/><rect x="1613.8" y="526" width="127.4" height="1.3" fill="#c11d00"/><rect x="1613.8" y="527" width="127.4" height="2.3" fill="#c01d00"/><rect x="1613.8" y="529" width="127.4" height="1.3" fill="#b81c00"/><rect x="1613.8" y="530" width="127.4" height="1.3" fill="#d82000"/><rect x="1613.8" y="531" width="127.4" height="1.3" fill="#390900"/><rect x="1613.8" y="532" width="127.4" height="1.3" fill="#380800"/><rect x="1613.8" y="533" width="127.4" height="1.3" fill="#4f0c00"/><rect x="1613.8" y="534" width="127.4" height="1.3" fill="#440a00"/><rect x="1613.8" y="535" width="127.4" height="1.3" fill="#781200"/><rect x="1613.8" y="536" width="127.4" height="1.3" fill="#9b1700"/><rect x="1613.8" y="537" width="127.4" height="1.3" fill="#9d1800"/><rect x="1613.8" y="538" width="127.4" height="1.3" fill="#ac1a00"/><rect x="1613.8" y="539" width="127.4" height="1.3" fill="#520c00"/><rect x="1613.8" y="540" width="127.4" height="1.3" fill="#4b0b00"/><rect x="1613.8" y="541" width="127.4" height="1.3" fill="#931600"/><rect x="1613.8" y="542" width="127.4" height="1.3" fill="#981700"/><rect x="1613.8" y="543" width="127.4" height="1.3" fill="#aa1a00"/><rect x="1613.8" y="544" width="127.4" height="1.3" fill="#ae1a00"/><rect x="1613.8" y="545" width="127.4" height="1.3" fill="#951600"/><rect x="1613.8" y="546" width="127.4" height="1.3" fill="#a01800"/><rect x="1613.8" y="547" width="127.4" height="1.3" fill="#9f1800"/><rect x="1613.8" y="548" width="127.4" height="1.3" fill="#a71900"/><rect x="1613.8" y="549" width="127.4" height="1.3" fill="#450a00"/><rect x="1613.8" y="550" width="127.4" height="1.3" fill="#3d0900"/><rect x="1613.8" y="551" width="127.4" height="1.3" fill="#310700"/><rect x="1613.8" y="552" width="127.4" height="1.3" fill="#510c00"/><rect x="1613.8" y="553" width="127.4" height="1.3" fill="#550d00"/><rect x="1613.8" y="554" width="127.4" height="1.3" fill="#3f0900"/><rect x="1613.8" y="555" width="127.4" height="1.3" fill="#731100"/><rect x="1613.8" y="556" width="127.4" height="1.3" fill="#6b1000"/><rect x="1613.8" y="557" width="127.4" height="1.3" fill="#6e1000"/><rect x="1613.8" y="558" width="127.4" height="1.3" fill="#470b00"/><rect x="1613.8" y="559" width="127.4" height="1.3" fill="#370800"/><rect x="1613.8" y="560" width="127.4" height="1.3" fill="#480b00"/><rect x="1613.8" y="561" width="127.4" height="1.3" fill="#4e0c00"/><rect x="1613.8" y="562" width="127.4" height="1.3" fill="#350800"/><rect x="1613.8" y="563" width="127.4" height="1.3" fill="#5a0e00"/><rect x="1613.8" y="564" width="127.4" height="1.3" fill="#5b0e00"/><rect x="1613.8" y="565" width="127.4" height="1.3" fill="#580d00"/><rect x="1613.8" y="566" width="127.4" height="1.3" fill="#5a0e00"/><rect x="1613.8" y="567" width="127.4" height="1.3" fill="#2d0700"/><rect x="1613.8" y="568" width="127.4" height="1.3" fill="#200500"/><rect x="1613.8" y="569" width="127.4" height="1.3" fill="#1d0400"/><rect x="1613.8" y="570" width="127.4" height="1.3" fill="#1a0400"/><rect x="1613.8" y="571" width="127.4" height="1.3" fill="#250600"/><rect x="1613.8" y="572" width="127.4" height="1.3" fill="#240500"/><rect x="1613.8" y="573" width="127.4" height="1.3" fill="#2c0700"/><rect x="1613.8" y="574" width="127.4" height="1.3" fill="#003c00"/><rect x="1613.8" y="575" width="127.4" height="2.3" fill="#000900"/><rect x="1613.8" y="577" width="127.4" height="1.3" fill="#002400"/><rect x="1613.8" y="578" width="127.4" height="1.3" fill="#001c00"/><rect x="1613.8" y="579" width="127.4" height="1.3" fill="#001e00"/><rect x="1613.8" y="580" width="127.4" height="1.3" fill="#002100"/><rect x="1613.8" y="581" width="127.4" height="1.3" fill="#010000"/><rect x="1613.8" y="582" width="127.4" height="1.3" fill="#020000"/><rect x="1613.8" y="583" width="127.4" height="1.3" fill="#000500"/><rect x="1613.8" y="584" width="127.4" height="1.3" fill="#060100"/><rect x="1613.8" y="585" width="127.4" height="1.3" fill="#030000"/><rect x="1613.8" y="586" width="127.4" height="1.3" fill="#070100"/><rect x="1613.8" y="587" width="127.4" height="1.3" fill="#000600"/><rect x="1613.8" y="588" width="127.4" height="2.3" fill="#040100"/><rect x="1613.8" y="590" width="127.4" height="1.3" fill="#5e0e00"/><rect x="1613.8" y="591" width="127.4" height="1.3" fill="#480b00"/><rect x="1613.8" y="592" width="127.4" height="1.3" fill="#5c0e00"/><rect x="1613.8" y="593" width="127.4" height="1.3" fill="#640f00"/><rect x="1613.8" y="594" width="127.4" height="1.3" fill="#5e0e00"/><rect x="1613.8" y="595" width="127.4" height="1.3" fill="#510c00"/><rect x="1613.8" y="596" width="127.4" height="1.3" fill="#500c00"/><rect x="1613.8" y="597" width="127.4" height="1.3" fill="#530c00"/><rect x="1613.8" y="598" width="127.4" height="1.3" fill="#600e00"/><rect x="1613.8" y="599" width="127.4" height="1.3" fill="#6b1000"/><rect x="1613.8" y="600" width="127.4" height="1.3" fill="#290600"/><rect x="1613.8" y="601" width="127.4" height="1.3" fill="#230500"/><rect x="1613.8" y="602" width="127.4" height="1.3" fill="#300700"/><rect x="1613.8" y="603" width="127.4" height="1.3" fill="#2e0700"/><rect x="1613.8" y="604" width="127.4" height="1.3" fill="#200500"/><rect x="1613.8" y="605" width="127.4" height="1.3" fill="#003b00"/><rect x="1613.8" y="606" width="127.4" height="1.3" fill="#003400"/><rect x="1613.8" y="607" width="127.4" height="1.3" fill="#002a00"/><rect x="1613.8" y="608" width="127.4" height="1.3" fill="#0f0200"/><rect x="1613.8" y="609" width="127.4" height="1.3" fill="#110300"/><rect x="1613.8" y="610" width="127.4" height="1.3" fill="#230500"/><rect x="1613.8" y="611" width="127.4" height="1.3" fill="#0f0200"/><rect x="1613.8" y="612" width="127.4" height="1.3" fill="#001c00"/><rect x="1613.8" y="613" width="127.4" height="1.3" fill="#001900"/><rect x="1613.8" y="614" width="127.4" height="1.3" fill="#001e00"/><rect x="1613.8" y="615" width="127.4" height="1.3" fill="#002900"/><rect x="1613.8" y="616" width="127.4" height="1.3" fill="#002c00"/><rect x="1613.8" y="617" width="127.4" height="1.3" fill="#002f00"/><rect x="1613.8" y="618" width="127.4" height="1.3" fill="#002700"/><rect x="1613.8" y="619" width="127.4" height="1.3" fill="#003500"/><rect x="1613.8" y="620" width="127.4" height="1.3" fill="#001700"/><rect x="1613.8" y="621" width="127.4" height="1.3" fill="#003800"/><rect x="1613.8" y="622" width="127.4" height="1.3" fill="#002600"/><rect x="1613.8" y="623" width="127.4" height="1.3" fill="#002400"/><rect x="1613.8" y="624" width="127.4" height="1.3" fill="#001900"/><rect x="1613.8" y="625" width="127.4" height="1.3" fill="#002b00"/><rect x="1613.8" y="626" width="127.4" height="1.3" fill="#320800"/><rect x="1613.8" y="627" width="127.4" height="1.3" fill="#240500"/><rect x="1613.8" y="628" width="127.4" height="1.3" fill="#002200"/><rect x="1613.8" y="629" width="127.4" height="1.3" fill="#001600"/><rect x="1613.8" y="630" width="127.4" height="1.3" fill="#003000"/><rect x="1613.8" y="631" width="127.4" height="1.3" fill="#002600"/><rect x="1613.8" y="632" width="127.4" height="1.3" fill="#003600"/><rect x="1613.8" y="633" width="127.4" height="1.3" fill="#001f00"/><rect x="1613.8" y="634" width="127.4" height="1.3" fill="#001d00"/><rect x="1613.8" y="635" width="127.4" height="1.3" fill="#002b00"/><rect x="1613.8" y="636" width="127.4" height="1.3" fill="#003900"/><rect x="1613.8" y="637" width="127.4" height="1.3" fill="#002600"/><rect x="1613.8" y="638" width="127.4" height="1.3" fill="#001d00"/><rect x="1613.8" y="639" width="127.4" height="1.3" fill="#003300"/><rect x="1613.8" y="640" width="127.4" height="1.3" fill="#003600"/><rect x="1613.8" y="641" width="127.4" height="1.3" fill="#005800"/><rect x="1613.8" y="642" width="127.4" height="1.3" fill="#004900"/><rect x="1613.8" y="643" width="127.4" height="1.3" fill="#002f00"/><rect x="1613.8" y="644" width="127.4" height="1.3" fill="#005000"/><rect x="1613.8" y="645" width="127.4" height="1.3" fill="#003200"/><rect x="1613.8" y="646" width="127.4" height="1.3" fill="#002900"/><rect x="1613.8" y="647" width="127.4" height="1.3" fill="#003700"/><rect x="1613.8" y="648" width="127.4" height="1.3" fill="#003300"/><rect x="1613.8" y="649" width="127.4" height="1.3" fill="#004500"/><rect x="1613.8" y="650" width="127.4" height="1.3" fill="#003300"/><rect x="1613.8" y="651" width="127.4" height="1.3" fill="#002500"/><rect x="1613.8" y="652" width="127.4" height="1.3" fill="#002600"/><rect x="1613.8" y="653" width="127.4" height="1.3" fill="#002500"/><rect x="1613.8" y="654" width="127.4" height="1.3" fill="#001c00"/><rect x="1613.8" y="655" width="127.4" height="1.3" fill="#002600"/><rect x="1613.8" y="656" width="127.4" height="1.3" fill="#002900"/><rect x="1613.8" y="657" width="127.4" height="1.3" fill="#002600"/><rect x="1613.8" y="658" width="127.4" height="1.3" fill="#002b00"/><rect x="1613.8" y="659" width="127.4" height="1.3" fill="#001500"/><rect x="1613.8" y="660" width="127.4" height="1.3" fill="#002600"/><rect x="1613.8" y="661" width="127.4" height="1.3" fill="#002a00"/><rect x="1613.8" y="662" width="127.4" height="1.3" fill="#002e00"/><rect x="1613.8" y="663" width="127.4" height="1.3" fill="#003300"/><rect x="1613.8" y="664" width="127.4" height="1.3" fill="#001b00"/><rect x="1613.8" y="665" width="127.4" height="1.3" fill="#002900"/><rect x="1613.8" y="666" width="127.4" height="1.3" fill="#003800"/><rect x="1613.8" y="667" width="127.4" height="1.3" fill="#004800"/><rect x="1613.8" y="668" width="127.4" height="1.3" fill="#004300"/><rect x="1613.8" y="669" width="127.4" height="1.3" fill="#004600"/><rect x="1613.8" y="670" width="127.4" height="1.3" fill="#003300"/><rect x="1613.8" y="671" width="127.4" height="1.3" fill="#005000"/><rect x="1613.8" y="672" width="127.4" height="1.3" fill="#003b00"/><rect x="1613.8" y="673" width="127.4" height="1.3" fill="#003f00"/><rect x="1613.8" y="674" width="127.4" height="1.3" fill="#005000"/><rect x="1613.8" y="675" width="127.4" height="1.3" fill="#004000"/><rect x="1613.8" y="676" width="127.4" height="1.3" fill="#004200"/><rect x="1613.8" y="677" width="127.4" height="1.3" fill="#003a00"/><rect x="1613.8" y="678" width="127.4" height="1.3" fill="#004700"/><rect x="1613.8" y="679" width="127.4" height="1.3" fill="#007d00"/><rect x="1613.8" y="680" width="127.4" height="1.3" fill="#009a00"/><rect x="1613.8" y="681" width="127.4" height="1.3" fill="#009200"/><rect x="1613.8" y="682" width="127.4" height="1.3" fill="#007600"/><rect x="1613.8" y="683" width="127.4" height="1.3" fill="#007200"/><rect x="1613.8" y="684" width="127.4" height="1.3" fill="#008200"/><rect x="1613.8" y="685" width="127.4" height="1.3" fill="#008a00"/><rect x="1613.8" y="686" width="127.4" height="1.3" fill="#007200"/><rect x="1613.8" y="687" width="127.4" height="1.3" fill="#00a000"/><rect x="1613.8" y="688" width="127.4" height="1.3" fill="#003500"/><rect x="1613.8" y="689" width="127.4" height="2.3" fill="#002300"/><rect x="1613.8" y="691" width="127.4" height="1.3" fill="#003800"/><rect x="1613.8" y="692" width="127.4" height="1.3" fill="#004200"/><rect x="1613.8" y="693" width="127.4" height="1.3" fill="#001a00"/><rect x="1613.8" y="694" width="127.4" height="1.3" fill="#002900"/><rect x="1613.8" y="695" width="127.4" height="1.3" fill="#003600"/><rect x="1613.8" y="696" width="127.4" height="1.3" fill="#002b00"/><rect x="1613.8" y="697" width="127.4" height="1.3" fill="#002000"/><rect x="1613.8" y="698" width="127.4" height="1.3" fill="#007100"/><rect x="1613.8" y="699" width="127.4" height="1.3" fill="#004100"/><rect x="1613.8" y="700" width="127.4" height="1.3" fill="#004500"/><rect x="1613.8" y="701" width="127.4" height="1.3" fill="#006b00"/><rect x="1613.8" y="702" width="127.4" height="1.3" fill="#004500"/><rect x="1613.8" y="703" width="127.4" height="1.3" fill="#006700"/><rect x="1613.8" y="704" width="127.4" height="1.3" fill="#004e00"/><rect x="1613.8" y="705" width="127.4" height="1.3" fill="#005800"/><rect x="1613.8" y="706" width="127.4" height="1.3" fill="#003f00"/><rect x="1613.8" y="707" width="127.4" height="1.3" fill="#006600"/><rect x="1613.8" y="708" width="127.4" height="1.3" fill="#005e00"/><rect x="1613.8" y="709" width="127.4" height="1.3" fill="#004f00"/><rect x="1613.8" y="710" width="127.4" height="2.3" fill="#002c00"/><rect x="1613.8" y="712" width="127.4" height="1.3" fill="#002800"/><rect x="1613.8" y="713" width="127.4" height="1.3" fill="#002500"/><rect x="1613.8" y="714" width="127.4" height="1.3" fill="#000c00"/><rect x="1613.8" y="715" width="127.4" height="1.3" fill="#050100"/><rect x="1613.8" y="716" width="127.4" height="1.3" fill="#060100"/><rect x="1613.8" y="717" width="127.4" height="1.3" fill="#010000"/><rect x="1613.8" y="718" width="127.4" height="1.3" fill="#002b00"/><rect x="1613.8" y="719" width="127.4" height="1.3" fill="#004500"/><rect x="1613.8" y="720" width="127.4" height="1.3" fill="#003000"/><rect x="1613.8" y="721" width="127.4" height="1.3" fill="#004800"/><rect x="1613.8" y="722" width="127.4" height="1.3" fill="#771200"/><rect x="1613.8" y="723" width="127.4" height="1.3" fill="#510c00"/><rect x="1613.8" y="724" width="127.4" height="1.3" fill="#6f1100"/><rect x="1613.8" y="725" width="127.4" height="1.3" fill="#020000"/><rect x="1613.8" y="726" width="127.4" height="1.3" fill="#000200"/><rect x="1613.8" y="727" width="127.4" height="1.3" fill="#000300"/><rect x="1613.8" y="728" width="127.4" height="1.3" fill="#000000"/><rect x="1613.8" y="729" width="127.4" height="1.3" fill="#000400"/><rect x="1613.8" y="730" width="127.4" height="1.3" fill="#001400"/><rect x="1613.8" y="731" width="127.4" height="1.3" fill="#550d00"/><rect x="1613.8" y="732" width="127.4" height="2.3" fill="#560d00"/><rect x="1613.8" y="734" width="127.4" height="1.3" fill="#4f0c00"/><rect x="1613.8" y="735" width="127.4" height="1.3" fill="#5c0e00"/><rect x="1613.8" y="736" width="127.4" height="1.3" fill="#001b00"/><rect x="1613.8" y="737" width="127.4" height="1.3" fill="#002700"/><rect x="1613.8" y="738" width="127.4" height="1.3" fill="#007300"/><rect x="1613.8" y="739" width="127.4" height="1.3" fill="#005900"/><rect x="1613.8" y="740" width="127.4" height="1.3" fill="#005e00"/><rect x="1613.8" y="741" width="127.4" height="1.3" fill="#005f00"/><rect x="1613.8" y="742" width="127.4" height="1.3" fill="#005c00"/><rect x="1613.8" y="743" width="127.4" height="1.3" fill="#007100"/><rect x="1613.8" y="744" width="127.4" height="1.3" fill="#006e00"/><rect x="1613.8" y="745" width="127.4" height="1.3" fill="#005c00"/>
<rect x="1740.9" y="241" width="127.4" height="1.3" fill="#003900"/><rect x="1740.9" y="242" width="127.4" height="1.3" fill="#003400"/><rect x="1740.9" y="243" width="127.4" height="2.3" fill="#002e00"/><rect x="1740.9" y="245" width="127.4" height="1.3" fill="#003600"/><rect x="1740.9" y="246" width="127.4" height="1.3" fill="#002600"/><rect x="1740.9" y="247" width="127.4" height="1.3" fill="#003500"/><rect x="1740.9" y="248" width="127.4" height="1.3" fill="#002900"/><rect x="1740.9" y="249" width="127.4" height="1.3" fill="#002500"/><rect x="1740.9" y="250" width="127.4" height="1.3" fill="#003f00"/><rect x="1740.9" y="251" width="127.4" height="1.3" fill="#003e00"/><rect x="1740.9" y="252" width="127.4" height="1.3" fill="#005700"/><rect x="1740.9" y="253" width="127.4" height="1.3" fill="#005900"/><rect x="1740.9" y="254" width="127.4" height="1.3" fill="#005000"/><rect x="1740.9" y="255" width="127.4" height="1.3" fill="#004200"/><rect x="1740.9" y="256" width="127.4" height="1.3" fill="#003500"/><rect x="1740.9" y="257" width="127.4" height="1.3" fill="#006b00"/><rect x="1740.9" y="258" width="127.4" height="1.3" fill="#005600"/><rect x="1740.9" y="259" width="127.4" height="1.3" fill="#006600"/><rect x="1740.9" y="260" width="127.4" height="1.3" fill="#006400"/><rect x="1740.9" y="261" width="127.4" height="1.3" fill="#005e00"/><rect x="1740.9" y="262" width="127.4" height="1.3" fill="#005100"/><rect x="1740.9" y="263" width="127.4" height="1.3" fill="#004500"/><rect x="1740.9" y="264" width="127.4" height="1.3" fill="#003900"/><rect x="1740.9" y="265" width="127.4" height="1.3" fill="#005500"/><rect x="1740.9" y="266" width="127.4" height="2.3" fill="#003c00"/><rect x="1740.9" y="268" width="127.4" height="1.3" fill="#004700"/><rect x="1740.9" y="269" width="127.4" height="1.3" fill="#2a0600"/><rect x="1740.9" y="270" width="127.4" height="1.3" fill="#1d0400"/><rect x="1740.9" y="271" width="127.4" height="1.3" fill="#170300"/><rect x="1740.9" y="272" width="127.4" height="1.3" fill="#1f0500"/><rect x="1740.9" y="273" width="127.4" height="1.3" fill="#1c0400"/><rect x="1740.9" y="274" width="127.4" height="1.3" fill="#460a00"/><rect x="1740.9" y="275" width="127.4" height="1.3" fill="#1e0400"/><rect x="1740.9" y="276" width="127.4" height="1.3" fill="#001000"/><rect x="1740.9" y="277" width="127.4" height="1.3" fill="#002200"/><rect x="1740.9" y="278" width="127.4" height="1.3" fill="#002000"/><rect x="1740.9" y="279" width="127.4" height="1.3" fill="#001b00"/><rect x="1740.9" y="280" width="127.4" height="1.3" fill="#002d00"/><rect x="1740.9" y="281" width="127.4" height="1.3" fill="#001900"/><rect x="1740.9" y="282" width="127.4" height="1.3" fill="#002000"/><rect x="1740.9" y="283" width="127.4" height="1.3" fill="#003600"/><rect x="1740.9" y="284" width="127.4" height="2.3" fill="#001d00"/><rect x="1740.9" y="286" width="127.4" height="1.3" fill="#0c0200"/><rect x="1740.9" y="287" width="127.4" height="1.3" fill="#190400"/><rect x="1740.9" y="288" width="127.4" height="1.3" fill="#004600"/><rect x="1740.9" y="289" width="127.4" height="1.3" fill="#003a00"/><rect x="1740.9" y="290" width="127.4" height="1.3" fill="#003700"/><rect x="1740.9" y="291" width="127.4" height="1.3" fill="#004c00"/><rect x="1740.9" y="292" width="127.4" height="1.3" fill="#003200"/><rect x="1740.9" y="293" width="127.4" height="1.3" fill="#005300"/><rect x="1740.9" y="294" width="127.4" height="1.3" fill="#005100"/><rect x="1740.9" y="295" width="127.4" height="1.3" fill="#003a00"/><rect x="1740.9" y="296" width="127.4" height="1.3" fill="#004f00"/><rect x="1740.9" y="297" width="127.4" height="1.3" fill="#004200"/><rect x="1740.9" y="298" width="127.4" height="1.3" fill="#005600"/><rect x="1740.9" y="299" width="127.4" height="1.3" fill="#004000"/><rect x="1740.9" y="300" width="127.4" height="1.3" fill="#004f00"/><rect x="1740.9" y="301" width="127.4" height="1.3" fill="#003c00"/><rect x="1740.9" y="302" width="127.4" height="1.3" fill="#005400"/><rect x="1740.9" y="303" width="127.4" height="1.3" fill="#003b00"/><rect x="1740.9" y="304" width="127.4" height="1.3" fill="#009400"/><rect x="1740.9" y="305" width="127.4" height="1.3" fill="#008f00"/><rect x="1740.9" y="306" width="127.4" height="1.3" fill="#009100"/><rect x="1740.9" y="307" width="127.4" height="1.3" fill="#008e00"/><rect x="1740.9" y="308" width="127.4" height="1.3" fill="#00a400"/><rect x="1740.9" y="309" width="127.4" height="1.3" fill="#00b700"/><rect x="1740.9" y="310" width="127.4" height="1.3" fill="#008f00"/><rect x="1740.9" y="311" width="127.4" height="1.3" fill="#270600"/><rect x="1740.9" y="312" width="127.4" height="1.3" fill="#2d0700"/><rect x="1740.9" y="313" width="127.4" height="1.3" fill="#380800"/><rect x="1740.9" y="314" width="127.4" height="1.3" fill="#1a0400"/><rect x="1740.9" y="315" width="127.4" height="1.3" fill="#290600"/><rect x="1740.9" y="316" width="127.4" height="1.3" fill="#2b0600"/><rect x="1740.9" y="317" width="127.4" height="1.3" fill="#250600"/><rect x="1740.9" y="318" width="127.4" height="1.3" fill="#360800"/><rect x="1740.9" y="319" width="127.4" height="1.3" fill="#310700"/><rect x="1740.9" y="320" width="127.4" height="1.3" fill="#003500"/><rect x="1740.9" y="321" width="127.4" height="1.3" fill="#003700"/><rect x="1740.9" y="322" width="127.4" height="1.3" fill="#002100"/><rect x="1740.9" y="323" width="127.4" height="1.3" fill="#003300"/><rect x="1740.9" y="324" width="127.4" height="1.3" fill="#002400"/><rect x="1740.9" y="325" width="127.4" height="1.3" fill="#001000"/><rect x="1740.9" y="326" width="127.4" height="1.3" fill="#002b00"/><rect x="1740.9" y="327" width="127.4" height="1.3" fill="#002200"/><rect x="1740.9" y="328" width="127.4" height="1.3" fill="#001600"/><rect x="1740.9" y="329" width="127.4" height="1.3" fill="#001200"/><rect x="1740.9" y="330" width="127.4" height="1.3" fill="#000d00"/><rect x="1740.9" y="331" width="127.4" height="1.3" fill="#000c00"/><rect x="1740.9" y="332" width="127.4" height="1.3" fill="#000a00"/><rect x="1740.9" y="333" width="127.4" height="1.3" fill="#590d00"/><rect x="1740.9" y="334" width="127.4" height="1.3" fill="#5b0e00"/><rect x="1740.9" y="335" width="127.4" height="1.3" fill="#681000"/><rect x="1740.9" y="336" width="127.4" height="1.3" fill="#580d00"/><rect x="1740.9" y="337" width="127.4" height="1.3" fill="#6c1000"/><rect x="1740.9" y="338" width="127.4" height="1.3" fill="#480b00"/><rect x="1740.9" y="339" width="127.4" height="1.3" fill="#660f00"/><rect x="1740.9" y="340" width="127.4" height="1.3" fill="#001f00"/><rect x="1740.9" y="341" width="127.4" height="1.3" fill="#003400"/><rect x="1740.9" y="342" width="127.4" height="1.3" fill="#001100"/><rect x="1740.9" y="343" width="127.4" height="1.3" fill="#001900"/><rect x="1740.9" y="344" width="127.4" height="1.3" fill="#160300"/><rect x="1740.9" y="345" width="127.4" height="1.3" fill="#090100"/><rect x="1740.9" y="346" width="127.4" height="1.3" fill="#100200"/><rect x="1740.9" y="347" width="127.4" height="1.3" fill="#270600"/><rect x="1740.9" y="348" width="127.4" height="1.3" fill="#003500"/><rect x="1740.9" y="349" width="127.4" height="1.3" fill="#005500"/><rect x="1740.9" y="350" width="127.4" height="1.3" fill="#003600"/><rect x="1740.9" y="351" width="127.4" height="1.3" fill="#003a00"/><rect x="1740.9" y="352" width="127.4" height="1.3" fill="#002d00"/><rect x="1740.9" y="353" width="127.4" height="1.3" fill="#003000"/><rect x="1740.9" y="354" width="127.4" height="1.3" fill="#003600"/><rect x="1740.9" y="355" width="127.4" height="1.3" fill="#005300"/><rect x="1740.9" y="356" width="127.4" height="1.3" fill="#003a00"/><rect x="1740.9" y="357" width="127.4" height="1.3" fill="#005b00"/><rect x="1740.9" y="358" width="127.4" height="1.3" fill="#002f00"/><rect x="1740.9" y="359" width="127.4" height="1.3" fill="#004f00"/><rect x="1740.9" y="360" width="127.4" height="1.3" fill="#005600"/><rect x="1740.9" y="361" width="127.4" height="1.3" fill="#003e00"/><rect x="1740.9" y="362" width="127.4" height="1.3" fill="#004100"/><rect x="1740.9" y="363" width="127.4" height="1.3" fill="#005600"/><rect x="1740.9" y="364" width="127.4" height="1.3" fill="#340800"/><rect x="1740.9" y="365" width="127.4" height="1.3" fill="#150300"/><rect x="1740.9" y="366" width="127.4" height="1.3" fill="#200500"/><rect x="1740.9" y="367" width="127.4" height="1.3" fill="#390900"/><rect x="1740.9" y="368" width="127.4" height="1.3" fill="#2f0700"/><rect x="1740.9" y="369" width="127.4" height="1.3" fill="#220500"/><rect x="1740.9" y="370" width="127.4" height="1.3" fill="#390900"/><rect x="1740.9" y="371" width="127.4" height="1.3" fill="#000b00"/><rect x="1740.9" y="372" width="127.4" height="1.3" fill="#001600"/><rect x="1740.9" y="373" width="127.4" height="1.3" fill="#002a00"/><rect x="1740.9" y="374" width="127.4" height="1.3" fill="#001a00"/><rect x="1740.9" y="375" width="127.4" height="1.3" fill="#220500"/><rect x="1740.9" y="376" width="127.4" height="1.3" fill="#260600"/><rect x="1740.9" y="377" width="127.4" height="1.3" fill="#320800"/><rect x="1740.9" y="378" width="127.4" height="1.3" fill="#1a0400"/><rect x="1740.9" y="379" width="127.4" height="1.3" fill="#020000"/><rect x="1740.9" y="380" width="127.4" height="1.3" fill="#070100"/><rect x="1740.9" y="381" width="127.4" height="1.3" fill="#140300"/><rect x="1740.9" y="382" width="127.4" height="1.3" fill="#000300"/><rect x="1740.9" y="383" width="127.4" height="1.3" fill="#160300"/><rect x="1740.9" y="384" width="127.4" height="1.3" fill="#001700"/><rect x="1740.9" y="385" width="127.4" height="1.3" fill="#4b0b00"/><rect x="1740.9" y="386" width="127.4" height="1.3" fill="#380800"/><rect x="1740.9" y="387" width="127.4" height="1.3" fill="#470b00"/><rect x="1740.9" y="388" width="127.4" height="1.3" fill="#4a0b00"/><rect x="1740.9" y="389" width="127.4" height="1.3" fill="#320800"/><rect x="1740.9" y="390" width="127.4" height="1.3" fill="#400a00"/><rect x="1740.9" y="391" width="127.4" height="1.3" fill="#440a00"/><rect x="1740.9" y="392" width="127.4" height="1.3" fill="#480b00"/><rect x="1740.9" y="393" width="127.4" height="1.3" fill="#510c00"/><rect x="1740.9" y="394" width="127.4" height="1.3" fill="#500c00"/><rect x="1740.9" y="395" width="127.4" height="1.3" fill="#430a00"/><rect x="1740.9" y="396" width="127.4" height="1.3" fill="#801300"/><rect x="1740.9" y="397" width="127.4" height="2.3" fill="#5b0e00"/><rect x="1740.9" y="399" width="127.4" height="1.3" fill="#8e1500"/><rect x="1740.9" y="400" width="127.4" height="1.3" fill="#b41b00"/><rect x="1740.9" y="401" width="127.4" height="1.3" fill="#9d1800"/><rect x="1740.9" y="402" width="127.4" height="1.3" fill="#bc1c00"/><rect x="1740.9" y="403" width="127.4" height="1.3" fill="#b31b00"/><rect x="1740.9" y="404" width="127.4" height="1.3" fill="#a61900"/><rect x="1740.9" y="405" width="127.4" height="1.3" fill="#b11b00"/><rect x="1740.9" y="406" width="127.4" height="1.3" fill="#941600"/><rect x="1740.9" y="407" width="127.4" height="1.3" fill="#a01800"/><rect x="1740.9" y="408" width="127.4" height="1.3" fill="#9d1800"/><rect x="1740.9" y="409" width="127.4" height="1.3" fill="#1c0400"/><rect x="1740.9" y="410" width="127.4" height="1.3" fill="#2b0600"/><rect x="1740.9" y="411" width="127.4" height="1.3" fill="#290600"/><rect x="1740.9" y="412" width="127.4" height="1.3" fill="#3d0900"/><rect x="1740.9" y="413" width="127.4" height="1.3" fill="#030000"/><rect x="1740.9" y="414" width="127.4" height="1.3" fill="#861400"/><rect x="1740.9" y="415" width="127.4" height="1.3" fill="#821400"/><rect x="1740.9" y="416" width="127.4" height="1.3" fill="#891500"/><rect x="1740.9" y="417" width="127.4" height="2.3" fill="#961600"/><rect x="1740.9" y="419" width="127.4" height="1.3" fill="#001200"/><rect x="1740.9" y="420" width="127.4" height="1.3" fill="#001700"/><rect x="1740.9" y="421" width="127.4" height="1.3" fill="#000c00"/><rect x="1740.9" y="422" width="127.4" height="1.3" fill="#000e00"/><rect x="1740.9" y="423" width="127.4" height="1.3" fill="#002700"/><rect x="1740.9" y="424" width="127.4" height="1.3" fill="#001500"/><rect x="1740.9" y="425" width="127.4" height="1.3" fill="#002200"/><rect x="1740.9" y="426" width="127.4" height="1.3" fill="#001f00"/><rect x="1740.9" y="427" width="127.4" height="1.3" fill="#001000"/><rect x="1740.9" y="428" width="127.4" height="1.3" fill="#330800"/><rect x="1740.9" y="429" width="127.4" height="1.3" fill="#340800"/><rect x="1740.9" y="430" width="127.4" height="1.3" fill="#280600"/><rect x="1740.9" y="431" width="127.4" height="1.3" fill="#300700"/><rect x="1740.9" y="432" width="127.4" height="1.3" fill="#000300"/><rect x="1740.9" y="433" width="127.4" height="1.3" fill="#0b0200"/><rect x="1740.9" y="434" width="127.4" height="1.3" fill="#0f0200"/><rect x="1740.9" y="435" width="127.4" height="1.3" fill="#1b0400"/><rect x="1740.9" y="436" width="127.4" height="1.3" fill="#150300"/><rect x="1740.9" y="437" width="127.4" height="1.3" fill="#991700"/><rect x="1740.9" y="438" width="127.4" height="1.3" fill="#9e1800"/><rect x="1740.9" y="439" width="127.4" height="1.3" fill="#971700"/><rect x="1740.9" y="440" width="127.4" height="1.3" fill="#aa1a00"/><rect x="1740.9" y="441" width="127.4" height="1.3" fill="#005000"/><rect x="1740.9" y="442" width="127.4" height="1.3" fill="#006200"/><rect x="1740.9" y="443" width="127.4" height="1.3" fill="#008b00"/><rect x="1740.9" y="444" width="127.4" height="2.3" fill="#007e00"/><rect x="1740.9" y="446" width="127.4" height="1.3" fill="#006500"/><rect x="1740.9" y="447" width="127.4" height="1.3" fill="#006c00"/><rect x="1740.9" y="448" width="127.4" height="1.3" fill="#030000"/><rect x="1740.9" y="449" width="127.4" height="1.3" fill="#130300"/><rect x="1740.9" y="450" width="127.4" height="1.3" fill="#000900"/><rect x="1740.9" y="451" width="127.4" height="1.3" fill="#002e00"/><rect x="1740.9" y="452" width="127.4" height="1.3" fill="#000d00"/><rect x="1740.9" y="453" width="127.4" height="1.3" fill="#002000"/><rect x="1740.9" y="454" width="127.4" height="1.3" fill="#002d00"/><rect x="1740.9" y="455" width="127.4" height="1.3" fill="#003c00"/><rect x="1740.9" y="456" width="127.4" height="1.3" fill="#003600"/><rect x="1740.9" y="457" width="127.4" height="1.3" fill="#007f00"/><rect x="1740.9" y="458" width="127.4" height="2.3" fill="#005d00"/><rect x="1740.9" y="460" width="127.4" height="1.3" fill="#005000"/><rect x="1740.9" y="461" width="127.4" height="1.3" fill="#005f00"/><rect x="1740.9" y="462" width="127.4" height="1.3" fill="#006700"/><rect x="1740.9" y="463" width="127.4" height="1.3" fill="#006800"/><rect x="1740.9" y="464" width="127.4" height="1.3" fill="#004400"/><rect x="1740.9" y="465" width="127.4" height="1.3" fill="#007600"/><rect x="1740.9" y="466" width="127.4" height="1.3" fill="#005b00"/><rect x="1740.9" y="467" width="127.4" height="1.3" fill="#005d00"/><rect x="1740.9" y="468" width="127.4" height="1.3" fill="#1d0400"/><rect x="1740.9" y="469" width="127.4" height="1.3" fill="#110300"/><rect x="1740.9" y="470" width="127.4" height="1.3" fill="#1b0400"/><rect x="1740.9" y="471" width="127.4" height="1.3" fill="#1f0500"/><rect x="1740.9" y="472" width="127.4" height="1.3" fill="#140300"/><rect x="1740.9" y="473" width="127.4" height="1.3" fill="#000100"/><rect x="1740.9" y="474" width="127.4" height="1.3" fill="#020000"/><rect x="1740.9" y="475" width="127.4" height="1.3" fill="#000700"/><rect x="1740.9" y="476" width="127.4" height="1.3" fill="#010000"/><rect x="1740.9" y="477" width="127.4" height="1.3" fill="#000000"/><rect x="1740.9" y="478" width="127.4" height="1.3" fill="#060100"/><rect x="1740.9" y="479" width="127.4" height="1.3" fill="#080100"/><rect x="1740.9" y="480" width="127.4" height="1.3" fill="#070100"/><rect x="1740.9" y="481" width="127.4" height="1.3" fill="#000c00"/><rect x="1740.9" y="482" width="127.4" height="1.3" fill="#000100"/><rect x="1740.9" y="483" width="127.4" height="1.3" fill="#000400"/><rect x="1740.9" y="484" width="127.4" height="1.3" fill="#010000"/><rect x="1740.9" y="485" width="127.4" height="1.3" fill="#000700"/><rect x="1740.9" y="486" width="127.4" height="1.3" fill="#2e0700"/><rect x="1740.9" y="487" width="127.4" height="1.3" fill="#260600"/><rect x="1740.9" y="488" width="127.4" height="1.3" fill="#220500"/><rect x="1740.9" y="489" width="127.4" height="1.3" fill="#360800"/><rect x="1740.9" y="490" width="127.4" height="1.3" fill="#3b0900"/><rect x="1740.9" y="491" width="127.4" height="1.3" fill="#330800"/><rect x="1740.9" y="492" width="127.4" height="1.3" fill="#300700"/><rect x="1740.9" y="493" width="127.4" height="1.3" fill="#2e0700"/><rect x="1740.9" y="494" width="127.4" height="1.3" fill="#260600"/><rect x="1740.9" y="495" width="127.4" height="1.3" fill="#004100"/><rect x="1740.9" y="496" width="127.4" height="1.3" fill="#002300"/><rect x="1740.9" y="497" width="127.4" height="1.3" fill="#002900"/><rect x="1740.9" y="498" width="127.4" height="1.3" fill="#003200"/><rect x="1740.9" y="499" width="127.4" height="1.3" fill="#7a1200"/><rect x="1740.9" y="500" width="127.4" height="1.3" fill="#9c1700"/><rect x="1740.9" y="501" width="127.4" height="1.3" fill="#6e1000"/><rect x="1740.9" y="502" width="127.4" height="1.3" fill="#a31800"/><rect x="1740.9" y="503" width="127.4" height="1.3" fill="#921600"/><rect x="1740.9" y="504" width="127.4" height="1.3" fill="#ac1a00"/><rect x="1740.9" y="505" width="127.4" height="1.3" fill="#7e1300"/><rect x="1740.9" y="506" width="127.4" height="1.3" fill="#410a00"/><rect x="1740.9" y="507" width="127.4" height="1.3" fill="#3a0900"/><rect x="1740.9" y="508" width="127.4" height="1.3" fill="#430a00"/><rect x="1740.9" y="509" width="127.4" height="1.3" fill="#3e0900"/><rect x="1740.9" y="510" width="127.4" height="1.3" fill="#370800"/><rect x="1740.9" y="511" width="127.4" height="1.3" fill="#b71b00"/><rect x="1740.9" y="512" width="127.4" height="1.3" fill="#991700"/><rect x="1740.9" y="513" width="127.4" height="1.3" fill="#9e1800"/><rect x="1740.9" y="514" width="127.4" height="1.3" fill="#ae1a00"/><rect x="1740.9" y="515" width="127.4" height="1.3" fill="#9d1800"/><rect x="1740.9" y="516" width="127.4" height="1.3" fill="#9f1800"/><rect x="1740.9" y="517" width="127.4" height="1.3" fill="#ab1a00"/><rect x="1740.9" y="518" width="127.4" height="1.3" fill="#a01800"/><rect x="1740.9" y="519" width="127.4" height="1.3" fill="#460a00"/><rect x="1740.9" y="520" width="127.4" height="1.3" fill="#550d00"/><rect x="1740.9" y="521" width="127.4" height="1.3" fill="#530c00"/><rect x="1740.9" y="522" width="127.4" height="1.3" fill="#290600"/><rect x="1740.9" y="523" width="127.4" height="1.3" fill="#090100"/><rect x="1740.9" y="524" width="127.4" height="1.3" fill="#210500"/><rect x="1740.9" y="525" width="127.4" height="1.3" fill="#0d0200"/><rect x="1740.9" y="526" width="127.4" height="2.3" fill="#120300"/><rect x="1740.9" y="528" width="127.4" height="1.3" fill="#190400"/><rect x="1740.9" y="529" width="127.4" height="1.3" fill="#691000"/><rect x="1740.9" y="530" width="127.4" height="1.3" fill="#751200"/><rect x="1740.9" y="531" width="127.4" height="1.3" fill="#550d00"/><rect x="1740.9" y="532" width="127.4" height="1.3" fill="#701100"/><rect x="1740.9" y="533" width="127.4" height="1.3" fill="#6b1000"/><rect x="1740.9" y="534" width="127.4" height="1.3" fill="#691000"/><rect x="1740.9" y="535" width="127.4" height="1.3" fill="#004300"/><rect x="1740.9" y="536" width="127.4" height="1.3" fill="#002e00"/><rect x="1740.9" y="537" width="127.4" height="1.3" fill="#003b00"/><rect x="1740.9" y="538" width="127.4" height="1.3" fill="#003500"/><rect x="1740.9" y="539" width="127.4" height="1.3" fill="#002000"/><rect x="1740.9" y="540" width="127.4" height="1.3" fill="#001500"/><rect x="1740.9" y="541" width="127.4" height="2.3" fill="#001000"/><rect x="1740.9" y="543" width="127.4" height="1.3" fill="#001f00"/><rect x="1740.9" y="544" width="127.4" height="1.3" fill="#001100"/><rect x="1740.9" y="545" width="127.4" height="1.3" fill="#000c00"/><rect x="1740.9" y="546" width="127.4" height="1.3" fill="#150300"/><rect x="1740.9" y="547" width="127.4" height="1.3" fill="#320800"/><rect x="1740.9" y="548" width="127.4" height="1.3" fill="#110300"/><rect x="1740.9" y="549" width="127.4" height="2.3" fill="#270600"/><rect x="1740.9" y="551" width="127.4" height="1.3" fill="#320800"/><rect x="1740.9" y="552" width="127.4" height="1.3" fill="#240500"/><rect x="1740.9" y="553" width="127.4" height="1.3" fill="#1b0400"/><rect x="1740.9" y="554" width="127.4" height="1.3" fill="#170300"/><rect x="1740.9" y="555" width="127.4" height="1.3" fill="#120300"/><rect x="1740.9" y="556" width="127.4" height="1.3" fill="#3c0900"/><rect x="1740.9" y="557" width="127.4" height="1.3" fill="#2f0700"/><rect x="1740.9" y="558" width="127.4" height="1.3" fill="#2a0600"/><rect x="1740.9" y="559" width="127.4" height="1.3" fill="#390900"/><rect x="1740.9" y="560" width="127.4" height="1.3" fill="#290600"/><rect x="1740.9" y="561" width="127.4" height="2.3" fill="#2d0700"/><rect x="1740.9" y="563" width="127.4" height="1.3" fill="#470b00"/><rect x="1740.9" y="564" width="127.4" height="1.3" fill="#440a00"/><rect x="1740.9" y="565" width="127.4" height="1.3" fill="#003c00"/><rect x="1740.9" y="566" width="127.4" height="1.3" fill="#004d00"/><rect x="1740.9" y="567" width="127.4" height="1.3" fill="#003600"/><rect x="1740.9" y="568" width="127.4" height="1.3" fill="#080100"/><rect x="1740.9" y="569" width="127.4" height="1.3" fill="#0b0200"/><rect x="1740.9" y="570" width="127.4" height="1.3" fill="#0d0200"/><rect x="1740.9" y="571" width="127.4" height="1.3" fill="#040100"/><rect x="1740.9" y="572" width="127.4" height="1.3" fill="#001900"/><rect x="1740.9" y="573" width="127.4" height="1.3" fill="#001a00"/><rect x="1740.9" y="574" width="127.4" height="1.3" fill="#002100"/><rect x="1740.9" y="575" width="127.4" height="1.3" fill="#002900"/><rect x="1740.9" y="576" width="127.4" height="1.3" fill="#100200"/><rect x="1740.9" y="577" width="127.4" height="1.3" fill="#1e0400"/><rect x="1740.9" y="578" width="127.4" height="1.3" fill="#090100"/><rect x="1740.9" y="579" width="127.4" height="1.3" fill="#140300"/><rect x="1740.9" y="580" width="127.4" height="1.3" fill="#001e00"/><rect x="1740.9" y="581" width="127.4" height="1.3" fill="#002600"/><rect x="1740.9" y="582" width="127.4" height="1.3" fill="#000f00"/><rect x="1740.9" y="583" width="127.4" height="1.3" fill="#001600"/><rect x="1740.9" y="584" width="127.4" height="1.3" fill="#001500"/><rect x="1740.9" y="585" width="127.4" height="1.3" fill="#000c00"/><rect x="1740.9" y="586" width="127.4" height="1.3" fill="#002700"/><rect x="1740.9" y="587" width="127.4" height="1.3" fill="#150300"/><rect x="1740.9" y="588" width="127.4" height="1.3" fill="#190400"/><rect x="1740.9" y="589" width="127.4" height="1.3" fill="#1f0500"/><rect x="1740.9" y="590" width="127.4" height="1.3" fill="#090100"/><rect x="1740.9" y="591" width="127.4" height="1.3" fill="#002300"/><rect x="1740.9" y="592" width="127.4" height="1.3" fill="#002900"/><rect x="1740.9" y="593" width="127.4" height="1.3" fill="#001b00"/><rect x="1740.9" y="594" width="127.4" height="1.3" fill="#001d00"/><rect x="1740.9" y="595" width="127.4" height="1.3" fill="#002500"/><rect x="1740.9" y="596" width="127.4" height="1.3" fill="#170300"/><rect x="1740.9" y="597" width="127.4" height="1.3" fill="#000000"/><rect x="1740.9" y="598" width="127.4" height="1.3" fill="#000500"/><rect x="1740.9" y="599" width="127.4" height="1.3" fill="#006a00"/><rect x="1740.9" y="600" width="127.4" height="1.3" fill="#007200"/><rect x="1740.9" y="601" width="127.4" height="1.3" fill="#006500"/><rect x="1740.9" y="602" width="127.4" height="1.3" fill="#007f00"/><rect x="1740.9" y="603" width="127.4" height="1.3" fill="#006600"/><rect x="1740.9" y="604" width="127.4" height="1.3" fill="#005f00"/><rect x="1740.9" y="605" width="127.4" height="1.3" fill="#005700"/><rect x="1740.9" y="606" width="127.4" height="1.3" fill="#006a00"/><rect x="1740.9" y="607" width="127.4" height="1.3" fill="#005200"/><rect x="1740.9" y="608" width="127.4" height="1.3" fill="#006e00"/><rect x="1740.9" y="609" width="127.4" height="1.3" fill="#006700"/><rect x="1740.9" y="610" width="127.4" height="1.3" fill="#00b400"/><rect x="1740.9" y="611" width="127.4" height="2.3" fill="#00a300"/><rect x="1740.9" y="613" width="127.4" height="1.3" fill="#008100"/><rect x="1740.9" y="614" width="127.4" height="1.3" fill="#008f00"/><rect x="1740.9" y="615" width="127.4" height="1.3" fill="#00a800"/><rect x="1740.9" y="616" width="127.4" height="1.3" fill="#004100"/><rect x="1740.9" y="617" width="127.4" height="1.3" fill="#004200"/><rect x="1740.9" y="618" width="127.4" height="1.3" fill="#004b00"/><rect x="1740.9" y="619" width="127.4" height="1.3" fill="#004800"/><rect x="1740.9" y="620" width="127.4" height="1.3" fill="#001200"/><rect x="1740.9" y="621" width="127.4" height="1.3" fill="#001400"/><rect x="1740.9" y="622" width="127.4" height="1.3" fill="#002200"/><rect x="1740.9" y="623" width="127.4" height="1.3" fill="#000f00"/><rect x="1740.9" y="624" width="127.4" height="1.3" fill="#000000"/><rect x="1740.9" y="625" width="127.4" height="1.3" fill="#010000"/><rect x="1740.9" y="626" width="127.4" height="1.3" fill="#280600"/><rect x="1740.9" y="627" width="127.4" height="1.3" fill="#220500"/><rect x="1740.9" y="628" width="127.4" height="1.3" fill="#006000"/><rect x="1740.9" y="629" width="127.4" height="1.3" fill="#005200"/><rect x="1740.9" y="630" width="127.4" height="1.3" fill="#005900"/><rect x="1740.9" y="631" width="127.4" height="1.3" fill="#006500"/><rect x="1740.9" y="632" width="127.4" height="1.3" fill="#005900"/><rect x="1740.9" y="633" width="127.4" height="1.3" fill="#006000"/><rect x="1740.9" y="634" width="127.4" height="1.3" fill="#005700"/><rect x="1740.9" y="635" width="127.4" height="1.3" fill="#006300"/><rect x="1740.9" y="636" width="127.4" height="1.3" fill="#007100"/><rect x="1740.9" y="637" width="127.4" height="1.3" fill="#004000"/><rect x="1740.9" y="638" width="127.4" height="1.3" fill="#003700"/><rect x="1740.9" y="639" width="127.4" height="1.3" fill="#004f00"/><rect x="1740.9" y="640" width="127.4" height="1.3" fill="#004200"/><rect x="1740.9" y="641" width="127.4" height="1.3" fill="#003600"/><rect x="1740.9" y="642" width="127.4" height="1.3" fill="#004500"/><rect x="1740.9" y="643" width="127.4" height="1.3" fill="#004900"/><rect x="1740.9" y="644" width="127.4" height="1.3" fill="#002800"/><rect x="1740.9" y="645" width="127.4" height="1.3" fill="#003600"/><rect x="1740.9" y="646" width="127.4" height="1.3" fill="#003400"/><rect x="1740.9" y="647" width="127.4" height="1.3" fill="#004d00"/><rect x="1740.9" y="648" width="127.4" height="1.3" fill="#002d00"/><rect x="1740.9" y="649" width="127.4" height="1.3" fill="#005500"/><rect x="1740.9" y="650" width="127.4" height="1.3" fill="#004700"/><rect x="1740.9" y="651" width="127.4" height="1.3" fill="#003800"/><rect x="1740.9" y="652" width="127.4" height="1.3" fill="#003000"/><rect x="1740.9" y="653" width="127.4" height="1.3" fill="#004c00"/><rect x="1740.9" y="654" width="127.4" height="1.3" fill="#004900"/><rect x="1740.9" y="655" width="127.4" height="1.3" fill="#005b00"/><rect x="1740.9" y="656" width="127.4" height="1.3" fill="#007700"/><rect x="1740.9" y="657" width="127.4" height="1.3" fill="#005500"/><rect x="1740.9" y="658" width="127.4" height="1.3" fill="#005600"/><rect x="1740.9" y="659" width="127.4" height="1.3" fill="#006400"/><rect x="1740.9" y="660" width="127.4" height="1.3" fill="#005600"/><rect x="1740.9" y="661" width="127.4" height="1.3" fill="#005300"/><rect x="1740.9" y="662" width="127.4" height="1.3" fill="#005a00"/><rect x="1740.9" y="663" width="127.4" height="1.3" fill="#005700"/><rect x="1740.9" y="664" width="127.4" height="1.3" fill="#004a00"/><rect x="1740.9" y="665" width="127.4" height="1.3" fill="#006400"/><rect x="1740.9" y="666" width="127.4" height="1.3" fill="#003f00"/><rect x="1740.9" y="667" width="127.4" height="1.3" fill="#004700"/><rect x="1740.9" y="668" width="127.4" height="1.3" fill="#003400"/><rect x="1740.9" y="669" width="127.4" height="1.3" fill="#004600"/><rect x="1740.9" y="670" width="127.4" height="1.3" fill="#003b00"/><rect x="1740.9" y="671" width="127.4" height="1.3" fill="#003f00"/><rect x="1740.9" y="672" width="127.4" height="1.3" fill="#004000"/><rect x="1740.9" y="673" width="127.4" height="1.3" fill="#002c00"/><rect x="1740.9" y="674" width="127.4" height="1.3" fill="#004200"/><rect x="1740.9" y="675" width="127.4" height="1.3" fill="#002f00"/><rect x="1740.9" y="676" width="127.4" height="1.3" fill="#005a00"/><rect x="1740.9" y="677" width="127.4" height="1.3" fill="#005300"/><rect x="1740.9" y="678" width="127.4" height="1.3" fill="#006700"/><rect x="1740.9" y="679" width="127.4" height="1.3" fill="#005800"/><rect x="1740.9" y="680" width="127.4" height="1.3" fill="#005b00"/><rect x="1740.9" y="681" width="127.4" height="1.3" fill="#006d00"/><rect x="1740.9" y="682" width="127.4" height="1.3" fill="#006100"/><rect x="1740.9" y="683" width="127.4" height="1.3" fill="#006700"/><rect x="1740.9" y="684" width="127.4" height="1.3" fill="#000400"/><rect x="1740.9" y="685" width="127.4" height="1.3" fill="#0a0200"/><rect x="1740.9" y="686" width="127.4" height="1.3" fill="#000b00"/><rect x="1740.9" y="687" width="127.4" height="1.3" fill="#001500"/><rect x="1740.9" y="688" width="127.4" height="1.3" fill="#001600"/><rect x="1740.9" y="689" width="127.4" height="1.3" fill="#002200"/><rect x="1740.9" y="690" width="127.4" height="1.3" fill="#002400"/><rect x="1740.9" y="691" width="127.4" height="1.3" fill="#001d00"/><rect x="1740.9" y="692" width="127.4" height="1.3" fill="#001600"/><rect x="1740.9" y="693" width="127.4" height="1.3" fill="#000900"/><rect x="1740.9" y="694" width="127.4" height="1.3" fill="#001900"/><rect x="1740.9" y="695" width="127.4" height="1.3" fill="#001800"/><rect x="1740.9" y="696" width="127.4" height="1.3" fill="#002500"/><rect x="1740.9" y="697" width="127.4" height="1.3" fill="#001600"/><rect x="1740.9" y="698" width="127.4" height="2.3" fill="#000e00"/><rect x="1740.9" y="700" width="127.4" height="1.3" fill="#003300"/><rect x="1740.9" y="701" width="127.4" height="1.3" fill="#3d0900"/><rect x="1740.9" y="702" width="127.4" height="1.3" fill="#450a00"/><rect x="1740.9" y="703" width="127.4" height="1.3" fill="#3c0900"/><rect x="1740.9" y="704" width="127.4" height="1.3" fill="#210500"/><rect x="1740.9" y="705" width="127.4" height="1.3" fill="#0b0200"/><rect x="1740.9" y="706" width="127.4" height="1.3" fill="#150300"/><rect x="1740.9" y="707" width="127.4" height="1.3" fill="#130300"/><rect x="1740.9" y="708" width="127.4" height="1.3" fill="#060100"/><rect x="1740.9" y="709" width="127.4" height="1.3" fill="#1a0400"/><rect x="1740.9" y="710" width="127.4" height="1.3" fill="#2f0700"/><rect x="1740.9" y="711" width="127.4" height="1.3" fill="#150300"/><rect x="1740.9" y="712" width="127.4" height="1.3" fill="#340800"/><rect x="1740.9" y="713" width="127.4" height="1.3" fill="#240500"/><rect x="1740.9" y="714" width="127.4" height="1.3" fill="#270600"/><rect x="1740.9" y="715" width="127.4" height="1.3" fill="#150300"/><rect x="1740.9" y="716" width="127.4" height="1.3" fill="#1d0400"/><rect x="1740.9" y="717" width="127.4" height="1.3" fill="#001c00"/><rect x="1740.9" y="718" width="127.4" height="1.3" fill="#003500"/><rect x="1740.9" y="719" width="127.4" height="1.3" fill="#000c00"/><rect x="1740.9" y="720" width="127.4" height="1.3" fill="#003400"/><rect x="1740.9" y="721" width="127.4" height="1.3" fill="#003200"/><rect x="1740.9" y="722" width="127.4" height="1.3" fill="#741100"/><rect x="1740.9" y="723" width="127.4" height="1.3" fill="#7a1200"/><rect x="1740.9" y="724" width="127.4" height="1.3" fill="#7d1300"/><rect x="1740.9" y="725" width="127.4" height="1.3" fill="#6e1000"/><rect x="1740.9" y="726" width="127.4" height="2.3" fill="#701100"/><rect x="1740.9" y="728" width="127.4" height="1.3" fill="#6b1000"/><rect x="1740.9" y="729" width="127.4" height="1.3" fill="#851400"/><rect x="1740.9" y="730" width="127.4" height="1.3" fill="#bc1c00"/><rect x="1740.9" y="731" width="127.4" height="1.3" fill="#b11b00"/><rect x="1740.9" y="732" width="127.4" height="1.3" fill="#af1a00"/><rect x="1740.9" y="733" width="127.4" height="1.3" fill="#a31800"/><rect x="1740.9" y="734" width="127.4" height="1.3" fill="#b11b00"/><rect x="1740.9" y="735" width="127.4" height="1.3" fill="#ad1a00"/><rect x="1740.9" y="736" width="127.4" height="1.3" fill="#ac1a00"/><rect x="1740.9" y="737" width="127.4" height="1.3" fill="#a01800"/><rect x="1740.9" y="738" width="127.4" height="1.3" fill="#771200"/><rect x="1740.9" y="739" width="127.4" height="1.3" fill="#941600"/><rect x="1740.9" y="740" width="127.4" height="1.3" fill="#811300"/><rect x="1740.9" y="741" width="127.4" height="1.3" fill="#8b1500"/><rect x="1740.9" y="742" width="127.4" height="1.3" fill="#a61900"/><rect x="1740.9" y="743" width="127.4" height="1.3" fill="#801300"/><rect x="1740.9" y="744" width="127.4" height="1.3" fill="#8f1500"/><rect x="1740.9" y="745" width="127.4" height="1.3" fill="#871400"/>
<rect x="1868.0" y="241" width="127.4" height="1.3" fill="#190400"/><rect x="1868.0" y="242" width="127.4" height="1.3" fill="#040100"/><rect x="1868.0" y="243" width="127.4" height="1.3" fill="#002800"/><rect x="1868.0" y="244" width="127.4" height="1.3" fill="#001000"/><rect x="1868.0" y="245" width="127.4" height="2.3" fill="#001900"/><rect x="1868.0" y="247" width="127.4" height="1.3" fill="#000a00"/><rect x="1868.0" y="248" width="127.4" height="1.3" fill="#001f00"/><rect x="1868.0" y="249" width="127.4" height="1.3" fill="#001a00"/><rect x="1868.0" y="250" width="127.4" height="1.3" fill="#003100"/><rect x="1868.0" y="251" width="127.4" height="1.3" fill="#002e00"/><rect x="1868.0" y="252" width="127.4" height="1.3" fill="#003900"/><rect x="1868.0" y="253" width="127.4" height="1.3" fill="#002600"/><rect x="1868.0" y="254" width="127.4" height="1.3" fill="#001800"/><rect x="1868.0" y="255" width="127.4" height="1.3" fill="#003700"/><rect x="1868.0" y="256" width="127.4" height="1.3" fill="#001c00"/><rect x="1868.0" y="257" width="127.4" height="1.3" fill="#0c0200"/><rect x="1868.0" y="258" width="127.4" height="1.3" fill="#340800"/><rect x="1868.0" y="259" width="127.4" height="1.3" fill="#005400"/><rect x="1868.0" y="260" width="127.4" height="1.3" fill="#004d00"/><rect x="1868.0" y="261" width="127.4" height="1.3" fill="#005300"/><rect x="1868.0" y="262" width="127.4" height="1.3" fill="#005700"/><rect x="1868.0" y="263" width="127.4" height="1.3" fill="#005f00"/><rect x="1868.0" y="264" width="127.4" height="1.3" fill="#005400"/><rect x="1868.0" y="265" width="127.4" height="1.3" fill="#003f00"/><rect x="1868.0" y="266" width="127.4" height="1.3" fill="#004100"/><rect x="1868.0" y="267" width="127.4" height="1.3" fill="#005400"/><rect x="1868.0" y="268" width="127.4" height="1.3" fill="#005600"/><rect x="1868.0" y="269" width="127.4" height="1.3" fill="#005800"/><rect x="1868.0" y="270" width="127.4" height="1.3" fill="#005e00"/><rect x="1868.0" y="271" width="127.4" height="1.3" fill="#003800"/><rect x="1868.0" y="272" width="127.4" height="1.3" fill="#004700"/><rect x="1868.0" y="273" width="127.4" height="1.3" fill="#004e00"/><rect x="1868.0" y="274" width="127.4" height="1.3" fill="#005500"/><rect x="1868.0" y="275" width="127.4" height="1.3" fill="#003700"/><rect x="1868.0" y="276" width="127.4" height="1.3" fill="#001c00"/><rect x="1868.0" y="277" width="127.4" height="1.3" fill="#002200"/><rect x="1868.0" y="278" width="127.4" height="1.3" fill="#003600"/><rect x="1868.0" y="279" width="127.4" height="1.3" fill="#002000"/><rect x="1868.0" y="280" width="127.4" height="1.3" fill="#003800"/><rect x="1868.0" y="281" width="127.4" height="1.3" fill="#002400"/><rect x="1868.0" y="282" width="127.4" height="1.3" fill="#003600"/><rect x="1868.0" y="283" width="127.4" height="1.3" fill="#003000"/><rect x="1868.0" y="284" width="127.4" height="1.3" fill="#002500"/><rect x="1868.0" y="285" width="127.4" height="1.3" fill="#002600"/><rect x="1868.0" y="286" width="127.4" height="1.3" fill="#001f00"/><rect x="1868.0" y="287" width="127.4" height="1.3" fill="#003500"/><rect x="1868.0" y="288" width="127.4" height="1.3" fill="#001900"/><rect x="1868.0" y="289" width="127.4" height="1.3" fill="#003400"/><rect x="1868.0" y="290" width="127.4" height="1.3" fill="#004500"/><rect x="1868.0" y="291" width="127.4" height="1.3" fill="#003f00"/><rect x="1868.0" y="292" width="127.4" height="1.3" fill="#004e00"/><rect x="1868.0" y="293" width="127.4" height="1.3" fill="#004600"/><rect x="1868.0" y="294" width="127.4" height="1.3" fill="#005500"/><rect x="1868.0" y="295" width="127.4" height="1.3" fill="#004300"/><rect x="1868.0" y="296" width="127.4" height="1.3" fill="#004200"/><rect x="1868.0" y="297" width="127.4" height="1.3" fill="#003400"/><rect x="1868.0" y="298" width="127.4" height="1.3" fill="#003900"/><rect x="1868.0" y="299" width="127.4" height="1.3" fill="#003a00"/><rect x="1868.0" y="300" width="127.4" height="1.3" fill="#004900"/><rect x="1868.0" y="301" width="127.4" height="1.3" fill="#004700"/><rect x="1868.0" y="302" width="127.4" height="1.3" fill="#004900"/><rect x="1868.0" y="303" width="127.4" height="1.3" fill="#004200"/><rect x="1868.0" y="304" width="127.4" height="1.3" fill="#005c00"/><rect x="1868.0" y="305" width="127.4" height="1.3" fill="#1e0400"/><rect x="1868.0" y="306" width="127.4" height="1.3" fill="#040100"/><rect x="1868.0" y="307" width="127.4" height="1.3" fill="#100200"/><rect x="1868.0" y="308" width="127.4" height="1.3" fill="#160300"/><rect x="1868.0" y="309" width="127.4" height="1.3" fill="#100200"/><rect x="1868.0" y="310" width="127.4" height="1.3" fill="#280600"/><rect x="1868.0" y="311" width="127.4" height="1.3" fill="#6b1000"/><rect x="1868.0" y="312" width="127.4" height="1.3" fill="#811300"/><rect x="1868.0" y="313" width="127.4" height="1.3" fill="#7c1300"/><rect x="1868.0" y="314" width="127.4" height="1.3" fill="#650f00"/><rect x="1868.0" y="315" width="127.4" height="1.3" fill="#711100"/><rect x="1868.0" y="316" width="127.4" height="1.3" fill="#7d1300"/><rect x="1868.0" y="317" width="127.4" height="1.3" fill="#681000"/><rect x="1868.0" y="318" width="127.4" height="1.3" fill="#6d1000"/><rect x="1868.0" y="319" width="127.4" height="1.3" fill="#640f00"/><rect x="1868.0" y="320" width="127.4" height="1.3" fill="#bc1c00"/><rect x="1868.0" y="321" width="127.4" height="1.3" fill="#b61b00"/><rect x="1868.0" y="322" width="127.4" height="1.3" fill="#bd1c00"/><rect x="1868.0" y="323" width="127.4" height="1.3" fill="#cb1e00"/><rect x="1868.0" y="324" width="127.4" height="1.3" fill="#d11f00"/><rect x="1868.0" y="325" width="127.4" height="1.3" fill="#3b0900"/><rect x="1868.0" y="326" width="127.4" height="1.3" fill="#3c0900"/><rect x="1868.0" y="327" width="127.4" height="1.3" fill="#440a00"/><rect x="1868.0" y="328" width="127.4" height="1.3" fill="#360800"/><rect x="1868.0" y="329" width="127.4" height="1.3" fill="#2d0700"/><rect x="1868.0" y="330" width="127.4" height="1.3" fill="#470b00"/><rect x="1868.0" y="331" width="127.4" height="1.3" fill="#2e0700"/><rect x="1868.0" y="332" width="127.4" height="1.3" fill="#801300"/><rect x="1868.0" y="333" width="127.4" height="1.3" fill="#660f00"/><rect x="1868.0" y="334" width="127.4" height="1.3" fill="#8c1500"/><rect x="1868.0" y="335" width="127.4" height="1.3" fill="#650f00"/><rect x="1868.0" y="336" width="127.4" height="1.3" fill="#7f1300"/><rect x="1868.0" y="337" width="127.4" height="1.3" fill="#002800"/><rect x="1868.0" y="338" width="127.4" height="1.3" fill="#004500"/><rect x="1868.0" y="339" width="127.4" height="1.3" fill="#002800"/><rect x="1868.0" y="340" width="127.4" height="1.3" fill="#004400"/><rect x="1868.0" y="341" width="127.4" height="1.3" fill="#004f00"/><rect x="1868.0" y="342" width="127.4" height="2.3" fill="#003100"/><rect x="1868.0" y="344" width="127.4" height="1.3" fill="#003c00"/><rect x="1868.0" y="345" width="127.4" height="1.3" fill="#005800"/><rect x="1868.0" y="346" width="127.4" height="1.3" fill="#230500"/><rect x="1868.0" y="347" width="127.4" height="1.3" fill="#210500"/><rect x="1868.0" y="348" width="127.4" height="1.3" fill="#002100"/><rect x="1868.0" y="349" width="127.4" height="1.3" fill="#002000"/><rect x="1868.0" y="350" width="127.4" height="1.3" fill="#003100"/><rect x="1868.0" y="351" width="127.4" height="1.3" fill="#002300"/><rect x="1868.0" y="352" width="127.4" height="1.3" fill="#000900"/><rect x="1868.0" y="353" width="127.4" height="1.3" fill="#000b00"/><rect x="1868.0" y="354" width="127.4" height="1.3" fill="#002100"/><rect x="1868.0" y="355" width="127.4" height="1.3" fill="#002500"/><rect x="1868.0" y="356" width="127.4" height="1.3" fill="#001800"/><rect x="1868.0" y="357" width="127.4" height="1.3" fill="#550d00"/><rect x="1868.0" y="358" width="127.4" height="1.3" fill="#510c00"/><rect x="1868.0" y="359" width="127.4" height="1.3" fill="#390900"/><rect x="1868.0" y="360" width="127.4" height="1.3" fill="#020000"/><rect x="1868.0" y="361" width="127.4" height="1.3" fill="#010000"/><rect x="1868.0" y="362" width="127.4" height="1.3" fill="#0f0200"/><rect x="1868.0" y="363" width="127.4" height="1.3" fill="#6d1000"/><rect x="1868.0" y="364" width="127.4" height="1.3" fill="#640f00"/><rect x="1868.0" y="365" width="127.4" height="1.3" fill="#6d1000"/><rect x="1868.0" y="366" width="127.4" height="1.3" fill="#580d00"/><rect x="1868.0" y="367" width="127.4" height="1.3" fill="#721100"/><rect x="1868.0" y="368" width="127.4" height="1.3" fill="#000100"/><rect x="1868.0" y="369" width="127.4" height="1.3" fill="#080100"/><rect x="1868.0" y="370" width="127.4" height="1.3" fill="#0d0200"/><rect x="1868.0" y="371" width="127.4" height="1.3" fill="#000600"/><rect x="1868.0" y="372" width="127.4" height="1.3" fill="#000400"/><rect x="1868.0" y="373" width="127.4" height="1.3" fill="#000f00"/><rect x="1868.0" y="374" width="127.4" height="1.3" fill="#000d00"/><rect x="1868.0" y="375" width="127.4" height="1.3" fill="#000f00"/><rect x="1868.0" y="376" width="127.4" height="1.3" fill="#001200"/><rect x="1868.0" y="377" width="127.4" height="1.3" fill="#004900"/><rect x="1868.0" y="378" width="127.4" height="1.3" fill="#006a00"/><rect x="1868.0" y="379" width="127.4" height="1.3" fill="#004f00"/><rect x="1868.0" y="380" width="127.4" height="1.3" fill="#004e00"/><rect x="1868.0" y="381" width="127.4" height="1.3" fill="#005300"/><rect x="1868.0" y="382" width="127.4" height="1.3" fill="#004500"/><rect x="1868.0" y="383" width="127.4" height="1.3" fill="#003900"/><rect x="1868.0" y="384" width="127.4" height="1.3" fill="#005500"/><rect x="1868.0" y="385" width="127.4" height="1.3" fill="#005b00"/><rect x="1868.0" y="386" width="127.4" height="1.3" fill="#005700"/><rect x="1868.0" y="387" width="127.4" height="1.3" fill="#004e00"/><rect x="1868.0" y="388" width="127.4" height="1.3" fill="#000800"/><rect x="1868.0" y="389" width="127.4" height="1.3" fill="#001800"/><rect x="1868.0" y="390" width="127.4" height="1.3" fill="#000400"/><rect x="1868.0" y="391" width="127.4" height="1.3" fill="#001900"/><rect x="1868.0" y="392" width="127.4" height="1.3" fill="#000500"/><rect x="1868.0" y="393" width="127.4" height="1.3" fill="#000a00"/><rect x="1868.0" y="394" width="127.4" height="1.3" fill="#005f00"/><rect x="1868.0" y="395" width="127.4" height="1.3" fill="#004800"/><rect x="1868.0" y="396" width="127.4" height="1.3" fill="#006800"/><rect x="1868.0" y="397" width="127.4" height="1.3" fill="#006700"/><rect x="1868.0" y="398" width="127.4" height="1.3" fill="#1e0400"/><rect x="1868.0" y="399" width="127.4" height="1.3" fill="#230500"/><rect x="1868.0" y="400" width="127.4" height="1.3" fill="#0a0200"/><rect x="1868.0" y="401" width="127.4" height="1.3" fill="#1c0400"/><rect x="1868.0" y="402" width="127.4" height="1.3" fill="#110300"/><rect x="1868.0" y="403" width="127.4" height="1.3" fill="#200500"/><rect x="1868.0" y="404" width="127.4" height="1.3" fill="#280600"/><rect x="1868.0" y="405" width="127.4" height="1.3" fill="#1a0400"/><rect x="1868.0" y="406" width="127.4" height="1.3" fill="#180400"/><rect x="1868.0" y="407" width="127.4" height="1.3" fill="#1b0400"/><rect x="1868.0" y="408" width="127.4" height="1.3" fill="#000800"/><rect x="1868.0" y="409" width="127.4" height="1.3" fill="#220500"/><rect x="1868.0" y="410" width="127.4" height="1.3" fill="#1f0500"/><rect x="1868.0" y="411" width="127.4" height="1.3" fill="#430a00"/><rect x="1868.0" y="412" width="127.4" height="1.3" fill="#3c0900"/><rect x="1868.0" y="413" width="127.4" height="1.3" fill="#380800"/><rect x="1868.0" y="414" width="127.4" height="1.3" fill="#3f0900"/><rect x="1868.0" y="415" width="127.4" height="1.3" fill="#500c00"/><rect x="1868.0" y="416" width="127.4" height="1.3" fill="#002500"/><rect x="1868.0" y="417" width="127.4" height="1.3" fill="#001500"/><rect x="1868.0" y="418" width="127.4" height="1.3" fill="#004100"/><rect x="1868.0" y="419" width="127.4" height="1.3" fill="#002900"/><rect x="1868.0" y="420" width="127.4" height="1.3" fill="#002100"/><rect x="1868.0" y="421" width="127.4" height="1.3" fill="#002400"/><rect x="1868.0" y="422" width="127.4" height="1.3" fill="#002000"/><rect x="1868.0" y="423" width="127.4" height="1.3" fill="#001600"/><rect x="1868.0" y="424" width="127.4" height="1.3" fill="#000100"/><rect x="1868.0" y="425" width="127.4" height="1.3" fill="#001c00"/><rect x="1868.0" y="426" width="127.4" height="1.3" fill="#001900"/><rect x="1868.0" y="427" width="127.4" height="1.3" fill="#001a00"/><rect x="1868.0" y="428" width="127.4" height="1.3" fill="#001400"/><rect x="1868.0" y="429" width="127.4" height="1.3" fill="#000700"/><rect x="1868.0" y="430" width="127.4" height="1.3" fill="#230500"/><rect x="1868.0" y="431" width="127.4" height="1.3" fill="#060100"/><rect x="1868.0" y="432" width="127.4" height="1.3" fill="#2d0700"/><rect x="1868.0" y="433" width="127.4" height="2.3" fill="#160300"/><rect x="1868.0" y="435" width="127.4" height="1.3" fill="#2f0700"/><rect x="1868.0" y="436" width="127.4" height="1.3" fill="#1c0400"/><rect x="1868.0" y="437" width="127.4" height="1.3" fill="#0f0200"/><rect x="1868.0" y="438" width="127.4" height="1.3" fill="#003a00"/><rect x="1868.0" y="439" width="127.4" height="1.3" fill="#003b00"/><rect x="1868.0" y="440" width="127.4" height="1.3" fill="#003e00"/><rect x="1868.0" y="441" width="127.4" height="1.3" fill="#003600"/><rect x="1868.0" y="442" width="127.4" height="1.3" fill="#270600"/><rect x="1868.0" y="443" width="127.4" height="1.3" fill="#210500"/><rect x="1868.0" y="444" width="127.4" height="1.3" fill="#0d0200"/><rect x="1868.0" y="445" width="127.4" height="1.3" fill="#3c0900"/><rect x="1868.0" y="446" width="127.4" height="1.3" fill="#002800"/><rect x="1868.0" y="447" width="127.4" height="2.3" fill="#001c00"/><rect x="1868.0" y="449" width="127.4" height="1.3" fill="#170300"/><rect x="1868.0" y="450" width="127.4" height="1.3" fill="#0b0200"/><rect x="1868.0" y="451" width="127.4" height="1.3" fill="#130300"/><rect x="1868.0" y="452" width="127.4" height="1.3" fill="#250600"/><rect x="1868.0" y="453" width="127.4" height="1.3" fill="#580d00"/><rect x="1868.0" y="454" width="127.4" height="1.3" fill="#480b00"/><rect x="1868.0" y="455" width="127.4" height="1.3" fill="#5b0e00"/><rect x="1868.0" y="456" width="127.4" height="1.3" fill="#4c0b00"/><rect x="1868.0" y="457" width="127.4" height="1.3" fill="#520c00"/><rect x="1868.0" y="458" width="127.4" height="1.3" fill="#590d00"/><rect x="1868.0" y="459" width="127.4" height="1.3" fill="#5b0e00"/><rect x="1868.0" y="460" width="127.4" height="1.3" fill="#530c00"/><rect x="1868.0" y="461" width="127.4" height="1.3" fill="#350800"/><rect x="1868.0" y="462" width="127.4" height="1.3" fill="#290600"/><rect x="1868.0" y="463" width="127.4" height="1.3" fill="#1c0400"/><rect x="1868.0" y="464" width="127.4" height="1.3" fill="#350800"/><rect x="1868.0" y="465" width="127.4" height="1.3" fill="#000400"/><rect x="1868.0" y="466" width="127.4" height="1.3" fill="#0d0200"/><rect x="1868.0" y="467" width="127.4" height="1.3" fill="#000700"/><rect x="1868.0" y="468" width="127.4" height="1.3" fill="#060100"/><rect x="1868.0" y="469" width="127.4" height="1.3" fill="#2f0700"/><rect x="1868.0" y="470" width="127.4" height="1.3" fill="#0c0200"/><rect x="1868.0" y="471" width="127.4" height="1.3" fill="#1a0400"/><rect x="1868.0" y="472" width="127.4" height="1.3" fill="#1e0400"/><rect x="1868.0" y="473" width="127.4" height="1.3" fill="#610f00"/><rect x="1868.0" y="474" width="127.4" height="1.3" fill="#370800"/><rect x="1868.0" y="475" width="127.4" height="1.3" fill="#5b0e00"/><rect x="1868.0" y="476" width="127.4" height="1.3" fill="#5d0e00"/><rect x="1868.0" y="477" width="127.4" height="1.3" fill="#550d00"/><rect x="1868.0" y="478" width="127.4" height="1.3" fill="#580d00"/><rect x="1868.0" y="479" width="127.4" height="1.3" fill="#490b00"/><rect x="1868.0" y="480" width="127.4" height="1.3" fill="#4f0c00"/><rect x="1868.0" y="481" width="127.4" height="1.3" fill="#520c00"/><rect x="1868.0" y="482" width="127.4" height="1.3" fill="#550d00"/><rect x="1868.0" y="483" width="127.4" height="1.3" fill="#580d00"/><rect x="1868.0" y="484" width="127.4" height="1.3" fill="#4d0c00"/><rect x="1868.0" y="485" width="127.4" height="1.3" fill="#001d00"/><rect x="1868.0" y="486" width="127.4" height="1.3" fill="#001c00"/><rect x="1868.0" y="487" width="127.4" height="1.3" fill="#001100"/><rect x="1868.0" y="488" width="127.4" height="1.3" fill="#002800"/><rect x="1868.0" y="489" width="127.4" height="1.3" fill="#5b0e00"/><rect x="1868.0" y="490" width="127.4" height="1.3" fill="#660f00"/><rect x="1868.0" y="491" width="127.4" height="1.3" fill="#650f00"/><rect x="1868.0" y="492" width="127.4" height="1.3" fill="#681000"/><rect x="1868.0" y="493" width="127.4" height="1.3" fill="#480b00"/><rect x="1868.0" y="494" width="127.4" height="1.3" fill="#8b1500"/><rect x="1868.0" y="495" width="127.4" height="1.3" fill="#8c1500"/><rect x="1868.0" y="496" width="127.4" height="1.3" fill="#9b1700"/><rect x="1868.0" y="497" width="127.4" height="1.3" fill="#731100"/><rect x="1868.0" y="498" width="127.4" height="1.3" fill="#8c1500"/><rect x="1868.0" y="499" width="127.4" height="2.3" fill="#0c0200"/><rect x="1868.0" y="501" width="127.4" height="1.3" fill="#140300"/><rect x="1868.0" y="502" width="127.4" height="1.3" fill="#120300"/><rect x="1868.0" y="503" width="127.4" height="1.3" fill="#000400"/><rect x="1868.0" y="504" width="127.4" height="1.3" fill="#0e0200"/><rect x="1868.0" y="505" width="127.4" height="1.3" fill="#040100"/><rect x="1868.0" y="506" width="127.4" height="1.3" fill="#290600"/><rect x="1868.0" y="507" width="127.4" height="1.3" fill="#450a00"/><rect x="1868.0" y="508" width="127.4" height="1.3" fill="#2b0600"/><rect x="1868.0" y="509" width="127.4" height="1.3" fill="#3d0900"/><rect x="1868.0" y="510" width="127.4" height="1.3" fill="#430a00"/><rect x="1868.0" y="511" width="127.4" height="1.3" fill="#3d0900"/><rect x="1868.0" y="512" width="127.4" height="1.3" fill="#550d00"/><rect x="1868.0" y="513" width="127.4" height="1.3" fill="#4d0c00"/><rect x="1868.0" y="514" width="127.4" height="1.3" fill="#590d00"/><rect x="1868.0" y="515" width="127.4" height="1.3" fill="#721100"/><rect x="1868.0" y="516" width="127.4" height="1.3" fill="#640f00"/><rect x="1868.0" y="517" width="127.4" height="1.3" fill="#7a1200"/><rect x="1868.0" y="518" width="127.4" height="1.3" fill="#630f00"/><rect x="1868.0" y="519" width="127.4" height="1.3" fill="#660f00"/><rect x="1868.0" y="520" width="127.4" height="1.3" fill="#6a1000"/><rect x="1868.0" y="521" width="127.4" height="1.3" fill="#002b00"/><rect x="1868.0" y="522" width="127.4" height="1.3" fill="#001d00"/><rect x="1868.0" y="523" width="127.4" height="1.3" fill="#003200"/><rect x="1868.0" y="524" width="127.4" height="1.3" fill="#002700"/><rect x="1868.0" y="525" width="127.4" height="1.3" fill="#002c00"/><rect x="1868.0" y="526" width="127.4" height="1.3" fill="#003a00"/><rect x="1868.0" y="527" width="127.4" height="1.3" fill="#003800"/><rect x="1868.0" y="528" width="127.4" height="1.3" fill="#002e00"/><rect x="1868.0" y="529" width="127.4" height="1.3" fill="#002600"/><rect x="1868.0" y="530" width="127.4" height="1.3" fill="#002700"/><rect x="1868.0" y="531" width="127.4" height="1.3" fill="#005700"/><rect x="1868.0" y="532" width="127.4" height="1.3" fill="#005d00"/><rect x="1868.0" y="533" width="127.4" height="1.3" fill="#006300"/><rect x="1868.0" y="534" width="127.4" height="1.3" fill="#005800"/><rect x="1868.0" y="535" width="127.4" height="1.3" fill="#006b00"/><rect x="1868.0" y="536" width="127.4" height="1.3" fill="#761200"/><rect x="1868.0" y="537" width="127.4" height="1.3" fill="#841400"/><rect x="1868.0" y="538" width="127.4" height="1.3" fill="#741100"/><rect x="1868.0" y="539" width="127.4" height="1.3" fill="#811300"/><rect x="1868.0" y="540" width="127.4" height="1.3" fill="#7e1300"/><rect x="1868.0" y="541" width="127.4" height="1.3" fill="#811300"/><rect x="1868.0" y="542" width="127.4" height="1.3" fill="#881400"/><rect x="1868.0" y="543" width="127.4" height="1.3" fill="#7d1300"/><rect x="1868.0" y="544" width="127.4" height="1.3" fill="#831400"/><rect x="1868.0" y="545" width="127.4" height="1.3" fill="#701100"/><rect x="1868.0" y="546" width="127.4" height="1.3" fill="#8b1500"/><rect x="1868.0" y="547" width="127.4" height="1.3" fill="#7c1300"/><rect x="1868.0" y="548" width="127.4" height="1.3" fill="#711100"/><rect x="1868.0" y="549" width="127.4" height="1.3" fill="#460a00"/><rect x="1868.0" y="550" width="127.4" height="1.3" fill="#610f00"/><rect x="1868.0" y="551" width="127.4" height="1.3" fill="#6f1100"/><rect x="1868.0" y="552" width="127.4" height="1.3" fill="#4b0b00"/><rect x="1868.0" y="553" width="127.4" height="1.3" fill="#991700"/><rect x="1868.0" y="554" width="127.4" height="2.3" fill="#a01800"/><rect x="1868.0" y="556" width="127.4" height="1.3" fill="#881400"/><rect x="1868.0" y="557" width="127.4" height="1.3" fill="#4b0b00"/><rect x="1868.0" y="558" width="127.4" height="1.3" fill="#4a0b00"/><rect x="1868.0" y="559" width="127.4" height="1.3" fill="#3c0900"/><rect x="1868.0" y="560" width="127.4" height="1.3" fill="#510c00"/><rect x="1868.0" y="561" width="127.4" height="1.3" fill="#ac1a00"/><rect x="1868.0" y="562" width="127.4" height="1.3" fill="#ad1a00"/><rect x="1868.0" y="563" width="127.4" height="1.3" fill="#a61900"/><rect x="1868.0" y="564" width="127.4" height="1.3" fill="#b51b00"/><rect x="1868.0" y="565" width="127.4" height="1.3" fill="#005c00"/><rect x="1868.0" y="566" width="127.4" height="1.3" fill="#004f00"/><rect x="1868.0" y="567" width="127.4" height="1.3" fill="#005800"/><rect x="1868.0" y="568" width="127.4" height="1.3" fill="#006600"/><rect x="1868.0" y="569" width="127.4" height="1.3" fill="#006100"/><rect x="1868.0" y="570" width="127.4" height="1.3" fill="#005200"/><rect x="1868.0" y="571" width="127.4" height="1.3" fill="#006200"/><rect x="1868.0" y="572" width="127.4" height="1.3" fill="#003c00"/><rect x="1868.0" y="573" width="127.4" height="1.3" fill="#003a00"/><rect x="1868.0" y="574" width="127.4" height="1.3" fill="#004300"/><rect x="1868.0" y="575" width="127.4" height="1.3" fill="#005d00"/><rect x="1868.0" y="576" width="127.4" height="1.3" fill="#003f00"/><rect x="1868.0" y="577" width="127.4" height="1.3" fill="#003e00"/><rect x="1868.0" y="578" width="127.4" height="1.3" fill="#003f00"/><rect x="1868.0" y="579" width="127.4" height="1.3" fill="#004a00"/><rect x="1868.0" y="580" width="127.4" height="1.3" fill="#003200"/><rect x="1868.0" y="581" width="127.4" height="1.3" fill="#002d00"/><rect x="1868.0" y="582" width="127.4" height="1.3" fill="#003200"/><rect x="1868.0" y="583" width="127.4" height="1.3" fill="#003400"/><rect x="1868.0" y="584" width="127.4" height="1.3" fill="#002700"/><rect x="1868.0" y="585" width="127.4" height="1.3" fill="#003800"/><rect x="1868.0" y="586" width="127.4" height="1.3" fill="#003700"/><rect x="1868.0" y="587" width="127.4" height="1.3" fill="#001400"/><rect x="1868.0" y="588" width="127.4" height="1.3" fill="#001c00"/><rect x="1868.0" y="589" width="127.4" height="1.3" fill="#001f00"/><rect x="1868.0" y="590" width="127.4" height="1.3" fill="#001b00"/><rect x="1868.0" y="591" width="127.4" height="1.3" fill="#0e0200"/><rect x="1868.0" y="592" width="127.4" height="1.3" fill="#000b00"/><rect x="1868.0" y="593" width="127.4" height="2.3" fill="#140300"/><rect x="1868.0" y="595" width="127.4" height="1.3" fill="#001e00"/><rect x="1868.0" y="596" width="127.4" height="1.3" fill="#003a00"/><rect x="1868.0" y="597" width="127.4" height="1.3" fill="#001600"/><rect x="1868.0" y="598" width="127.4" height="1.3" fill="#001400"/><rect x="1868.0" y="599" width="127.4" height="1.3" fill="#002a00"/><rect x="1868.0" y="600" width="127.4" height="1.3" fill="#170300"/><rect x="1868.0" y="601" width="127.4" height="1.3" fill="#1e0400"/><rect x="1868.0" y="602" width="127.4" height="1.3" fill="#150300"/><rect x="1868.0" y="603" width="127.4" height="1.3" fill="#220500"/><rect x="1868.0" y="604" width="127.4" height="1.3" fill="#170300"/><rect x="1868.0" y="605" width="127.4" height="1.3" fill="#001c00"/><rect x="1868.0" y="606" width="127.4" height="1.3" fill="#002300"/><rect x="1868.0" y="607" width="127.4" height="1.3" fill="#003500"/><rect x="1868.0" y="608" width="127.4" height="1.3" fill="#002f00"/><rect x="1868.0" y="609" width="127.4" height="1.3" fill="#000000"/><rect x="1868.0" y="610" width="127.4" height="1.3" fill="#002100"/><rect x="1868.0" y="611" width="127.4" height="1.3" fill="#001500"/><rect x="1868.0" y="612" width="127.4" height="1.3" fill="#001700"/><rect x="1868.0" y="613" width="127.4" height="1.3" fill="#001000"/><rect x="1868.0" y="614" width="127.4" height="1.3" fill="#004f00"/><rect x="1868.0" y="615" width="127.4" height="1.3" fill="#005e00"/><rect x="1868.0" y="616" width="127.4" height="1.3" fill="#005600"/><rect x="1868.0" y="617" width="127.4" height="1.3" fill="#006f00"/><rect x="1868.0" y="618" width="127.4" height="1.3" fill="#005900"/><rect x="1868.0" y="619" width="127.4" height="1.3" fill="#004b00"/><rect x="1868.0" y="620" width="127.4" height="1.3" fill="#007200"/><rect x="1868.0" y="621" width="127.4" height="1.3" fill="#005400"/><rect x="1868.0" y="622" width="127.4" height="1.3" fill="#004c00"/><rect x="1868.0" y="623" width="127.4" height="1.3" fill="#004500"/><rect x="1868.0" y="624" width="127.4" height="1.3" fill="#00ac00"/><rect x="1868.0" y="625" width="127.4" height="1.3" fill="#00a800"/><rect x="1868.0" y="626" width="127.4" height="1.3" fill="#00bb00"/><rect x="1868.0" y="627" width="127.4" height="1.3" fill="#00ae00"/><rect x="1868.0" y="628" width="127.4" height="1.3" fill="#000100"/><rect x="1868.0" y="629" width="127.4" height="1.3" fill="#0f0200"/><rect x="1868.0" y="630" width="127.4" height="1.3" fill="#001300"/><rect x="1868.0" y="631" width="127.4" height="1.3" fill="#080100"/><rect x="1868.0" y="632" width="127.4" height="1.3" fill="#000300"/><rect x="1868.0" y="633" width="127.4" height="1.3" fill="#000c00"/><rect x="1868.0" y="634" width="127.4" height="1.3" fill="#100200"/><rect x="1868.0" y="635" width="127.4" height="1.3" fill="#006000"/><rect x="1868.0" y="636" width="127.4" height="1.3" fill="#004200"/><rect x="1868.0" y="637" width="127.4" height="1.3" fill="#003e00"/><rect x="1868.0" y="638" width="127.4" height="1.3" fill="#002600"/><rect x="1868.0" y="639" width="127.4" height="1.3" fill="#002b00"/><rect x="1868.0" y="640" width="127.4" height="1.3" fill="#002500"/><rect x="1868.0" y="641" width="127.4" height="1.3" fill="#003f00"/><rect x="1868.0" y="642" width="127.4" height="1.3" fill="#003500"/><rect x="1868.0" y="643" width="127.4" height="1.3" fill="#003e00"/><rect x="1868.0" y="644" width="127.4" height="1.3" fill="#004900"/><rect x="1868.0" y="645" width="127.4" height="1.3" fill="#004b00"/><rect x="1868.0" y="646" width="127.4" height="1.3" fill="#005200"/><rect x="1868.0" y="647" width="127.4" height="1.3" fill="#005400"/><rect x="1868.0" y="648" width="127.4" height="1.3" fill="#005f00"/><rect x="1868.0" y="649" width="127.4" height="1.3" fill="#003600"/><rect x="1868.0" y="650" width="127.4" height="1.3" fill="#005500"/><rect x="1868.0" y="651" width="127.4" height="1.3" fill="#006a00"/><rect x="1868.0" y="652" width="127.4" height="1.3" fill="#002800"/><rect x="1868.0" y="653" width="127.4" height="1.3" fill="#002c00"/><rect x="1868.0" y="654" width="127.4" height="1.3" fill="#002900"/><rect x="1868.0" y="655" width="127.4" height="1.3" fill="#001600"/><rect x="1868.0" y="656" width="127.4" height="1.3" fill="#002c00"/><rect x="1868.0" y="657" width="127.4" height="1.3" fill="#002e00"/><rect x="1868.0" y="658" width="127.4" height="1.3" fill="#003400"/><rect x="1868.0" y="659" width="127.4" height="1.3" fill="#002b00"/><rect x="1868.0" y="660" width="127.4" height="1.3" fill="#003000"/><rect x="1868.0" y="661" width="127.4" height="1.3" fill="#002900"/><rect x="1868.0" y="662" width="127.4" height="1.3" fill="#000600"/><rect x="1868.0" y="663" width="127.4" height="1.3" fill="#002700"/><rect x="1868.0" y="664" width="127.4" height="1.3" fill="#003500"/><rect x="1868.0" y="665" width="127.4" height="1.3" fill="#002900"/><rect x="1868.0" y="666" width="127.4" height="1.3" fill="#003600"/><rect x="1868.0" y="667" width="127.4" height="1.3" fill="#003700"/><rect x="1868.0" y="668" width="127.4" height="1.3" fill="#003800"/><rect x="1868.0" y="669" width="127.4" height="1.3" fill="#003700"/><rect x="1868.0" y="670" width="127.4" height="1.3" fill="#003800"/><rect x="1868.0" y="671" width="127.4" height="1.3" fill="#002f00"/><rect x="1868.0" y="672" width="127.4" height="1.3" fill="#003400"/><rect x="1868.0" y="673" width="127.4" height="1.3" fill="#003000"/><rect x="1868.0" y="674" width="127.4" height="1.3" fill="#004700"/><rect x="1868.0" y="675" width="127.4" height="1.3" fill="#004100"/><rect x="1868.0" y="676" width="127.4" height="1.3" fill="#004a00"/><rect x="1868.0" y="677" width="127.4" height="1.3" fill="#004300"/><rect x="1868.0" y="678" width="127.4" height="1.3" fill="#004500"/><rect x="1868.0" y="679" width="127.4" height="1.3" fill="#005500"/><rect x="1868.0" y="680" width="127.4" height="1.3" fill="#004800"/><rect x="1868.0" y="681" width="127.4" height="1.3" fill="#002e00"/><rect x="1868.0" y="682" width="127.4" height="1.3" fill="#003f00"/><rect x="1868.0" y="683" width="127.4" height="1.3" fill="#005e00"/><rect x="1868.0" y="684" width="127.4" height="1.3" fill="#005000"/><rect x="1868.0" y="685" width="127.4" height="1.3" fill="#002400"/><rect x="1868.0" y="686" width="127.4" height="1.3" fill="#002c00"/><rect x="1868.0" y="687" width="127.4" height="1.3" fill="#002700"/><rect x="1868.0" y="688" width="127.4" height="1.3" fill="#001d00"/><rect x="1868.0" y="689" width="127.4" height="1.3" fill="#002700"/><rect x="1868.0" y="690" width="127.4" height="1.3" fill="#003800"/><rect x="1868.0" y="691" width="127.4" height="1.3" fill="#002300"/><rect x="1868.0" y="692" width="127.4" height="1.3" fill="#002c00"/><rect x="1868.0" y="693" width="127.4" height="1.3" fill="#002a00"/><rect x="1868.0" y="694" width="127.4" height="1.3" fill="#003200"/><rect x="1868.0" y="695" width="127.4" height="1.3" fill="#003b00"/><rect x="1868.0" y="696" width="127.4" height="1.3" fill="#003200"/><rect x="1868.0" y="697" width="127.4" height="1.3" fill="#002800"/><rect x="1868.0" y="698" width="127.4" height="1.3" fill="#003000"/><rect x="1868.0" y="699" width="127.4" height="1.3" fill="#004300"/><rect x="1868.0" y="700" width="127.4" height="1.3" fill="#006a00"/><rect x="1868.0" y="701" width="127.4" height="1.3" fill="#008b00"/><rect x="1868.0" y="702" width="127.4" height="1.3" fill="#008500"/><rect x="1868.0" y="703" width="127.4" height="1.3" fill="#007300"/><rect x="1868.0" y="704" width="127.4" height="1.3" fill="#009c00"/><rect x="1868.0" y="705" width="127.4" height="1.3" fill="#1d0400"/><rect x="1868.0" y="706" width="127.4" height="1.3" fill="#060100"/><rect x="1868.0" y="707" width="127.4" height="1.3" fill="#160300"/><rect x="1868.0" y="708" width="127.4" height="1.3" fill="#090100"/><rect x="1868.0" y="709" width="127.4" height="1.3" fill="#120300"/><rect x="1868.0" y="710" width="127.4" height="1.3" fill="#100200"/><rect x="1868.0" y="711" width="127.4" height="1.3" fill="#001600"/><rect x="1868.0" y="712" width="127.4" height="1.3" fill="#002a00"/><rect x="1868.0" y="713" width="127.4" height="1.3" fill="#002600"/><rect x="1868.0" y="714" width="127.4" height="1.3" fill="#8f1500"/><rect x="1868.0" y="715" width="127.4" height="1.3" fill="#a51900"/><rect x="1868.0" y="716" width="127.4" height="1.3" fill="#881400"/><rect x="1868.0" y="717" width="127.4" height="1.3" fill="#981700"/><rect x="1868.0" y="718" width="127.4" height="1.3" fill="#260600"/><rect x="1868.0" y="719" width="127.4" height="1.3" fill="#2a0600"/><rect x="1868.0" y="720" width="127.4" height="1.3" fill="#2f0700"/><rect x="1868.0" y="721" width="127.4" height="1.3" fill="#130300"/><rect x="1868.0" y="722" width="127.4" height="1.3" fill="#270600"/><rect x="1868.0" y="723" width="127.4" height="1.3" fill="#220500"/><rect x="1868.0" y="724" width="127.4" height="1.3" fill="#200500"/><rect x="1868.0" y="725" width="127.4" height="1.3" fill="#1a0400"/><rect x="1868.0" y="726" width="127.4" height="1.3" fill="#6f1100"/><rect x="1868.0" y="727" width="127.4" height="1.3" fill="#6c1000"/><rect x="1868.0" y="728" width="127.4" height="1.3" fill="#6b1000"/><rect x="1868.0" y="729" width="127.4" height="1.3" fill="#9e1800"/><rect x="1868.0" y="730" width="127.4" height="1.3" fill="#120300"/><rect x="1868.0" y="731" width="127.4" height="1.3" fill="#000000"/><rect x="1868.0" y="732" width="127.4" height="1.3" fill="#080100"/><rect x="1868.0" y="733" width="127.4" height="1.3" fill="#003700"/><rect x="1868.0" y="734" width="127.4" height="1.3" fill="#004c00"/><rect x="1868.0" y="735" width="127.4" height="1.3" fill="#004100"/><rect x="1868.0" y="736" width="127.4" height="1.3" fill="#002a00"/><rect x="1868.0" y="737" width="127.4" height="1.3" fill="#001a00"/><rect x="1868.0" y="738" width="127.4" height="1.3" fill="#002c00"/><rect x="1868.0" y="739" width="127.4" height="1.3" fill="#0a0200"/><rect x="1868.0" y="740" width="127.4" height="1.3" fill="#130300"/><rect x="1868.0" y="741" width="127.4" height="1.3" fill="#0a0200"/><rect x="1868.0" y="742" width="127.4" height="1.3" fill="#003c00"/><rect x="1868.0" y="743" width="127.4" height="1.3" fill="#002e00"/><rect x="1868.0" y="744" width="127.4" height="1.3" fill="#003000"/><rect x="1868.0" y="745" width="127.4" height="1.3" fill="#003500"/>
</g>
<g id="collabels">
<text transform="translate(1299.3 771.3) rotate(-45)" font-size="20.5" text-anchor="end" fill="#000">P1</text>
<text transform="translate(1426.5 771.3) rotate(-45)" font-size="20.5" text-anchor="end" fill="#000">P2</text>
<text transform="translate(1553.5 771.3) rotate(-45)" font-size="20.5" text-anchor="end" fill="#000">D1</text>
<text transform="translate(1680.6 771.3) rotate(-45)" font-size="20.5" text-anchor="end" fill="#000">D2</text>
<text transform="translate(1807.7 771.3) rotate(-45)" font-size="20.5" text-anchor="end" fill="#000">G1</text>
<text transform="translate(1934.8 771.3) rotate(-45)" font-size="20.5" text-anchor="end" fill="#000">G2</text>
</g>
</svg>
</body></html>
